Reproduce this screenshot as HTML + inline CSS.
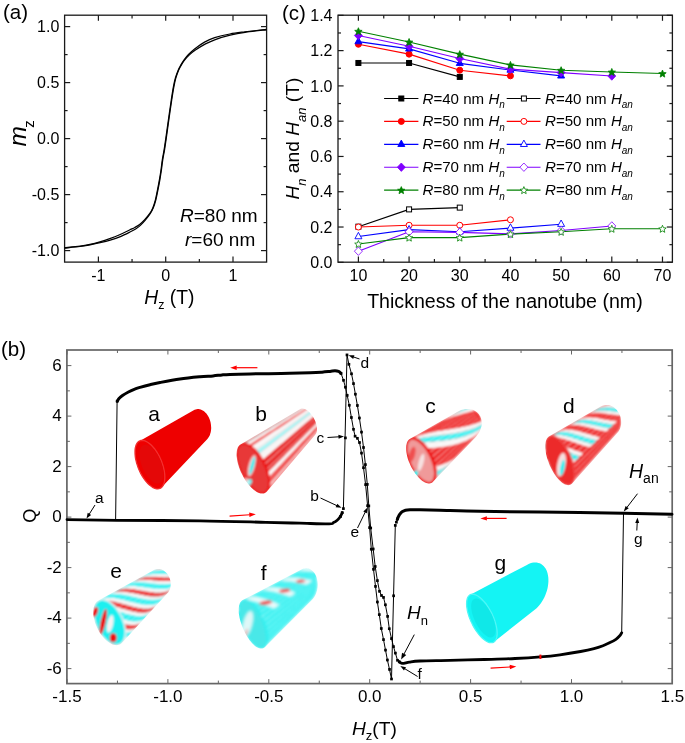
<!DOCTYPE html>
<html><head><meta charset="utf-8"><style>
html,body{margin:0;padding:0;background:#fff;}
svg{display:block;font-family:"Liberation Sans", sans-serif;will-change:transform;}
</style></head><body>
<svg width="685" height="743" viewBox="0 0 685 743">
<rect width="685" height="743" fill="#fff"/>
<rect x="64.6" y="15.2" width="202.00000000000003" height="246.90000000000003" fill="none" stroke="#1a1a1a" stroke-width="1.3"/>
<line x1="98.40" y1="262.10" x2="98.40" y2="256.50" stroke="#1a1a1a" stroke-width="1.2"/>
<line x1="98.40" y1="15.20" x2="98.40" y2="20.80" stroke="#1a1a1a" stroke-width="1.2"/>
<line x1="132.05" y1="262.10" x2="132.05" y2="258.90" stroke="#1a1a1a" stroke-width="1.2"/>
<line x1="132.05" y1="15.20" x2="132.05" y2="18.40" stroke="#1a1a1a" stroke-width="1.2"/>
<line x1="165.70" y1="262.10" x2="165.70" y2="256.50" stroke="#1a1a1a" stroke-width="1.2"/>
<line x1="165.70" y1="15.20" x2="165.70" y2="20.80" stroke="#1a1a1a" stroke-width="1.2"/>
<line x1="199.35" y1="262.10" x2="199.35" y2="258.90" stroke="#1a1a1a" stroke-width="1.2"/>
<line x1="199.35" y1="15.20" x2="199.35" y2="18.40" stroke="#1a1a1a" stroke-width="1.2"/>
<line x1="233.00" y1="262.10" x2="233.00" y2="256.50" stroke="#1a1a1a" stroke-width="1.2"/>
<line x1="233.00" y1="15.20" x2="233.00" y2="20.80" stroke="#1a1a1a" stroke-width="1.2"/>
<line x1="64.60" y1="26.60" x2="70.20" y2="26.60" stroke="#1a1a1a" stroke-width="1.2"/>
<line x1="266.60" y1="26.60" x2="261.00" y2="26.60" stroke="#1a1a1a" stroke-width="1.2"/>
<line x1="64.60" y1="54.60" x2="67.60" y2="54.60" stroke="#1a1a1a" stroke-width="1.2"/>
<line x1="266.60" y1="54.60" x2="263.60" y2="54.60" stroke="#1a1a1a" stroke-width="1.2"/>
<line x1="64.60" y1="82.60" x2="70.20" y2="82.60" stroke="#1a1a1a" stroke-width="1.2"/>
<line x1="266.60" y1="82.60" x2="261.00" y2="82.60" stroke="#1a1a1a" stroke-width="1.2"/>
<line x1="64.60" y1="110.60" x2="67.60" y2="110.60" stroke="#1a1a1a" stroke-width="1.2"/>
<line x1="266.60" y1="110.60" x2="263.60" y2="110.60" stroke="#1a1a1a" stroke-width="1.2"/>
<line x1="64.60" y1="138.60" x2="70.20" y2="138.60" stroke="#1a1a1a" stroke-width="1.2"/>
<line x1="266.60" y1="138.60" x2="261.00" y2="138.60" stroke="#1a1a1a" stroke-width="1.2"/>
<line x1="64.60" y1="166.60" x2="67.60" y2="166.60" stroke="#1a1a1a" stroke-width="1.2"/>
<line x1="266.60" y1="166.60" x2="263.60" y2="166.60" stroke="#1a1a1a" stroke-width="1.2"/>
<line x1="64.60" y1="194.60" x2="70.20" y2="194.60" stroke="#1a1a1a" stroke-width="1.2"/>
<line x1="266.60" y1="194.60" x2="261.00" y2="194.60" stroke="#1a1a1a" stroke-width="1.2"/>
<line x1="64.60" y1="222.60" x2="67.60" y2="222.60" stroke="#1a1a1a" stroke-width="1.2"/>
<line x1="266.60" y1="222.60" x2="263.60" y2="222.60" stroke="#1a1a1a" stroke-width="1.2"/>
<line x1="64.60" y1="250.60" x2="70.20" y2="250.60" stroke="#1a1a1a" stroke-width="1.2"/>
<line x1="266.60" y1="250.60" x2="261.00" y2="250.60" stroke="#1a1a1a" stroke-width="1.2"/>
<text x="59.30" y="32.30" font-size="16" text-anchor="end" fill="#000" >1.0</text>
<text x="59.30" y="88.30" font-size="16" text-anchor="end" fill="#000" >0.5</text>
<text x="59.30" y="144.30" font-size="16" text-anchor="end" fill="#000" >0.0</text>
<text x="59.30" y="200.30" font-size="16" text-anchor="end" fill="#000" >-0.5</text>
<text x="59.30" y="256.30" font-size="16" text-anchor="end" fill="#000" >-1.0</text>
<text x="98.40" y="280.50" font-size="16" text-anchor="middle" fill="#000" >-1</text>
<text x="165.70" y="280.50" font-size="16" text-anchor="middle" fill="#000" >0</text>
<text x="233.00" y="280.50" font-size="16" text-anchor="middle" fill="#000" >1</text>
<path d="M64.58,247.70 C67.15,247.43 75.74,246.66 79.97,246.10 C84.20,245.55 86.64,245.09 89.96,244.38 C93.28,243.68 96.59,242.82 99.89,241.87 C103.19,240.93 106.48,239.87 109.76,238.69 C113.05,237.50 116.31,236.23 119.61,234.78 C122.91,233.33 127.03,231.22 129.56,230.00 C132.09,228.79 133.10,228.42 134.78,227.50 C136.45,226.57 137.95,225.75 139.61,224.44 C141.27,223.13 143.02,221.48 144.72,219.65 C146.42,217.82 148.46,215.43 149.81,213.47 C151.16,211.52 151.88,210.18 152.82,207.92 C153.75,205.67 154.63,202.94 155.41,199.95 C156.19,196.96 156.84,193.29 157.50,189.96 C158.17,186.63 158.82,183.30 159.40,179.97 C159.99,176.63 160.52,173.30 161.00,169.97 C161.49,166.64 161.79,163.30 162.30,159.97 C162.82,156.64 163.52,153.53 164.10,149.97 C164.69,146.40 165.09,143.57 165.80,138.57 C166.52,133.57 167.49,126.41 168.40,119.97 C169.32,113.54 170.47,105.47 171.30,99.97 C172.14,94.47 172.72,90.63 173.40,86.96 C174.09,83.29 174.59,80.78 175.41,77.94 C176.23,75.10 177.40,72.10 178.32,69.92 C179.23,67.75 179.96,66.57 180.92,64.89 C181.88,63.21 182.82,61.57 184.08,59.83 C185.35,58.10 186.75,56.31 188.50,54.50 C190.25,52.68 191.93,51.01 194.59,48.94 C197.26,46.88 201.16,43.98 204.51,42.10 C207.86,40.22 210.46,39.01 214.68,37.66 C218.91,36.31 224.82,34.96 229.87,33.99 C234.91,33.02 238.88,32.61 244.96,31.84 C251.05,31.08 262.81,29.81 266.38,29.40" fill="none" stroke="#000" stroke-width="1.25"/>
<path d="M64.62,248.10 C67.19,247.83 75.79,247.04 80.03,246.50 C84.26,245.95 86.70,245.45 90.04,244.82 C93.39,244.19 96.75,243.51 100.11,242.73 C103.48,241.94 106.86,241.13 110.24,240.11 C113.62,239.10 117.02,238.00 120.39,236.62 C123.76,235.23 127.90,233.08 130.44,231.80 C132.98,230.51 133.96,229.98 135.62,228.90 C137.28,227.83 138.78,226.82 140.39,225.36 C142.00,223.90 143.65,222.09 145.28,220.15 C146.92,218.21 148.87,215.74 150.19,213.73 C151.51,211.72 152.25,210.36 153.18,208.08 C154.12,205.80 155.01,203.06 155.79,200.05 C156.58,197.04 157.23,193.38 157.90,190.04 C158.56,186.70 159.21,183.37 159.80,180.03 C160.38,176.70 160.91,173.36 161.40,170.03 C161.88,166.69 162.18,163.36 162.70,160.03 C163.21,156.70 163.91,153.60 164.50,150.03 C165.08,146.47 165.48,143.63 166.20,138.63 C166.91,133.63 167.88,126.46 168.80,120.03 C169.71,113.60 170.86,105.53 171.70,100.03 C172.53,94.53 173.11,90.70 173.80,87.04 C174.48,83.37 174.98,80.88 175.79,78.06 C176.61,75.23 177.77,72.24 178.68,70.08 C179.60,67.92 180.31,66.76 181.28,65.11 C182.26,63.45 183.22,61.83 184.52,60.17 C185.82,58.50 187.28,56.79 189.10,55.10 C190.91,53.42 192.67,51.93 195.41,50.06 C198.14,48.19 202.17,45.65 205.49,43.90 C208.81,42.15 211.21,40.99 215.32,39.54 C219.42,38.09 225.18,36.41 230.13,35.21 C235.09,34.01 238.99,33.26 245.04,32.36 C251.08,31.45 262.86,30.22 266.42,29.80" fill="none" stroke="#000" stroke-width="1.25"/>
<text x="3.00" y="18.70" font-size="20.5" text-anchor="start" fill="#000" >(a)</text>
<text x="180.00" y="222.00" font-size="19" text-anchor="start" fill="#000" ><tspan font-style="italic">R</tspan>=80 nm</text>
<text x="185.00" y="246.00" font-size="19" text-anchor="start" fill="#000" ><tspan font-style="italic">r</tspan>=60 nm</text>
<text x="144.20" y="303.80" font-size="19.3" text-anchor="start" fill="#000" ><tspan font-style="italic">H</tspan><tspan font-size="12.5" dy="5">z</tspan><tspan dy="-5"> (T)</tspan></text>
<text transform="translate(26.3,146.5) rotate(-90)" font-size="24.5" font-style="italic">m<tspan font-size="15" font-style="normal" dx="-1.6" dy="8">z</tspan></text>
<rect x="338.0" y="15.2" width="334.4" height="247.0" fill="none" stroke="#1a1a1a" stroke-width="1.3"/>
<line x1="358.40" y1="262.20" x2="358.40" y2="256.60" stroke="#1a1a1a" stroke-width="1.2"/>
<line x1="358.40" y1="15.20" x2="358.40" y2="20.80" stroke="#1a1a1a" stroke-width="1.2"/>
<line x1="383.74" y1="262.20" x2="383.74" y2="259.00" stroke="#1a1a1a" stroke-width="1.2"/>
<line x1="383.74" y1="15.20" x2="383.74" y2="18.40" stroke="#1a1a1a" stroke-width="1.2"/>
<line x1="409.08" y1="262.20" x2="409.08" y2="256.60" stroke="#1a1a1a" stroke-width="1.2"/>
<line x1="409.08" y1="15.20" x2="409.08" y2="20.80" stroke="#1a1a1a" stroke-width="1.2"/>
<line x1="434.42" y1="262.20" x2="434.42" y2="259.00" stroke="#1a1a1a" stroke-width="1.2"/>
<line x1="434.42" y1="15.20" x2="434.42" y2="18.40" stroke="#1a1a1a" stroke-width="1.2"/>
<line x1="459.76" y1="262.20" x2="459.76" y2="256.60" stroke="#1a1a1a" stroke-width="1.2"/>
<line x1="459.76" y1="15.20" x2="459.76" y2="20.80" stroke="#1a1a1a" stroke-width="1.2"/>
<line x1="485.10" y1="262.20" x2="485.10" y2="259.00" stroke="#1a1a1a" stroke-width="1.2"/>
<line x1="485.10" y1="15.20" x2="485.10" y2="18.40" stroke="#1a1a1a" stroke-width="1.2"/>
<line x1="510.44" y1="262.20" x2="510.44" y2="256.60" stroke="#1a1a1a" stroke-width="1.2"/>
<line x1="510.44" y1="15.20" x2="510.44" y2="20.80" stroke="#1a1a1a" stroke-width="1.2"/>
<line x1="535.78" y1="262.20" x2="535.78" y2="259.00" stroke="#1a1a1a" stroke-width="1.2"/>
<line x1="535.78" y1="15.20" x2="535.78" y2="18.40" stroke="#1a1a1a" stroke-width="1.2"/>
<line x1="561.12" y1="262.20" x2="561.12" y2="256.60" stroke="#1a1a1a" stroke-width="1.2"/>
<line x1="561.12" y1="15.20" x2="561.12" y2="20.80" stroke="#1a1a1a" stroke-width="1.2"/>
<line x1="586.46" y1="262.20" x2="586.46" y2="259.00" stroke="#1a1a1a" stroke-width="1.2"/>
<line x1="586.46" y1="15.20" x2="586.46" y2="18.40" stroke="#1a1a1a" stroke-width="1.2"/>
<line x1="611.80" y1="262.20" x2="611.80" y2="256.60" stroke="#1a1a1a" stroke-width="1.2"/>
<line x1="611.80" y1="15.20" x2="611.80" y2="20.80" stroke="#1a1a1a" stroke-width="1.2"/>
<line x1="637.14" y1="262.20" x2="637.14" y2="259.00" stroke="#1a1a1a" stroke-width="1.2"/>
<line x1="637.14" y1="15.20" x2="637.14" y2="18.40" stroke="#1a1a1a" stroke-width="1.2"/>
<line x1="662.48" y1="262.20" x2="662.48" y2="256.60" stroke="#1a1a1a" stroke-width="1.2"/>
<line x1="662.48" y1="15.20" x2="662.48" y2="20.80" stroke="#1a1a1a" stroke-width="1.2"/>
<line x1="338.00" y1="262.30" x2="343.60" y2="262.30" stroke="#1a1a1a" stroke-width="1.2"/>
<line x1="672.40" y1="262.30" x2="666.80" y2="262.30" stroke="#1a1a1a" stroke-width="1.2"/>
<line x1="338.00" y1="244.66" x2="341.00" y2="244.66" stroke="#1a1a1a" stroke-width="1.2"/>
<line x1="672.40" y1="244.66" x2="669.40" y2="244.66" stroke="#1a1a1a" stroke-width="1.2"/>
<line x1="338.00" y1="227.02" x2="343.60" y2="227.02" stroke="#1a1a1a" stroke-width="1.2"/>
<line x1="672.40" y1="227.02" x2="666.80" y2="227.02" stroke="#1a1a1a" stroke-width="1.2"/>
<line x1="338.00" y1="209.38" x2="341.00" y2="209.38" stroke="#1a1a1a" stroke-width="1.2"/>
<line x1="672.40" y1="209.38" x2="669.40" y2="209.38" stroke="#1a1a1a" stroke-width="1.2"/>
<line x1="338.00" y1="191.74" x2="343.60" y2="191.74" stroke="#1a1a1a" stroke-width="1.2"/>
<line x1="672.40" y1="191.74" x2="666.80" y2="191.74" stroke="#1a1a1a" stroke-width="1.2"/>
<line x1="338.00" y1="174.10" x2="341.00" y2="174.10" stroke="#1a1a1a" stroke-width="1.2"/>
<line x1="672.40" y1="174.10" x2="669.40" y2="174.10" stroke="#1a1a1a" stroke-width="1.2"/>
<line x1="338.00" y1="156.46" x2="343.60" y2="156.46" stroke="#1a1a1a" stroke-width="1.2"/>
<line x1="672.40" y1="156.46" x2="666.80" y2="156.46" stroke="#1a1a1a" stroke-width="1.2"/>
<line x1="338.00" y1="138.82" x2="341.00" y2="138.82" stroke="#1a1a1a" stroke-width="1.2"/>
<line x1="672.40" y1="138.82" x2="669.40" y2="138.82" stroke="#1a1a1a" stroke-width="1.2"/>
<line x1="338.00" y1="121.18" x2="343.60" y2="121.18" stroke="#1a1a1a" stroke-width="1.2"/>
<line x1="672.40" y1="121.18" x2="666.80" y2="121.18" stroke="#1a1a1a" stroke-width="1.2"/>
<line x1="338.00" y1="103.54" x2="341.00" y2="103.54" stroke="#1a1a1a" stroke-width="1.2"/>
<line x1="672.40" y1="103.54" x2="669.40" y2="103.54" stroke="#1a1a1a" stroke-width="1.2"/>
<line x1="338.00" y1="85.90" x2="343.60" y2="85.90" stroke="#1a1a1a" stroke-width="1.2"/>
<line x1="672.40" y1="85.90" x2="666.80" y2="85.90" stroke="#1a1a1a" stroke-width="1.2"/>
<line x1="338.00" y1="68.26" x2="341.00" y2="68.26" stroke="#1a1a1a" stroke-width="1.2"/>
<line x1="672.40" y1="68.26" x2="669.40" y2="68.26" stroke="#1a1a1a" stroke-width="1.2"/>
<line x1="338.00" y1="50.62" x2="343.60" y2="50.62" stroke="#1a1a1a" stroke-width="1.2"/>
<line x1="672.40" y1="50.62" x2="666.80" y2="50.62" stroke="#1a1a1a" stroke-width="1.2"/>
<line x1="338.00" y1="32.98" x2="341.00" y2="32.98" stroke="#1a1a1a" stroke-width="1.2"/>
<line x1="672.40" y1="32.98" x2="669.40" y2="32.98" stroke="#1a1a1a" stroke-width="1.2"/>
<line x1="338.00" y1="15.34" x2="343.60" y2="15.34" stroke="#1a1a1a" stroke-width="1.2"/>
<line x1="672.40" y1="15.34" x2="666.80" y2="15.34" stroke="#1a1a1a" stroke-width="1.2"/>
<text x="332.50" y="268.00" font-size="16" text-anchor="end" fill="#000" >0.0</text>
<text x="332.50" y="232.72" font-size="16" text-anchor="end" fill="#000" >0.2</text>
<text x="332.50" y="197.44" font-size="16" text-anchor="end" fill="#000" >0.4</text>
<text x="332.50" y="162.16" font-size="16" text-anchor="end" fill="#000" >0.6</text>
<text x="332.50" y="126.88" font-size="16" text-anchor="end" fill="#000" >0.8</text>
<text x="332.50" y="91.60" font-size="16" text-anchor="end" fill="#000" >1.0</text>
<text x="332.50" y="56.32" font-size="16" text-anchor="end" fill="#000" >1.2</text>
<text x="332.50" y="21.04" font-size="16" text-anchor="end" fill="#000" >1.4</text>
<text x="358.40" y="280.50" font-size="16" text-anchor="middle" fill="#000" >10</text>
<text x="409.08" y="280.50" font-size="16" text-anchor="middle" fill="#000" >20</text>
<text x="459.76" y="280.50" font-size="16" text-anchor="middle" fill="#000" >30</text>
<text x="510.44" y="280.50" font-size="16" text-anchor="middle" fill="#000" >40</text>
<text x="561.12" y="280.50" font-size="16" text-anchor="middle" fill="#000" >50</text>
<text x="611.80" y="280.50" font-size="16" text-anchor="middle" fill="#000" >60</text>
<text x="662.48" y="280.50" font-size="16" text-anchor="middle" fill="#000" >70</text>
<text x="282.00" y="19.60" font-size="20.5" text-anchor="start" fill="#000" >(c)</text>
<text x="504.90" y="307.60" font-size="19.6" text-anchor="middle" fill="#000" >Thickness of the nanotube (nm)</text>
<text transform="translate(299.2,138.6) rotate(-90)" font-size="19.2" text-anchor="middle"><tspan font-style="italic">H</tspan><tspan font-size="13" font-style="italic" dy="6.5">n</tspan><tspan dy="-6.5"> and </tspan><tspan font-style="italic">H</tspan><tspan font-size="13" font-style="italic" dy="6.5">an</tspan><tspan dy="-6.5"> (T)</tspan></text>
<polyline points="358.40,62.97 409.08,62.97 459.76,76.90" fill="none" stroke="#000000" stroke-width="1.15" stroke-linejoin="round" stroke-linecap="round" />
<polyline points="358.40,226.67 409.08,209.38 459.76,207.62" fill="none" stroke="#000000" stroke-width="1.15" stroke-linejoin="round" stroke-linecap="round" />
<polyline points="358.40,44.27 409.08,54.15 459.76,70.20 510.44,75.85" fill="none" stroke="#ff0000" stroke-width="1.15" stroke-linejoin="round" stroke-linecap="round" />
<polyline points="358.40,227.02 409.08,225.26 459.76,225.26 510.44,219.79" fill="none" stroke="#ff0000" stroke-width="1.15" stroke-linejoin="round" stroke-linecap="round" />
<polyline points="358.40,41.62 409.08,48.86 459.76,63.32 510.44,70.02 561.12,75.85" fill="none" stroke="#0000ff" stroke-width="1.15" stroke-linejoin="round" stroke-linecap="round" />
<polyline points="358.40,236.55 409.08,229.67 459.76,231.78 510.44,228.08 561.12,224.20" fill="none" stroke="#0000ff" stroke-width="1.15" stroke-linejoin="round" stroke-linecap="round" />
<polyline points="358.40,35.45 409.08,46.21 459.76,58.56 510.44,69.14 561.12,72.67 611.80,76.02" fill="none" stroke="#8000ff" stroke-width="1.15" stroke-linejoin="round" stroke-linecap="round" />
<polyline points="358.40,251.19 409.08,231.78 459.76,232.31 510.44,233.90 561.12,230.55 611.80,225.96" fill="none" stroke="#8000ff" stroke-width="1.15" stroke-linejoin="round" stroke-linecap="round" />
<polyline points="358.40,31.22 409.08,41.98 459.76,54.15 510.44,64.91 561.12,70.20 611.80,71.96 662.48,73.55" fill="none" stroke="#008000" stroke-width="1.15" stroke-linejoin="round" stroke-linecap="round" />
<polyline points="358.40,243.95 409.08,237.60 459.76,237.60 510.44,234.08 561.12,231.78 611.80,228.78 662.48,228.78" fill="none" stroke="#008000" stroke-width="1.15" stroke-linejoin="round" stroke-linecap="round" />
<rect x="355.90" y="60.47" width="5.00" height="5.00" fill="#000000" stroke="#000000" stroke-width="1.0"/>
<rect x="406.58" y="60.47" width="5.00" height="5.00" fill="#000000" stroke="#000000" stroke-width="1.0"/>
<rect x="457.26" y="74.40" width="5.00" height="5.00" fill="#000000" stroke="#000000" stroke-width="1.0"/>
<rect x="355.90" y="224.17" width="5.00" height="5.00" fill="#fff" stroke="#000000" stroke-width="1.0"/>
<rect x="406.58" y="206.88" width="5.00" height="5.00" fill="#fff" stroke="#000000" stroke-width="1.0"/>
<rect x="457.26" y="205.12" width="5.00" height="5.00" fill="#fff" stroke="#000000" stroke-width="1.0"/>
<circle cx="358.40" cy="44.27" r="3.00" fill="#ff0000" stroke="#ff0000" stroke-width="1.0"/>
<circle cx="409.08" cy="54.15" r="3.00" fill="#ff0000" stroke="#ff0000" stroke-width="1.0"/>
<circle cx="459.76" cy="70.20" r="3.00" fill="#ff0000" stroke="#ff0000" stroke-width="1.0"/>
<circle cx="510.44" cy="75.85" r="3.00" fill="#ff0000" stroke="#ff0000" stroke-width="1.0"/>
<circle cx="358.40" cy="227.02" r="3.00" fill="#fff" stroke="#ff0000" stroke-width="1.0"/>
<circle cx="409.08" cy="225.26" r="3.00" fill="#fff" stroke="#ff0000" stroke-width="1.0"/>
<circle cx="459.76" cy="225.26" r="3.00" fill="#fff" stroke="#ff0000" stroke-width="1.0"/>
<circle cx="510.44" cy="219.79" r="3.00" fill="#fff" stroke="#ff0000" stroke-width="1.0"/>
<polygon points="358.40,37.42 361.90,43.82 354.90,43.82" fill="#0000ff" stroke="#0000ff" stroke-width="0.9" stroke-linejoin="miter"/>
<polygon points="409.08,44.66 412.58,51.06 405.58,51.06" fill="#0000ff" stroke="#0000ff" stroke-width="0.9" stroke-linejoin="miter"/>
<polygon points="459.76,59.12 463.26,65.52 456.26,65.52" fill="#0000ff" stroke="#0000ff" stroke-width="0.9" stroke-linejoin="miter"/>
<polygon points="510.44,65.82 513.94,72.22 506.94,72.22" fill="#0000ff" stroke="#0000ff" stroke-width="0.9" stroke-linejoin="miter"/>
<polygon points="561.12,71.65 564.62,78.05 557.62,78.05" fill="#0000ff" stroke="#0000ff" stroke-width="0.9" stroke-linejoin="miter"/>
<polygon points="358.40,232.35 361.90,238.75 354.90,238.75" fill="#fff" stroke="#0000ff" stroke-width="0.9" stroke-linejoin="miter"/>
<polygon points="409.08,225.47 412.58,231.87 405.58,231.87" fill="#fff" stroke="#0000ff" stroke-width="0.9" stroke-linejoin="miter"/>
<polygon points="459.76,227.58 463.26,233.98 456.26,233.98" fill="#fff" stroke="#0000ff" stroke-width="0.9" stroke-linejoin="miter"/>
<polygon points="510.44,223.88 513.94,230.28 506.94,230.28" fill="#fff" stroke="#0000ff" stroke-width="0.9" stroke-linejoin="miter"/>
<polygon points="561.12,220.00 564.62,226.40 557.62,226.40" fill="#fff" stroke="#0000ff" stroke-width="0.9" stroke-linejoin="miter"/>
<polygon points="358.40,31.25 362.40,35.45 358.40,39.65 354.40,35.45" fill="#8000ff" stroke="#8000ff" stroke-width="0.8"/>
<polygon points="409.08,42.01 413.08,46.21 409.08,50.41 405.08,46.21" fill="#8000ff" stroke="#8000ff" stroke-width="0.8"/>
<polygon points="459.76,54.36 463.76,58.56 459.76,62.76 455.76,58.56" fill="#8000ff" stroke="#8000ff" stroke-width="0.8"/>
<polygon points="510.44,64.94 514.44,69.14 510.44,73.34 506.44,69.14" fill="#8000ff" stroke="#8000ff" stroke-width="0.8"/>
<polygon points="561.12,68.47 565.12,72.67 561.12,76.87 557.12,72.67" fill="#8000ff" stroke="#8000ff" stroke-width="0.8"/>
<polygon points="611.80,71.82 615.80,76.02 611.80,80.22 607.80,76.02" fill="#8000ff" stroke="#8000ff" stroke-width="0.8"/>
<polygon points="358.40,246.99 362.40,251.19 358.40,255.39 354.40,251.19" fill="#fff" stroke="#8000ff" stroke-width="0.8"/>
<polygon points="409.08,227.58 413.08,231.78 409.08,235.98 405.08,231.78" fill="#fff" stroke="#8000ff" stroke-width="0.8"/>
<polygon points="459.76,228.11 463.76,232.31 459.76,236.51 455.76,232.31" fill="#fff" stroke="#8000ff" stroke-width="0.8"/>
<polygon points="510.44,229.70 514.44,233.90 510.44,238.10 506.44,233.90" fill="#fff" stroke="#8000ff" stroke-width="0.8"/>
<polygon points="561.12,226.35 565.12,230.55 561.12,234.75 557.12,230.55" fill="#fff" stroke="#8000ff" stroke-width="0.8"/>
<polygon points="611.80,221.76 615.80,225.96 611.80,230.16 607.80,225.96" fill="#fff" stroke="#8000ff" stroke-width="0.8"/>
<polygon points="358.40,27.72 359.43,30.20 362.11,30.41 360.07,32.16 360.69,34.77 358.40,33.37 356.11,34.77 356.73,32.16 354.69,30.41 357.37,30.20" fill="#008000" stroke="#008000" stroke-width="0.8" stroke-linejoin="miter"/>
<polygon points="409.08,38.48 410.11,40.96 412.79,41.17 410.75,42.92 411.37,45.53 409.08,44.13 406.79,45.53 407.41,42.92 405.37,41.17 408.05,40.96" fill="#008000" stroke="#008000" stroke-width="0.8" stroke-linejoin="miter"/>
<polygon points="459.76,50.65 460.79,53.13 463.47,53.34 461.43,55.09 462.05,57.70 459.76,56.30 457.47,57.70 458.09,55.09 456.05,53.34 458.73,53.13" fill="#008000" stroke="#008000" stroke-width="0.8" stroke-linejoin="miter"/>
<polygon points="510.44,61.41 511.47,63.89 514.15,64.10 512.11,65.85 512.73,68.46 510.44,67.06 508.15,68.46 508.77,65.85 506.73,64.10 509.41,63.89" fill="#008000" stroke="#008000" stroke-width="0.8" stroke-linejoin="miter"/>
<polygon points="561.12,66.70 562.15,69.18 564.83,69.40 562.79,71.14 563.41,73.76 561.12,72.36 558.83,73.76 559.45,71.14 557.41,69.40 560.09,69.18" fill="#008000" stroke="#008000" stroke-width="0.8" stroke-linejoin="miter"/>
<polygon points="611.80,68.46 612.83,70.94 615.51,71.16 613.47,72.91 614.09,75.52 611.80,74.12 609.51,75.52 610.13,72.91 608.09,71.16 610.77,70.94" fill="#008000" stroke="#008000" stroke-width="0.8" stroke-linejoin="miter"/>
<polygon points="662.48,70.05 663.51,72.53 666.19,72.75 664.15,74.49 664.77,77.11 662.48,75.71 660.19,77.11 660.81,74.49 658.77,72.75 661.45,72.53" fill="#008000" stroke="#008000" stroke-width="0.8" stroke-linejoin="miter"/>
<polygon points="358.40,240.45 359.43,242.93 362.11,243.15 360.07,244.90 360.69,247.51 358.40,246.11 356.11,247.51 356.73,244.90 354.69,243.15 357.37,242.93" fill="#fff" stroke="#008000" stroke-width="0.8" stroke-linejoin="miter"/>
<polygon points="409.08,234.10 410.11,236.58 412.79,236.80 410.75,238.55 411.37,241.16 409.08,239.76 406.79,241.16 407.41,238.55 405.37,236.80 408.05,236.58" fill="#fff" stroke="#008000" stroke-width="0.8" stroke-linejoin="miter"/>
<polygon points="459.76,234.10 460.79,236.58 463.47,236.80 461.43,238.55 462.05,241.16 459.76,239.76 457.47,241.16 458.09,238.55 456.05,236.80 458.73,236.58" fill="#fff" stroke="#008000" stroke-width="0.8" stroke-linejoin="miter"/>
<polygon points="510.44,230.58 511.47,233.06 514.15,233.27 512.11,235.02 512.73,237.63 510.44,236.23 508.15,237.63 508.77,235.02 506.73,233.27 509.41,233.06" fill="#fff" stroke="#008000" stroke-width="0.8" stroke-linejoin="miter"/>
<polygon points="561.12,228.28 562.15,230.76 564.83,230.98 562.79,232.73 563.41,235.34 561.12,233.94 558.83,235.34 559.45,232.73 557.41,230.98 560.09,230.76" fill="#fff" stroke="#008000" stroke-width="0.8" stroke-linejoin="miter"/>
<polygon points="611.80,225.28 612.83,227.76 615.51,227.98 613.47,229.73 614.09,232.34 611.80,230.94 609.51,232.34 610.13,229.73 608.09,227.98 610.77,227.76" fill="#fff" stroke="#008000" stroke-width="0.8" stroke-linejoin="miter"/>
<polygon points="662.48,225.28 663.51,227.76 666.19,227.98 664.15,229.73 664.77,232.34 662.48,230.94 660.19,232.34 660.81,229.73 658.77,227.98 661.45,227.76" fill="#fff" stroke="#008000" stroke-width="0.8" stroke-linejoin="miter"/>
<line x1="384.10" y1="98.50" x2="418.40" y2="98.50" stroke="#000000" stroke-width="1.15"/>
<rect x="398.80" y="96.00" width="5.00" height="5.00" fill="#000000" stroke="#000000" stroke-width="1.0"/>
<line x1="506.70" y1="98.50" x2="540.50" y2="98.50" stroke="#000000" stroke-width="1.15"/>
<rect x="521.40" y="96.00" width="5.00" height="5.00" fill="#fff" stroke="#000000" stroke-width="1.0"/>
<text x="422.50" y="103.50" font-size="15.1" text-anchor="start" fill="#000" ><tspan font-style="italic">R</tspan>=40 nm <tspan font-style="italic">H</tspan><tspan font-size="10" font-style="italic" dy="4.5">n</tspan></text>
<text x="545.00" y="103.50" font-size="15.1" text-anchor="start" fill="#000" ><tspan font-style="italic">R</tspan>=40 nm <tspan font-style="italic">H</tspan><tspan font-size="10" font-style="italic" dy="4.5">an</tspan></text>
<line x1="384.10" y1="121.40" x2="418.40" y2="121.40" stroke="#ff0000" stroke-width="1.15"/>
<circle cx="401.30" cy="121.40" r="3.00" fill="#ff0000" stroke="#ff0000" stroke-width="1.0"/>
<line x1="506.70" y1="121.40" x2="540.50" y2="121.40" stroke="#ff0000" stroke-width="1.15"/>
<circle cx="523.90" cy="121.40" r="3.00" fill="#fff" stroke="#ff0000" stroke-width="1.0"/>
<text x="422.50" y="126.40" font-size="15.1" text-anchor="start" fill="#000" ><tspan font-style="italic">R</tspan>=50 nm <tspan font-style="italic">H</tspan><tspan font-size="10" font-style="italic" dy="4.5">n</tspan></text>
<text x="545.00" y="126.40" font-size="15.1" text-anchor="start" fill="#000" ><tspan font-style="italic">R</tspan>=50 nm <tspan font-style="italic">H</tspan><tspan font-size="10" font-style="italic" dy="4.5">an</tspan></text>
<line x1="384.10" y1="144.30" x2="418.40" y2="144.30" stroke="#0000ff" stroke-width="1.15"/>
<polygon points="401.30,140.10 404.80,146.50 397.80,146.50" fill="#0000ff" stroke="#0000ff" stroke-width="0.9" stroke-linejoin="miter"/>
<line x1="506.70" y1="144.30" x2="540.50" y2="144.30" stroke="#0000ff" stroke-width="1.15"/>
<polygon points="523.90,140.10 527.40,146.50 520.40,146.50" fill="#fff" stroke="#0000ff" stroke-width="0.9" stroke-linejoin="miter"/>
<text x="422.50" y="149.30" font-size="15.1" text-anchor="start" fill="#000" ><tspan font-style="italic">R</tspan>=60 nm <tspan font-style="italic">H</tspan><tspan font-size="10" font-style="italic" dy="4.5">n</tspan></text>
<text x="545.00" y="149.30" font-size="15.1" text-anchor="start" fill="#000" ><tspan font-style="italic">R</tspan>=60 nm <tspan font-style="italic">H</tspan><tspan font-size="10" font-style="italic" dy="4.5">an</tspan></text>
<line x1="384.10" y1="167.20" x2="418.40" y2="167.20" stroke="#8000ff" stroke-width="1.15"/>
<polygon points="401.30,163.00 405.30,167.20 401.30,171.40 397.30,167.20" fill="#8000ff" stroke="#8000ff" stroke-width="0.8"/>
<line x1="506.70" y1="167.20" x2="540.50" y2="167.20" stroke="#8000ff" stroke-width="1.15"/>
<polygon points="523.90,163.00 527.90,167.20 523.90,171.40 519.90,167.20" fill="#fff" stroke="#8000ff" stroke-width="0.8"/>
<text x="422.50" y="172.20" font-size="15.1" text-anchor="start" fill="#000" ><tspan font-style="italic">R</tspan>=70 nm <tspan font-style="italic">H</tspan><tspan font-size="10" font-style="italic" dy="4.5">n</tspan></text>
<text x="545.00" y="172.20" font-size="15.1" text-anchor="start" fill="#000" ><tspan font-style="italic">R</tspan>=70 nm <tspan font-style="italic">H</tspan><tspan font-size="10" font-style="italic" dy="4.5">an</tspan></text>
<line x1="384.10" y1="190.10" x2="418.40" y2="190.10" stroke="#008000" stroke-width="1.15"/>
<polygon points="401.30,186.60 402.33,189.08 405.01,189.29 402.97,191.04 403.59,193.66 401.30,192.25 399.01,193.66 399.63,191.04 397.59,189.29 400.27,189.08" fill="#008000" stroke="#008000" stroke-width="0.8" stroke-linejoin="miter"/>
<line x1="506.70" y1="190.10" x2="540.50" y2="190.10" stroke="#008000" stroke-width="1.15"/>
<polygon points="523.90,186.60 524.93,189.08 527.61,189.29 525.57,191.04 526.19,193.66 523.90,192.25 521.61,193.66 522.23,191.04 520.19,189.29 522.87,189.08" fill="#fff" stroke="#008000" stroke-width="0.8" stroke-linejoin="miter"/>
<text x="422.50" y="195.10" font-size="15.1" text-anchor="start" fill="#000" ><tspan font-style="italic">R</tspan>=80 nm <tspan font-style="italic">H</tspan><tspan font-size="10" font-style="italic" dy="4.5">n</tspan></text>
<text x="545.00" y="195.10" font-size="15.1" text-anchor="start" fill="#000" ><tspan font-style="italic">R</tspan>=80 nm <tspan font-style="italic">H</tspan><tspan font-size="10" font-style="italic" dy="4.5">an</tspan></text>
<rect x="66.9" y="350.0" width="605.3000000000001" height="333.6" fill="none" stroke="#666" stroke-width="1.7"/>
<line x1="67.00" y1="683.60" x2="67.00" y2="679.10" stroke="#666" stroke-width="1.0"/>
<line x1="67.00" y1="350.00" x2="67.00" y2="354.50" stroke="#666" stroke-width="1.0"/>
<line x1="117.45" y1="683.60" x2="117.45" y2="680.60" stroke="#666" stroke-width="1.0"/>
<line x1="117.45" y1="350.00" x2="117.45" y2="353.00" stroke="#666" stroke-width="1.0"/>
<line x1="167.90" y1="683.60" x2="167.90" y2="679.10" stroke="#666" stroke-width="1.0"/>
<line x1="167.90" y1="350.00" x2="167.90" y2="354.50" stroke="#666" stroke-width="1.0"/>
<line x1="218.35" y1="683.60" x2="218.35" y2="680.60" stroke="#666" stroke-width="1.0"/>
<line x1="218.35" y1="350.00" x2="218.35" y2="353.00" stroke="#666" stroke-width="1.0"/>
<line x1="268.80" y1="683.60" x2="268.80" y2="679.10" stroke="#666" stroke-width="1.0"/>
<line x1="268.80" y1="350.00" x2="268.80" y2="354.50" stroke="#666" stroke-width="1.0"/>
<line x1="319.25" y1="683.60" x2="319.25" y2="680.60" stroke="#666" stroke-width="1.0"/>
<line x1="319.25" y1="350.00" x2="319.25" y2="353.00" stroke="#666" stroke-width="1.0"/>
<line x1="369.70" y1="683.60" x2="369.70" y2="679.10" stroke="#666" stroke-width="1.0"/>
<line x1="369.70" y1="350.00" x2="369.70" y2="354.50" stroke="#666" stroke-width="1.0"/>
<line x1="420.15" y1="683.60" x2="420.15" y2="680.60" stroke="#666" stroke-width="1.0"/>
<line x1="420.15" y1="350.00" x2="420.15" y2="353.00" stroke="#666" stroke-width="1.0"/>
<line x1="470.60" y1="683.60" x2="470.60" y2="679.10" stroke="#666" stroke-width="1.0"/>
<line x1="470.60" y1="350.00" x2="470.60" y2="354.50" stroke="#666" stroke-width="1.0"/>
<line x1="521.05" y1="683.60" x2="521.05" y2="680.60" stroke="#666" stroke-width="1.0"/>
<line x1="521.05" y1="350.00" x2="521.05" y2="353.00" stroke="#666" stroke-width="1.0"/>
<line x1="571.50" y1="683.60" x2="571.50" y2="679.10" stroke="#666" stroke-width="1.0"/>
<line x1="571.50" y1="350.00" x2="571.50" y2="354.50" stroke="#666" stroke-width="1.0"/>
<line x1="621.95" y1="683.60" x2="621.95" y2="680.60" stroke="#666" stroke-width="1.0"/>
<line x1="621.95" y1="350.00" x2="621.95" y2="353.00" stroke="#666" stroke-width="1.0"/>
<line x1="672.40" y1="683.60" x2="672.40" y2="679.10" stroke="#666" stroke-width="1.0"/>
<line x1="672.40" y1="350.00" x2="672.40" y2="354.50" stroke="#666" stroke-width="1.0"/>
<line x1="66.90" y1="668.60" x2="71.40" y2="668.60" stroke="#666" stroke-width="1.0"/>
<line x1="672.20" y1="668.60" x2="667.70" y2="668.60" stroke="#666" stroke-width="1.0"/>
<line x1="66.90" y1="643.35" x2="69.90" y2="643.35" stroke="#666" stroke-width="1.0"/>
<line x1="672.20" y1="643.35" x2="669.20" y2="643.35" stroke="#666" stroke-width="1.0"/>
<line x1="66.90" y1="618.10" x2="71.40" y2="618.10" stroke="#666" stroke-width="1.0"/>
<line x1="672.20" y1="618.10" x2="667.70" y2="618.10" stroke="#666" stroke-width="1.0"/>
<line x1="66.90" y1="592.85" x2="69.90" y2="592.85" stroke="#666" stroke-width="1.0"/>
<line x1="672.20" y1="592.85" x2="669.20" y2="592.85" stroke="#666" stroke-width="1.0"/>
<line x1="66.90" y1="567.60" x2="71.40" y2="567.60" stroke="#666" stroke-width="1.0"/>
<line x1="672.20" y1="567.60" x2="667.70" y2="567.60" stroke="#666" stroke-width="1.0"/>
<line x1="66.90" y1="542.35" x2="69.90" y2="542.35" stroke="#666" stroke-width="1.0"/>
<line x1="672.20" y1="542.35" x2="669.20" y2="542.35" stroke="#666" stroke-width="1.0"/>
<line x1="66.90" y1="517.10" x2="71.40" y2="517.10" stroke="#666" stroke-width="1.0"/>
<line x1="672.20" y1="517.10" x2="667.70" y2="517.10" stroke="#666" stroke-width="1.0"/>
<line x1="66.90" y1="491.85" x2="69.90" y2="491.85" stroke="#666" stroke-width="1.0"/>
<line x1="672.20" y1="491.85" x2="669.20" y2="491.85" stroke="#666" stroke-width="1.0"/>
<line x1="66.90" y1="466.60" x2="71.40" y2="466.60" stroke="#666" stroke-width="1.0"/>
<line x1="672.20" y1="466.60" x2="667.70" y2="466.60" stroke="#666" stroke-width="1.0"/>
<line x1="66.90" y1="441.35" x2="69.90" y2="441.35" stroke="#666" stroke-width="1.0"/>
<line x1="672.20" y1="441.35" x2="669.20" y2="441.35" stroke="#666" stroke-width="1.0"/>
<line x1="66.90" y1="416.10" x2="71.40" y2="416.10" stroke="#666" stroke-width="1.0"/>
<line x1="672.20" y1="416.10" x2="667.70" y2="416.10" stroke="#666" stroke-width="1.0"/>
<line x1="66.90" y1="390.85" x2="69.90" y2="390.85" stroke="#666" stroke-width="1.0"/>
<line x1="672.20" y1="390.85" x2="669.20" y2="390.85" stroke="#666" stroke-width="1.0"/>
<line x1="66.90" y1="365.60" x2="71.40" y2="365.60" stroke="#666" stroke-width="1.0"/>
<line x1="672.20" y1="365.60" x2="667.70" y2="365.60" stroke="#666" stroke-width="1.0"/>
<text x="61.80" y="370.80" font-size="17" text-anchor="end" fill="#000" >6</text>
<text x="61.80" y="421.30" font-size="17" text-anchor="end" fill="#000" >4</text>
<text x="61.80" y="471.80" font-size="17" text-anchor="end" fill="#000" >2</text>
<text x="61.80" y="522.30" font-size="17" text-anchor="end" fill="#000" >0</text>
<text x="61.80" y="572.80" font-size="17" text-anchor="end" fill="#000" >-2</text>
<text x="61.80" y="623.30" font-size="17" text-anchor="end" fill="#000" >-4</text>
<text x="61.80" y="673.80" font-size="17" text-anchor="end" fill="#000" >-6</text>
<text x="67.00" y="702.00" font-size="17" text-anchor="middle" fill="#000" >-1.5</text>
<text x="167.90" y="702.00" font-size="17" text-anchor="middle" fill="#000" >-1.0</text>
<text x="268.80" y="702.00" font-size="17" text-anchor="middle" fill="#000" >-0.5</text>
<text x="369.70" y="702.00" font-size="17" text-anchor="middle" fill="#000" >0.0</text>
<text x="470.60" y="702.00" font-size="17" text-anchor="middle" fill="#000" >0.5</text>
<text x="571.50" y="702.00" font-size="17" text-anchor="middle" fill="#000" >1.0</text>
<text x="672.40" y="702.00" font-size="17" text-anchor="middle" fill="#000" >1.5</text>
<text x="1.00" y="355.70" font-size="20.5" text-anchor="start" fill="#000" >(b)</text>
<text transform="translate(36.3,515.8) rotate(-90)" font-size="18" text-anchor="middle">Q</text>
<text x="352.00" y="735.20" font-size="19.2" text-anchor="start" fill="#000" ><tspan font-style="italic">H</tspan><tspan font-size="13" dy="4.8">z</tspan><tspan dy="-4.8">(T)</tspan></text>
<polygon points="135.0,452.9 135.0,451.1 135.1,449.4 135.3,447.8 135.7,446.4 136.1,445.1 136.7,443.9 137.3,442.9 138.1,442.0 138.9,441.4 193.7,410.2 194.6,409.7 195.6,409.4 196.6,409.2 197.6,409.1 198.6,409.1 199.6,409.2 200.7,409.5 201.7,409.9 202.7,410.4 203.7,411.1 204.6,411.8 205.5,412.7 206.4,413.6 207.2,414.7 207.9,415.8 208.6,417.0 209.2,418.3 209.7,419.6 210.2,420.9 210.6,422.4 210.8,423.8 211.0,425.2 211.1,426.7 211.2,428.1 211.1,429.6 210.9,430.9 210.7,432.3 210.3,433.6 209.9,434.9 209.4,436.0 208.8,437.1 208.1,438.1 207.4,439.0 161.7,487.2 160.9,487.9 159.9,488.4 158.9,488.7 157.9,488.9 156.7,488.8 155.6,488.6 154.3,488.2 153.1,487.6 151.8,486.8 150.5,485.8 149.2,484.7 147.9,483.5 146.6,482.1 145.3,480.6 144.1,478.9 142.9,477.2 141.8,475.3 140.7,473.4 139.8,471.4 138.8,469.3 138.0,467.2 137.3,465.1 136.6,463.0 136.1,460.9 135.6,458.8 135.3,456.8 135.1,454.8" fill="#ee0000"/>
<polygon points="159.9,488.4 158.9,488.7 157.9,488.9 156.7,488.8 155.6,488.6 154.3,488.2 153.1,487.6 151.8,486.8 150.5,485.8 149.2,484.7 147.9,483.5 146.6,482.1 145.3,480.6 144.1,478.9 142.9,477.2 141.8,475.3 140.7,473.4 139.8,471.4 138.8,469.3 138.0,467.2 137.3,465.1 136.6,463.0 136.1,460.9 135.6,458.8 135.3,456.8 135.1,454.8 135.0,452.9 135.0,451.1 135.1,449.4 135.3,447.8 135.7,446.4 136.1,445.1 136.7,443.9 137.3,442.9 138.1,442.0 138.9,441.4 139.9,440.9 140.9,440.5 141.9,440.4 143.1,440.5 144.3,440.7 145.5,441.1 146.7,441.7 148.0,442.5 149.3,443.4 150.6,444.5 151.9,445.8 153.2,447.2 154.5,448.7 155.7,450.3 156.9,452.1 158.0,454.0 159.1,455.9 160.1,457.9 161.0,460.0 161.8,462.0 162.5,464.2 163.2,466.3 163.7,468.4 164.2,470.4 164.5,472.5 164.7,474.4 164.8,476.3 164.8,478.1 164.7,479.8 164.5,481.4 164.1,482.9 163.7,484.2 163.1,485.4 162.5,486.4 161.7,487.2 160.9,487.9" fill="#ee0000" stroke="#f23030" stroke-width="1.3"/>
<polygon points="159.4,483.1 158.6,483.4 157.8,483.5 156.9,483.5 155.9,483.3 154.9,482.9 153.9,482.5 152.9,481.9 151.9,481.1 150.8,480.2 149.8,479.2 148.8,478.1 147.8,476.9 146.8,475.6 145.8,474.1 144.9,472.7 144.1,471.1 143.3,469.5 142.5,467.9 141.9,466.2 141.3,464.5 140.8,462.8 140.3,461.1 140.0,459.5 139.7,457.9 139.5,456.3 139.5,454.8 139.5,453.3 139.6,452.0 139.7,450.7 140.0,449.5 140.4,448.5 140.8,447.5 141.4,446.7 142.0,446.1 142.6,445.5 143.4,445.1 144.2,444.9 145.0,444.8 145.9,444.8 146.9,445.0 147.9,445.3 148.9,445.8 149.9,446.4 150.9,447.2 152.0,448.0 153.0,449.0 154.0,450.2 155.1,451.4 156.0,452.7 157.0,454.1 157.9,455.6 158.7,457.1 159.5,458.7 160.3,460.4 160.9,462.1 161.5,463.8 162.0,465.4 162.5,467.1 162.8,468.8 163.1,470.4 163.3,472.0 163.4,473.5 163.3,474.9 163.2,476.3 163.1,477.6 162.8,478.7 162.4,479.8 162.0,480.7 161.5,481.5 160.9,482.2 160.2,482.8" fill="#e40808"/>
<polygon points="466.6,603.4 466.7,601.8 466.9,600.3 467.2,599.0 467.6,597.8 468.1,596.8 468.8,595.9 469.5,595.2 470.3,594.7 526.9,564.9 528.6,564.0 530.3,563.3 532.0,562.8 533.6,562.6 535.2,562.5 536.8,562.6 538.3,562.9 539.7,563.3 541.1,564.0 542.4,564.9 543.6,566.0 544.6,567.2 545.6,568.6 546.4,570.1 547.1,571.8 547.6,573.6 548.0,575.5 548.3,577.5 548.4,579.6 548.4,581.8 548.2,584.0 547.9,586.2 547.5,588.5 546.9,590.8 546.1,593.0 545.3,595.3 544.3,597.4 543.2,599.5 542.0,601.5 540.7,603.4 539.3,605.2 537.8,606.9 536.3,608.4 534.7,609.8 494.2,641.7 493.4,642.3 492.5,642.6 491.5,642.7 490.4,642.7 489.3,642.5 488.1,642.1 486.9,641.5 485.6,640.7 484.3,639.8 483.0,638.7 481.6,637.5 480.3,636.1 479.0,634.6 477.7,632.9 476.4,631.2 475.2,629.3 474.0,627.4 472.9,625.4 471.9,623.3 470.9,621.3 470.0,619.1 469.2,617.0 468.5,614.9 467.9,612.8 467.4,610.8 467.1,608.8 466.8,606.9 466.6,605.1" fill="#14f4f4"/>
<polygon points="493.4,642.3 492.5,642.6 491.5,642.7 490.4,642.7 489.3,642.5 488.1,642.1 486.9,641.5 485.6,640.7 484.3,639.8 483.0,638.7 481.6,637.5 480.3,636.1 479.0,634.6 477.7,632.9 476.4,631.2 475.2,629.3 474.0,627.4 472.9,625.4 471.9,623.3 470.9,621.3 470.0,619.1 469.2,617.0 468.5,614.9 467.9,612.8 467.4,610.8 467.1,608.8 466.8,606.9 466.6,605.1 466.6,603.4 466.7,601.8 466.9,600.3 467.2,599.0 467.6,597.8 468.1,596.8 468.8,595.9 469.5,595.2 470.3,594.7 471.2,594.4 472.2,594.2 473.3,594.3 474.4,594.5 475.6,594.9 476.9,595.5 478.2,596.2 479.5,597.2 480.8,598.2 482.1,599.5 483.4,600.9 484.8,602.4 486.1,604.0 487.3,605.8 488.5,607.6 489.7,609.6 490.8,611.6 491.9,613.6 492.8,615.7 493.7,617.8 494.5,619.9 495.2,622.0 495.8,624.1 496.3,626.2 496.7,628.1 497.0,630.0 497.1,631.9 497.2,633.6 497.1,635.2 496.9,636.6 496.6,638.0 496.1,639.2 495.6,640.2 495.0,641.1 494.2,641.7" fill="#14f4f4" stroke="#50f6f6" stroke-width="1.3"/>
<polygon points="492.6,637.0 491.9,637.3 491.1,637.4 490.2,637.4 489.3,637.2 488.4,636.9 487.4,636.4 486.3,635.8 485.3,635.1 484.2,634.2 483.2,633.2 482.1,632.1 481.1,630.9 480.0,629.5 479.0,628.1 478.0,626.7 477.1,625.1 476.2,623.5 475.4,621.9 474.6,620.2 473.9,618.5 473.2,616.8 472.7,615.1 472.2,613.5 471.8,611.8 471.5,610.3 471.3,608.7 471.2,607.3 471.1,605.9 471.2,604.6 471.4,603.5 471.6,602.4 472.0,601.4 472.4,600.6 472.9,599.9 473.5,599.4 474.1,599.0 474.9,598.7 475.7,598.6 476.5,598.6 477.4,598.8 478.4,599.1 479.4,599.6 480.4,600.2 481.4,600.9 482.5,601.8 483.6,602.8 484.6,603.9 485.7,605.1 486.7,606.4 487.7,607.8 488.7,609.3 489.7,610.9 490.5,612.5 491.4,614.1 492.2,615.8 492.9,617.5 493.5,619.2 494.1,620.8 494.5,622.5 494.9,624.1 495.2,625.7 495.4,627.2 495.6,628.7 495.6,630.1 495.5,631.3 495.4,632.5 495.1,633.6 494.8,634.5 494.4,635.3 493.9,636.0 493.3,636.6" fill="#10e8e8"/>
<clipPath id="clip_b"><polygon points="236.6,455.2 236.6,453.4 236.7,451.7 237.0,450.1 237.4,448.7 237.8,447.5 238.4,446.4 239.2,445.5 240.0,444.7 240.9,444.2 300.3,409.0 300.9,408.7 301.6,408.5 302.3,408.5 303.0,408.5 303.8,408.7 304.6,408.9 305.5,409.3 306.3,409.8 307.2,410.3 308.0,411.0 308.9,411.7 309.7,412.5 310.5,413.4 311.3,414.4 312.1,415.4 312.8,416.4 313.5,417.6 314.1,418.7 314.7,419.9 315.2,421.1 315.7,422.3 316.1,423.5 316.4,424.7 316.6,425.9 316.8,427.0 317.0,428.1 317.0,429.2 317.0,430.2 316.9,431.2 316.7,432.0 316.4,432.9 316.1,433.6 315.7,434.2 315.3,434.8 266.7,491.7 265.8,492.5 264.9,493.0 263.9,493.4 262.8,493.6 261.6,493.6 260.4,493.4 259.1,493.0 257.8,492.5 256.4,491.7 255.0,490.8 253.6,489.7 252.2,488.5 250.7,487.1 249.3,485.5 248.0,483.8 246.6,482.1 245.3,480.2 244.1,478.2 242.9,476.1 241.9,474.0 240.8,471.9 239.9,469.7 239.1,467.5 238.4,465.3 237.8,463.2 237.3,461.1 237.0,459.0 236.7,457.0"/></clipPath>
<filter id="blurb" x="-20%" y="-20%" width="140%" height="140%"><feGaussianBlur stdDeviation="1.0"/></filter>
<g clip-path="url(#clip_b)"><g filter="url(#blurb)">
<polygon points="236.6,455.2 236.6,453.4 236.7,451.7 237.0,450.1 237.4,448.7 237.8,447.5 238.4,446.4 239.2,445.5 240.0,444.7 240.9,444.2 300.3,409.0 300.9,408.7 301.6,408.5 302.3,408.5 303.0,408.5 303.8,408.7 304.6,408.9 305.5,409.3 306.3,409.8 307.2,410.3 308.0,411.0 308.9,411.7 309.7,412.5 310.5,413.4 311.3,414.4 312.1,415.4 312.8,416.4 313.5,417.6 314.1,418.7 314.7,419.9 315.2,421.1 315.7,422.3 316.1,423.5 316.4,424.7 316.6,425.9 316.8,427.0 317.0,428.1 317.0,429.2 317.0,430.2 316.9,431.2 316.7,432.0 316.4,432.9 316.1,433.6 315.7,434.2 315.3,434.8 266.7,491.7 265.8,492.5 264.9,493.0 263.9,493.4 262.8,493.6 261.6,493.6 260.4,493.4 259.1,493.0 257.8,492.5 256.4,491.7 255.0,490.8 253.6,489.7 252.2,488.5 250.7,487.1 249.3,485.5 248.0,483.8 246.6,482.1 245.3,480.2 244.1,478.2 242.9,476.1 241.9,474.0 240.8,471.9 239.9,469.7 239.1,467.5 238.4,465.3 237.8,463.2 237.3,461.1 237.0,459.0 236.7,457.0" fill="#fff"/>
<polygon points="236.6,455.2 236.6,453.4 236.7,451.7 237.0,450.1 237.4,448.7 237.8,447.5 238.4,446.4 239.2,445.5 240.0,444.7 240.9,444.2 300.3,409.0 300.9,408.7 301.6,408.5 302.3,408.5 303.0,408.5 303.8,408.7 304.6,408.9 305.5,409.3 306.3,409.8 307.2,410.3 308.0,411.0 308.9,411.7 309.7,412.5 310.5,413.4 311.3,414.4 312.1,415.4 312.8,416.4 313.5,417.6 314.1,418.7 314.7,419.9 315.2,421.1 315.7,422.3 316.1,423.5 316.4,424.7 316.6,425.9 316.8,427.0 317.0,428.1 317.0,429.2 317.0,430.2 316.9,431.2 316.7,432.0 316.4,432.9 316.1,433.6 315.7,434.2 315.3,434.8 266.7,491.7 265.8,492.5 264.9,493.0 263.9,493.4 262.8,493.6 261.6,493.6 260.4,493.4 259.1,493.0 257.8,492.5 256.4,491.7 255.0,490.8 253.6,489.7 252.2,488.5 250.7,487.1 249.3,485.5 248.0,483.8 246.6,482.1 245.3,480.2 244.1,478.2 242.9,476.1 241.9,474.0 240.8,471.9 239.9,469.7 239.1,467.5 238.4,465.3 237.8,463.2 237.3,461.1 237.0,459.0 236.7,457.0" fill="#ee1111"/>
<polygon points="223.3,455.8 225.6,454.4 227.9,453.0 230.2,451.6 232.6,450.2 234.9,448.8 234.9,448.8 232.6,450.2 230.2,451.6 227.9,453.0 225.6,454.4 223.3,455.8" fill="#ee1111"/>
<polygon points="223.3,455.8 225.6,454.4 227.9,453.0 230.2,451.6 232.6,450.2 234.9,448.8 237.2,447.4 239.5,446.0 241.9,444.6 244.2,443.2 246.5,441.8 248.8,440.4 251.2,439.0 253.5,437.6 255.8,436.2 258.1,434.8 260.5,433.4 262.8,432.0 265.1,430.6 267.4,429.2 269.8,427.8 272.1,426.4 274.4,425.0 276.7,423.6 279.1,422.3 281.4,420.9 283.7,419.5 286.0,418.1 288.3,416.7 290.7,415.3 293.0,413.9 295.3,412.5 297.6,411.1 300.0,409.7 302.3,408.3 304.6,406.9 306.9,405.5 309.3,404.1 311.6,402.7 313.9,401.3 316.2,399.9 316.3,400.0 314.0,401.4 311.7,402.8 309.4,404.2 307.0,405.6 304.7,407.0 302.4,408.4 300.1,409.8 297.8,411.2 295.4,412.6 293.1,414.0 290.8,415.4 288.5,416.8 286.2,418.2 283.8,419.6 281.5,421.0 279.2,422.4 276.9,423.8 274.6,425.2 272.2,426.6 269.9,428.0 267.6,429.4 265.3,430.8 263.0,432.2 260.6,433.7 258.3,435.1 256.0,436.5 253.7,437.9 251.4,439.3 249.0,440.7 246.7,442.1 244.4,443.5 242.1,444.9 239.8,446.3 237.4,447.7 235.1,449.1 232.8,450.5 230.5,451.9 228.1,453.3 225.8,454.7 223.5,456.1" fill="#ee1111"/>
<polygon points="223.5,456.1 225.8,454.7 228.1,453.3 230.5,451.9 232.8,450.5 235.1,449.1 237.4,447.7 239.8,446.3 242.1,444.9 244.4,443.5 246.7,442.1 249.0,440.7 251.4,439.3 253.7,437.9 256.0,436.5 258.3,435.1 260.6,433.7 263.0,432.2 265.3,430.8 267.6,429.4 269.9,428.0 272.2,426.6 274.6,425.2 276.9,423.8 279.2,422.4 281.5,421.0 283.8,419.6 286.2,418.2 288.5,416.8 290.8,415.4 293.1,414.0 295.4,412.6 297.8,411.2 300.1,409.8 302.4,408.4 304.7,407.0 307.0,405.6 309.4,404.2 311.7,402.8 314.0,401.4 316.3,400.0 316.5,400.2 314.2,401.6 311.9,403.0 309.6,404.4 307.2,405.8 304.9,407.2 302.6,408.6 300.3,410.0 298.0,411.5 295.7,412.9 293.4,414.3 291.0,415.7 288.7,417.1 286.4,418.5 284.1,419.9 281.8,421.3 279.5,422.7 277.2,424.2 274.8,425.6 272.5,427.0 270.2,428.4 267.9,429.8 265.6,431.2 263.3,432.6 261.0,434.0 258.6,435.4 256.3,436.9 254.0,438.3 251.7,439.7 249.4,441.1 247.1,442.5 244.8,443.9 242.5,445.3 240.1,446.7 237.8,448.2 235.5,449.6 233.2,451.0 230.9,452.4 228.6,453.8 226.3,455.2 223.9,456.6" fill="#1ef0f0"/>
<polygon points="223.9,456.6 226.3,455.2 228.6,453.8 230.9,452.4 233.2,451.0 235.5,449.6 237.8,448.2 240.1,446.7 242.5,445.3 244.8,443.9 247.1,442.5 249.4,441.1 251.7,439.7 254.0,438.3 256.3,436.9 258.6,435.4 261.0,434.0 263.3,432.6 265.6,431.2 267.9,429.8 270.2,428.4 272.5,427.0 274.8,425.6 277.2,424.2 279.5,422.7 281.8,421.3 284.1,419.9 286.4,418.5 288.7,417.1 291.0,415.7 293.4,414.3 295.7,412.9 298.0,411.5 300.3,410.0 302.6,408.6 304.9,407.2 307.2,405.8 309.6,404.4 311.9,403.0 314.2,401.6 316.5,400.2 317.4,401.3 315.2,402.7 312.9,404.2 310.6,405.6 308.3,407.1 306.0,408.5 303.8,410.0 301.5,411.4 299.2,412.9 296.9,414.4 294.7,415.8 292.4,417.3 290.1,418.7 287.8,420.2 285.6,421.6 283.3,423.1 281.0,424.5 278.7,426.0 276.4,427.4 274.2,428.9 271.9,430.4 269.6,431.8 267.3,433.3 265.1,434.7 262.8,436.2 260.5,437.6 258.2,439.1 256.0,440.5 253.7,442.0 251.4,443.5 249.1,444.9 246.8,446.4 244.6,447.8 242.3,449.3 240.0,450.7 237.7,452.2 235.5,453.6 233.2,455.1 230.9,456.5 228.6,458.0 226.4,459.5" fill="#f8f4f4"/>
<polygon points="226.4,459.5 228.6,458.0 230.9,456.5 233.2,455.1 235.5,453.6 237.7,452.2 240.0,450.7 242.3,449.3 244.6,447.8 246.8,446.4 249.1,444.9 251.4,443.5 253.7,442.0 256.0,440.5 258.2,439.1 260.5,437.6 262.8,436.2 265.1,434.7 267.3,433.3 269.6,431.8 271.9,430.4 274.2,428.9 276.4,427.4 278.7,426.0 281.0,424.5 283.3,423.1 285.6,421.6 287.8,420.2 290.1,418.7 292.4,417.3 294.7,415.8 296.9,414.4 299.2,412.9 301.5,411.4 303.8,410.0 306.0,408.5 308.3,407.1 310.6,405.6 312.9,404.2 315.2,402.7 317.4,401.3 318.1,402.1 315.9,403.6 313.6,405.1 311.4,406.5 309.1,408.0 306.9,409.5 304.6,411.0 302.4,412.5 300.1,414.0 297.9,415.5 295.6,417.0 293.4,418.4 291.1,419.9 288.9,421.4 286.6,422.9 284.4,424.4 282.1,425.9 279.9,427.4 277.6,428.9 275.4,430.3 273.1,431.8 270.9,433.3 268.6,434.8 266.4,436.3 264.2,437.8 261.9,439.3 259.7,440.8 257.4,442.2 255.2,443.7 252.9,445.2 250.7,446.7 248.4,448.2 246.2,449.7 243.9,451.2 241.7,452.6 239.4,454.1 237.2,455.6 234.9,457.1 232.7,458.6 230.4,460.1 228.2,461.6" fill="#ee1111"/>
<polygon points="228.2,461.6 230.4,460.1 232.7,458.6 234.9,457.1 237.2,455.6 239.4,454.1 241.7,452.6 243.9,451.2 246.2,449.7 248.4,448.2 250.7,446.7 252.9,445.2 255.2,443.7 257.4,442.2 259.7,440.8 261.9,439.3 264.2,437.8 266.4,436.3 268.6,434.8 270.9,433.3 273.1,431.8 275.4,430.3 277.6,428.9 279.9,427.4 282.1,425.9 284.4,424.4 286.6,422.9 288.9,421.4 291.1,419.9 293.4,418.4 295.6,417.0 297.9,415.5 300.1,414.0 302.4,412.5 304.6,411.0 306.9,409.5 309.1,408.0 311.4,406.5 313.6,405.1 315.9,403.6 318.1,402.1 319.9,404.2 317.7,405.7 315.6,407.3 313.4,408.9 311.2,410.4 309.0,412.0 306.8,413.6 304.7,415.2 302.5,416.7 300.3,418.3 298.1,419.9 295.9,421.4 293.8,423.0 291.6,424.6 289.4,426.1 287.2,427.7 285.0,429.3 282.9,430.8 280.7,432.4 278.5,434.0 276.3,435.6 274.1,437.1 272.0,438.7 269.8,440.3 267.6,441.8 265.4,443.4 263.3,445.0 261.1,446.5 258.9,448.1 256.7,449.7 254.5,451.3 252.4,452.8 250.2,454.4 248.0,456.0 245.8,457.5 243.6,459.1 241.5,460.7 239.3,462.2 237.1,463.8 234.9,465.4 232.7,466.9" fill="#f8f4f4"/>
<polygon points="232.7,466.9 234.9,465.4 237.1,463.8 239.3,462.2 241.5,460.7 243.6,459.1 245.8,457.5 248.0,456.0 250.2,454.4 252.4,452.8 254.5,451.3 256.7,449.7 258.9,448.1 261.1,446.5 263.3,445.0 265.4,443.4 267.6,441.8 269.8,440.3 272.0,438.7 274.1,437.1 276.3,435.6 278.5,434.0 280.7,432.4 282.9,430.8 285.0,429.3 287.2,427.7 289.4,426.1 291.6,424.6 293.8,423.0 295.9,421.4 298.1,419.9 300.3,418.3 302.5,416.7 304.7,415.2 306.8,413.6 309.0,412.0 311.2,410.4 313.4,408.9 315.6,407.3 317.7,405.7 319.9,404.2 321.4,405.9 319.3,407.5 317.1,409.2 315.0,410.8 312.9,412.4 310.8,414.1 308.6,415.7 306.5,417.3 304.4,419.0 302.3,420.6 300.2,422.3 298.0,423.9 295.9,425.5 293.8,427.2 291.7,428.8 289.6,430.4 287.4,432.1 285.3,433.7 283.2,435.4 281.1,437.0 279.0,438.6 276.8,440.3 274.7,441.9 272.6,443.5 270.5,445.2 268.3,446.8 266.2,448.5 264.1,450.1 262.0,451.7 259.9,453.4 257.7,455.0 255.6,456.6 253.5,458.3 251.4,459.9 249.3,461.6 247.1,463.2 245.0,464.8 242.9,466.5 240.8,468.1 238.6,469.7 236.5,471.4" fill="#a0f4f4"/>
<polygon points="236.5,471.4 238.6,469.7 240.8,468.1 242.9,466.5 245.0,464.8 247.1,463.2 249.3,461.6 251.4,459.9 253.5,458.3 255.6,456.6 257.7,455.0 259.9,453.4 262.0,451.7 264.1,450.1 266.2,448.5 268.3,446.8 270.5,445.2 272.6,443.5 274.7,441.9 276.8,440.3 279.0,438.6 281.1,437.0 283.2,435.4 285.3,433.7 287.4,432.1 289.6,430.4 291.7,428.8 293.8,427.2 295.9,425.5 298.0,423.9 300.2,422.3 302.3,420.6 304.4,419.0 306.5,417.3 308.6,415.7 310.8,414.1 312.9,412.4 315.0,410.8 317.1,409.2 319.3,407.5 321.4,405.9 323.4,408.3 321.4,410.0 319.3,411.7 317.3,413.5 315.2,415.2 313.2,416.9 311.2,418.6 309.1,420.4 307.1,422.1 305.0,423.8 303.0,425.6 300.9,427.3 298.9,429.0 296.9,430.8 294.8,432.5 292.8,434.2 290.7,436.0 288.7,437.7 286.7,439.4 284.6,441.2 282.6,442.9 280.5,444.6 278.5,446.3 276.5,448.1 274.4,449.8 272.4,451.5 270.3,453.3 268.3,455.0 266.2,456.7 264.2,458.5 262.2,460.2 260.1,461.9 258.1,463.7 256.0,465.4 254.0,467.1 252.0,468.9 249.9,470.6 247.9,472.3 245.8,474.0 243.8,475.8 241.8,477.5" fill="#f8f4f4"/>
<polygon points="241.8,477.5 243.8,475.8 245.8,474.0 247.9,472.3 249.9,470.6 252.0,468.9 254.0,467.1 256.0,465.4 258.1,463.7 260.1,461.9 262.2,460.2 264.2,458.5 266.2,456.7 268.3,455.0 270.3,453.3 272.4,451.5 274.4,449.8 276.5,448.1 278.5,446.3 280.5,444.6 282.6,442.9 284.6,441.2 286.7,439.4 288.7,437.7 290.7,436.0 292.8,434.2 294.8,432.5 296.9,430.8 298.9,429.0 300.9,427.3 303.0,425.6 305.0,423.8 307.1,422.1 309.1,420.4 311.2,418.6 313.2,416.9 315.2,415.2 317.3,413.5 319.3,411.7 321.4,410.0 323.4,408.3 327.1,412.6 325.2,414.5 323.3,416.4 321.4,418.3 319.5,420.2 317.7,422.1 315.8,424.0 313.9,425.9 312.0,427.9 310.1,429.8 308.2,431.7 306.3,433.6 304.4,435.5 302.5,437.4 300.6,439.3 298.7,441.2 296.8,443.1 294.9,445.0 293.0,446.9 291.1,448.8 289.2,450.7 287.3,452.6 285.4,454.5 283.6,456.4 281.7,458.3 279.8,460.2 277.9,462.1 276.0,464.0 274.1,465.9 272.2,467.8 270.3,469.7 268.4,471.6 266.5,473.5 264.6,475.4 262.7,477.3 260.8,479.2 258.9,481.1 257.0,483.1 255.1,485.0 253.2,486.9 251.3,488.8" fill="#e60808"/>
<polygon points="251.3,488.8 253.2,486.9 255.1,485.0 257.0,483.1 258.9,481.1 260.8,479.2 262.7,477.3 264.6,475.4 266.5,473.5 268.4,471.6 270.3,469.7 272.2,467.8 274.1,465.9 276.0,464.0 277.9,462.1 279.8,460.2 281.7,458.3 283.6,456.4 285.4,454.5 287.3,452.6 289.2,450.7 291.1,448.8 293.0,446.9 294.9,445.0 296.8,443.1 298.7,441.2 300.6,439.3 302.5,437.4 304.4,435.5 306.3,433.6 308.2,431.7 310.1,429.8 312.0,427.9 313.9,425.9 315.8,424.0 317.7,422.1 319.5,420.2 321.4,418.3 323.3,416.4 325.2,414.5 327.1,412.6 328.4,414.1 326.6,416.1 324.7,418.1 322.9,420.0 321.0,422.0 319.2,424.0 317.4,425.9 315.5,427.9 313.7,429.8 311.8,431.8 310.0,433.8 308.1,435.7 306.3,437.7 304.5,439.7 302.6,441.6 300.8,443.6 298.9,445.6 297.1,447.5 295.2,449.5 293.4,451.4 291.5,453.4 289.7,455.4 287.9,457.3 286.0,459.3 284.2,461.3 282.3,463.2 280.5,465.2 278.6,467.1 276.8,469.1 275.0,471.1 273.1,473.0 271.3,475.0 269.4,477.0 267.6,478.9 265.7,480.9 263.9,482.9 262.1,484.8 260.2,486.8 258.4,488.7 256.5,490.7 254.7,492.7" fill="#f8f4f4"/>
<polygon points="254.7,492.7 256.5,490.7 258.4,488.7 260.2,486.8 262.1,484.8 263.9,482.9 265.7,480.9 267.6,478.9 269.4,477.0 271.3,475.0 273.1,473.0 275.0,471.1 276.8,469.1 278.6,467.1 280.5,465.2 282.3,463.2 284.2,461.3 286.0,459.3 287.9,457.3 289.7,455.4 291.5,453.4 293.4,451.4 295.2,449.5 297.1,447.5 298.9,445.6 300.8,443.6 302.6,441.6 304.5,439.7 306.3,437.7 308.1,435.7 310.0,433.8 311.8,431.8 313.7,429.8 315.5,427.9 317.4,425.9 319.2,424.0 321.0,422.0 322.9,420.0 324.7,418.1 326.6,416.1 328.4,414.1 329.6,415.5 327.8,417.5 326.0,419.6 324.2,421.6 322.4,423.6 320.6,425.6 318.8,427.6 317.0,429.7 315.2,431.7 313.4,433.7 311.6,435.7 309.8,437.7 308.0,439.7 306.2,441.8 304.4,443.8 302.7,445.8 300.9,447.8 299.1,449.8 297.3,451.9 295.5,453.9 293.7,455.9 291.9,457.9 290.1,459.9 288.3,461.9 286.5,464.0 284.7,466.0 282.9,468.0 281.1,470.0 279.3,472.0 277.5,474.1 275.7,476.1 273.9,478.1 272.1,480.1 270.3,482.1 268.5,484.1 266.7,486.2 264.9,488.2 263.1,490.2 261.3,492.2 259.5,494.2 257.7,496.3" fill="#ee1111"/>
<polygon points="257.7,496.3 259.5,494.2 261.3,492.2 263.1,490.2 264.9,488.2 266.7,486.2 268.5,484.1 270.3,482.1 272.1,480.1 273.9,478.1 275.7,476.1 277.5,474.1 279.3,472.0 281.1,470.0 282.9,468.0 284.7,466.0 286.5,464.0 288.3,461.9 290.1,459.9 291.9,457.9 293.7,455.9 295.5,453.9 297.3,451.9 299.1,449.8 300.9,447.8 302.7,445.8 304.4,443.8 306.2,441.8 308.0,439.7 309.8,437.7 311.6,435.7 313.4,433.7 315.2,431.7 317.0,429.7 318.8,427.6 320.6,425.6 322.4,423.6 324.2,421.6 326.0,419.6 327.8,417.5 329.6,415.5 330.5,416.6 328.7,418.6 327.0,420.7 325.2,422.7 323.4,424.8 321.7,426.8 319.9,428.9 318.1,431.0 316.4,433.0 314.6,435.1 312.9,437.1 311.1,439.2 309.3,441.3 307.6,443.3 305.8,445.4 304.0,447.4 302.3,449.5 300.5,451.6 298.8,453.6 297.0,455.7 295.2,457.7 293.5,459.8 291.7,461.8 289.9,463.9 288.2,466.0 286.4,468.0 284.7,470.1 282.9,472.1 281.1,474.2 279.4,476.3 277.6,478.3 275.8,480.4 274.1,482.4 272.3,484.5 270.6,486.5 268.8,488.6 267.0,490.7 265.3,492.7 263.5,494.8 261.7,496.8 260.0,498.9" fill="#f5b0b0"/>
<polygon points="260.0,498.9 261.7,496.8 263.5,494.8 265.3,492.7 267.0,490.7 268.8,488.6 270.6,486.5 272.3,484.5 274.1,482.4 275.8,480.4 277.6,478.3 279.4,476.3 281.1,474.2 282.9,472.1 284.7,470.1 286.4,468.0 288.2,466.0 289.9,463.9 291.7,461.8 293.5,459.8 295.2,457.7 297.0,455.7 298.8,453.6 300.5,451.6 302.3,449.5 304.0,447.4 305.8,445.4 307.6,443.3 309.3,441.3 311.1,439.2 312.9,437.1 314.6,435.1 316.4,433.0 318.1,431.0 319.9,428.9 321.7,426.8 323.4,424.8 325.2,422.7 327.0,420.7 328.7,418.6 330.5,416.6 330.8,416.9 329.0,419.0 327.3,421.1 325.5,423.2 323.8,425.2 322.0,427.3 320.3,429.4 318.5,431.4 316.8,433.5 315.1,435.6 313.3,437.7 311.6,439.7 309.8,441.8 308.1,443.9 306.3,446.0 304.6,448.0 302.8,450.1 301.1,452.2 299.3,454.3 297.6,456.3 295.8,458.4 294.1,460.5 292.3,462.5 290.6,464.6 288.8,466.7 287.1,468.8 285.3,470.8 283.6,472.9 281.8,475.0 280.1,477.1 278.3,479.1 276.6,481.2 274.8,483.3 273.1,485.4 271.3,487.4 269.6,489.5 267.8,491.6 266.1,493.7 264.3,495.7 262.6,497.8 260.8,499.9" fill="#ee1111"/>
<polygon points="271.3,487.4 273.1,485.4 274.8,483.3 276.6,481.2 278.3,479.1 280.1,477.1 281.8,475.0 283.6,472.9 285.3,470.8 287.1,468.8 288.8,466.7 290.6,464.6 292.3,462.5 294.1,460.5 295.8,458.4 297.6,456.3 299.3,454.3 301.1,452.2 302.8,450.1 304.6,448.0 306.3,446.0 308.1,443.9 309.8,441.8 311.6,439.7 313.3,437.7 315.1,435.6 316.8,433.5 318.5,431.4 320.3,429.4 322.0,427.3 323.8,425.2 325.5,423.2 327.3,421.1 329.0,419.0 330.8,416.9 330.8,416.9 329.0,419.0 327.3,421.1 325.5,423.2 323.8,425.2 322.0,427.3 320.3,429.4 318.5,431.4 316.8,433.5 315.1,435.6 313.3,437.7 311.6,439.7 309.8,441.8 308.1,443.9 306.3,446.0 304.6,448.0 302.8,450.1 301.1,452.2 299.3,454.3 297.6,456.3 295.8,458.4 294.1,460.5 292.3,462.5 290.6,464.6 288.8,466.7 287.1,468.8 285.3,470.8 283.6,472.9 281.8,475.0 280.1,477.1 278.3,479.1 276.6,481.2 274.8,483.3 273.1,485.4 271.3,487.4" fill="#ee1111"/>
<polygon points="223.3,455.8 225.6,454.4 227.9,453.0 230.2,451.6 232.6,450.2 234.9,448.8 234.9,448.8 232.6,450.2 230.2,451.6 227.9,453.0 225.6,454.4 223.3,455.8" fill="#ffffff" fill-opacity="0.42"/>
<polygon points="223.4,456.0 225.7,454.6 228.1,453.2 230.4,451.8 232.7,450.4 235.0,449.0 237.4,447.6 239.7,446.2 242.0,444.8 244.3,443.4 246.6,442.0 249.0,440.6 251.3,439.2 253.6,437.8 255.9,436.4 258.2,435.0 260.6,433.6 262.9,432.2 265.2,430.8 267.5,429.4 269.9,428.0 272.2,426.6 274.5,425.2 276.8,423.8 279.1,422.4 281.5,421.0 283.8,419.6 286.1,418.1 288.4,416.7 290.8,415.3 293.1,413.9 295.4,412.5 297.7,411.1 300.0,409.7 302.4,408.3 304.7,406.9 307.0,405.5 309.3,404.1 311.6,402.7 314.0,401.3 316.3,399.9 316.4,400.1 314.1,401.5 311.8,402.9 309.5,404.3 307.2,405.7 304.8,407.1 302.5,408.5 300.2,409.9 297.9,411.3 295.6,412.7 293.3,414.2 290.9,415.6 288.6,417.0 286.3,418.4 284.0,419.8 281.7,421.2 279.3,422.6 277.0,424.0 274.7,425.4 272.4,426.8 270.1,428.2 267.8,429.6 265.4,431.0 263.1,432.5 260.8,433.9 258.5,435.3 256.2,436.7 253.9,438.1 251.5,439.5 249.2,440.9 246.9,442.3 244.6,443.7 242.3,445.1 240.0,446.5 237.6,447.9 235.3,449.4 233.0,450.8 230.7,452.2 228.4,453.6 226.1,455.0 223.7,456.4" fill="#ffffff" fill-opacity="0.42"/>
<polygon points="224.4,457.2 226.7,455.7 229.0,454.3 231.3,452.9 233.6,451.5 235.9,450.1 238.2,448.6 240.5,447.2 242.9,445.8 245.2,444.4 247.5,443.0 249.8,441.5 252.1,440.1 254.4,438.7 256.7,437.3 259.0,435.9 261.3,434.4 263.6,433.0 265.9,431.6 268.2,430.2 270.5,428.8 272.8,427.3 275.1,425.9 277.5,424.5 279.8,423.1 282.1,421.7 284.4,420.2 286.7,418.8 289.0,417.4 291.3,416.0 293.6,414.6 295.9,413.1 298.2,411.7 300.5,410.3 302.8,408.9 305.1,407.5 307.4,406.0 309.8,404.6 312.1,403.2 314.4,401.8 316.7,400.4 317.0,400.7 314.7,402.1 312.4,403.6 310.1,405.0 307.8,406.4 305.5,407.9 303.2,409.3 300.9,410.7 298.6,412.2 296.3,413.6 294.0,415.0 291.7,416.5 289.4,417.9 287.1,419.3 284.8,420.8 282.5,422.2 280.2,423.6 277.9,425.1 275.6,426.5 273.3,427.9 271.0,429.4 268.8,430.8 266.5,432.2 264.2,433.7 261.9,435.1 259.6,436.5 257.3,438.0 255.0,439.4 252.7,440.8 250.4,442.3 248.1,443.7 245.8,445.1 243.5,446.6 241.2,448.0 238.9,449.4 236.6,450.9 234.3,452.3 232.0,453.7 229.7,455.2 227.4,456.6 225.1,458.0" fill="#ffffff" fill-opacity="0.42"/>
<polygon points="226.3,459.3 228.5,457.9 230.8,456.4 233.1,455.0 235.4,453.5 237.7,452.1 239.9,450.6 242.2,449.2 244.5,447.7 246.8,446.3 249.0,444.8 251.3,443.4 253.6,441.9 255.9,440.5 258.2,439.0 260.4,437.5 262.7,436.1 265.0,434.6 267.3,433.2 269.6,431.7 271.8,430.3 274.1,428.8 276.4,427.4 278.7,425.9 280.9,424.5 283.2,423.0 285.5,421.6 287.8,420.1 290.1,418.7 292.3,417.2 294.6,415.7 296.9,414.3 299.2,412.8 301.4,411.4 303.7,409.9 306.0,408.5 308.3,407.0 310.6,405.6 312.8,404.1 315.1,402.7 317.4,401.2 317.8,401.7 315.6,403.2 313.3,404.7 311.0,406.1 308.8,407.6 306.5,409.1 304.3,410.6 302.0,412.0 299.7,413.5 297.5,415.0 295.2,416.4 292.9,417.9 290.7,419.4 288.4,420.9 286.2,422.3 283.9,423.8 281.6,425.3 279.4,426.8 277.1,428.2 274.9,429.7 272.6,431.2 270.3,432.7 268.1,434.1 265.8,435.6 263.6,437.1 261.3,438.5 259.0,440.0 256.8,441.5 254.5,443.0 252.2,444.4 250.0,445.9 247.7,447.4 245.5,448.9 243.2,450.3 240.9,451.8 238.7,453.3 236.4,454.8 234.2,456.2 231.9,457.7 229.6,459.2 227.4,460.6" fill="#ffffff" fill-opacity="0.42"/>
<polygon points="228.9,462.5 231.2,461.0 233.4,459.5 235.6,458.0 237.9,456.5 240.1,455.0 242.3,453.5 244.6,452.0 246.8,450.5 249.1,449.0 251.3,447.5 253.5,446.0 255.8,444.5 258.0,443.0 260.2,441.5 262.5,440.0 264.7,438.4 267.0,436.9 269.2,435.4 271.4,433.9 273.7,432.4 275.9,430.9 278.2,429.4 280.4,427.9 282.6,426.4 284.9,424.9 287.1,423.4 289.3,421.9 291.6,420.4 293.8,418.9 296.1,417.4 298.3,415.9 300.5,414.4 302.8,412.9 305.0,411.4 307.2,409.9 309.5,408.4 311.7,406.9 314.0,405.4 316.2,403.9 318.4,402.4 319.0,403.1 316.8,404.6 314.5,406.1 312.3,407.6 310.1,409.2 307.9,410.7 305.7,412.2 303.5,413.8 301.3,415.3 299.0,416.8 296.8,418.3 294.6,419.9 292.4,421.4 290.2,422.9 288.0,424.4 285.7,426.0 283.5,427.5 281.3,429.0 279.1,430.5 276.9,432.1 274.7,433.6 272.4,435.1 270.2,436.7 268.0,438.2 265.8,439.7 263.6,441.2 261.4,442.8 259.1,444.3 256.9,445.8 254.7,447.3 252.5,448.9 250.3,450.4 248.1,451.9 245.9,453.4 243.6,455.0 241.4,456.5 239.2,458.0 237.0,459.6 234.8,461.1 232.6,462.6 230.3,464.1" fill="#ffffff" fill-opacity="0.42"/>
<polygon points="232.2,466.4 234.4,464.8 236.6,463.2 238.8,461.7 241.0,460.1 243.2,458.6 245.4,457.0 247.5,455.4 249.7,453.9 251.9,452.3 254.1,450.7 256.3,449.2 258.5,447.6 260.7,446.1 262.9,444.5 265.0,442.9 267.2,441.4 269.4,439.8 271.6,438.3 273.8,436.7 276.0,435.1 278.2,433.6 280.3,432.0 282.5,430.5 284.7,428.9 286.9,427.3 289.1,425.8 291.3,424.2 293.5,422.7 295.7,421.1 297.8,419.5 300.0,418.0 302.2,416.4 304.4,414.9 306.6,413.3 308.8,411.7 311.0,410.2 313.2,408.6 315.3,407.1 317.5,405.5 319.7,403.9 320.4,404.7 318.2,406.3 316.0,407.9 313.9,409.5 311.7,411.1 309.6,412.6 307.4,414.2 305.2,415.8 303.1,417.4 300.9,419.0 298.7,420.6 296.6,422.2 294.4,423.8 292.3,425.4 290.1,427.0 287.9,428.5 285.8,430.1 283.6,431.7 281.5,433.3 279.3,434.9 277.1,436.5 275.0,438.1 272.8,439.7 270.6,441.3 268.5,442.9 266.3,444.4 264.2,446.0 262.0,447.6 259.8,449.2 257.7,450.8 255.5,452.4 253.4,454.0 251.2,455.6 249.0,457.2 246.9,458.8 244.7,460.4 242.5,461.9 240.4,463.5 238.2,465.1 236.1,466.7 233.9,468.3" fill="#ffffff" fill-opacity="0.42"/>
<polygon points="236.0,470.8 238.2,469.2 240.3,467.6 242.4,465.9 244.6,464.3 246.7,462.7 248.8,461.0 250.9,459.4 253.1,457.8 255.2,456.2 257.3,454.5 259.5,452.9 261.6,451.3 263.7,449.6 265.8,448.0 268.0,446.4 270.1,444.8 272.2,443.1 274.4,441.5 276.5,439.9 278.6,438.2 280.7,436.6 282.9,435.0 285.0,433.4 287.1,431.7 289.3,430.1 291.4,428.5 293.5,426.8 295.6,425.2 297.8,423.6 299.9,422.0 302.0,420.3 304.2,418.7 306.3,417.1 308.4,415.4 310.5,413.8 312.7,412.2 314.8,410.6 316.9,408.9 319.1,407.3 321.2,405.7 321.9,406.5 319.8,408.2 317.7,409.8 315.6,411.5 313.5,413.1 311.4,414.8 309.3,416.5 307.2,418.1 305.1,419.8 303.0,421.4 300.9,423.1 298.8,424.8 296.7,426.4 294.6,428.1 292.5,429.8 290.4,431.4 288.3,433.1 286.2,434.7 284.1,436.4 282.0,438.1 279.9,439.7 277.8,441.4 275.7,443.0 273.6,444.7 271.5,446.4 269.4,448.0 267.3,449.7 265.2,451.4 263.1,453.0 261.0,454.7 258.9,456.3 256.8,458.0 254.7,459.7 252.6,461.3 250.5,463.0 248.4,464.6 246.3,466.3 244.2,468.0 242.1,469.6 240.0,471.3 237.9,473.0" fill="#ffffff" fill-opacity="0.42"/>
<polygon points="240.2,475.6 242.2,473.9 244.3,472.2 246.4,470.5 248.4,468.8 250.5,467.1 252.5,465.4 254.6,463.7 256.7,462.0 258.7,460.3 260.8,458.6 262.9,456.9 264.9,455.2 267.0,453.5 269.1,451.8 271.1,450.1 273.2,448.4 275.3,446.7 277.3,445.0 279.4,443.3 281.5,441.6 283.5,439.9 285.6,438.2 287.7,436.5 289.7,434.8 291.8,433.1 293.9,431.4 295.9,429.7 298.0,428.0 300.1,426.3 302.1,424.6 304.2,422.9 306.3,421.2 308.3,419.5 310.4,417.7 312.5,416.0 314.5,414.3 316.6,412.6 318.7,410.9 320.7,409.2 322.8,407.5 323.5,408.4 321.5,410.1 319.4,411.9 317.4,413.6 315.4,415.3 313.3,417.1 311.3,418.8 309.3,420.5 307.2,422.3 305.2,424.0 303.1,425.8 301.1,427.5 299.1,429.2 297.0,431.0 295.0,432.7 293.0,434.4 290.9,436.2 288.9,437.9 286.9,439.7 284.8,441.4 282.8,443.1 280.7,444.9 278.7,446.6 276.7,448.3 274.6,450.1 272.6,451.8 270.6,453.5 268.5,455.3 266.5,457.0 264.5,458.8 262.4,460.5 260.4,462.2 258.3,464.0 256.3,465.7 254.3,467.4 252.2,469.2 250.2,470.9 248.2,472.6 246.1,474.4 244.1,476.1 242.0,477.9" fill="#ffffff" fill-opacity="0.42"/>
<polygon points="244.4,480.6 246.4,478.8 248.4,477.0 250.4,475.2 252.4,473.5 254.4,471.7 256.4,469.9 258.4,468.1 260.4,466.3 262.4,464.6 264.4,462.8 266.4,461.0 268.4,459.2 270.4,457.5 272.4,455.7 274.4,453.9 276.4,452.1 278.4,450.3 280.4,448.6 282.4,446.8 284.4,445.0 286.4,443.2 288.4,441.4 290.4,439.7 292.4,437.9 294.4,436.1 296.4,434.3 298.4,432.6 300.4,430.8 302.4,429.0 304.4,427.2 306.4,425.4 308.4,423.7 310.4,421.9 312.4,420.1 314.4,418.3 316.4,416.6 318.4,414.8 320.4,413.0 322.4,411.2 324.4,409.4 325.1,410.3 323.2,412.1 321.2,413.9 319.2,415.7 317.2,417.5 315.3,419.4 313.3,421.2 311.3,423.0 309.4,424.8 307.4,426.6 305.4,428.4 303.4,430.2 301.5,432.0 299.5,433.8 297.5,435.7 295.5,437.5 293.6,439.3 291.6,441.1 289.6,442.9 287.7,444.7 285.7,446.5 283.7,448.3 281.7,450.1 279.8,452.0 277.8,453.8 275.8,455.6 273.8,457.4 271.9,459.2 269.9,461.0 267.9,462.8 266.0,464.6 264.0,466.5 262.0,468.3 260.0,470.1 258.1,471.9 256.1,473.7 254.1,475.5 252.1,477.3 250.2,479.1 248.2,480.9 246.2,482.8" fill="#ffffff" fill-opacity="0.42"/>
<polygon points="248.4,485.4 250.4,483.5 252.3,481.7 254.3,479.8 256.2,478.0 258.1,476.1 260.1,474.3 262.0,472.4 264.0,470.5 265.9,468.7 267.8,466.8 269.8,465.0 271.7,463.1 273.6,461.3 275.6,459.4 277.5,457.6 279.5,455.7 281.4,453.9 283.3,452.0 285.3,450.2 287.2,448.3 289.2,446.5 291.1,444.6 293.0,442.8 295.0,440.9 296.9,439.1 298.9,437.2 300.8,435.4 302.7,433.5 304.7,431.7 306.6,429.8 308.5,428.0 310.5,426.1 312.4,424.3 314.4,422.4 316.3,420.6 318.2,418.7 320.2,416.9 322.1,415.0 324.1,413.2 326.0,411.3 326.7,412.1 324.8,414.0 322.9,415.9 320.9,417.7 319.0,419.6 317.1,421.5 315.2,423.4 313.3,425.3 311.4,427.2 309.5,429.0 307.6,430.9 305.6,432.8 303.7,434.7 301.8,436.6 299.9,438.5 298.0,440.3 296.1,442.2 294.2,444.1 292.3,446.0 290.3,447.9 288.4,449.8 286.5,451.6 284.6,453.5 282.7,455.4 280.8,457.3 278.9,459.2 277.0,461.0 275.0,462.9 273.1,464.8 271.2,466.7 269.3,468.6 267.4,470.5 265.5,472.3 263.6,474.2 261.7,476.1 259.8,478.0 257.8,479.9 255.9,481.8 254.0,483.6 252.1,485.5 250.2,487.4" fill="#ffffff" fill-opacity="0.42"/>
<polygon points="252.2,489.8 254.1,487.9 256.0,485.9 257.9,484.0 259.7,482.1 261.6,480.2 263.5,478.3 265.4,476.3 267.3,474.4 269.1,472.5 271.0,470.6 272.9,468.7 274.8,466.7 276.7,464.8 278.5,462.9 280.4,461.0 282.3,459.1 284.2,457.2 286.1,455.2 288.0,453.3 289.8,451.4 291.7,449.5 293.6,447.6 295.5,445.6 297.4,443.7 299.2,441.8 301.1,439.9 303.0,438.0 304.9,436.0 306.8,434.1 308.6,432.2 310.5,430.3 312.4,428.4 314.3,426.5 316.2,424.5 318.1,422.6 319.9,420.7 321.8,418.8 323.7,416.9 325.6,414.9 327.5,413.0 328.1,413.7 326.2,415.7 324.3,417.6 322.5,419.6 320.6,421.5 318.8,423.5 316.9,425.4 315.1,427.3 313.2,429.3 311.3,431.2 309.5,433.2 307.6,435.1 305.8,437.1 303.9,439.0 302.0,441.0 300.2,442.9 298.3,444.9 296.5,446.8 294.6,448.8 292.8,450.7 290.9,452.6 289.0,454.6 287.2,456.5 285.3,458.5 283.5,460.4 281.6,462.4 279.8,464.3 277.9,466.3 276.0,468.2 274.2,470.2 272.3,472.1 270.5,474.1 268.6,476.0 266.8,478.0 264.9,479.9 263.0,481.8 261.2,483.8 259.3,485.7 257.5,487.7 255.6,489.6 253.7,491.6" fill="#ffffff" fill-opacity="0.42"/>
<polygon points="255.5,493.6 257.3,491.6 259.1,489.6 261.0,487.7 262.8,485.7 264.6,483.7 266.5,481.7 268.3,479.8 270.1,477.8 271.9,475.8 273.8,473.8 275.6,471.8 277.4,469.9 279.3,467.9 281.1,465.9 282.9,463.9 284.8,462.0 286.6,460.0 288.4,458.0 290.3,456.0 292.1,454.0 293.9,452.1 295.8,450.1 297.6,448.1 299.4,446.1 301.3,444.2 303.1,442.2 304.9,440.2 306.7,438.2 308.6,436.3 310.4,434.3 312.2,432.3 314.1,430.3 315.9,428.3 317.7,426.4 319.6,424.4 321.4,422.4 323.2,420.4 325.1,418.5 326.9,416.5 328.7,414.5 329.2,415.1 327.4,417.1 325.6,419.1 323.8,421.1 322.0,423.1 320.1,425.1 318.3,427.1 316.5,429.1 314.7,431.1 312.9,433.1 311.1,435.1 309.3,437.1 307.5,439.1 305.6,441.1 303.8,443.1 302.0,445.1 300.2,447.1 298.4,449.1 296.6,451.1 294.8,453.1 293.0,455.1 291.2,457.1 289.3,459.1 287.5,461.1 285.7,463.1 283.9,465.1 282.1,467.1 280.3,469.1 278.5,471.1 276.7,473.1 274.8,475.1 273.0,477.1 271.2,479.1 269.4,481.1 267.6,483.1 265.8,485.1 264.0,487.1 262.2,489.1 260.3,491.1 258.5,493.1 256.7,495.1" fill="#ffffff" fill-opacity="0.42"/>
<polygon points="258.0,496.6 259.8,494.6 261.6,492.6 263.4,490.6 265.2,488.5 267.0,486.5 268.8,484.5 270.6,482.5 272.4,480.4 274.2,478.4 276.0,476.4 277.8,474.4 279.6,472.3 281.3,470.3 283.1,468.3 284.9,466.3 286.7,464.2 288.5,462.2 290.3,460.2 292.1,458.2 293.9,456.2 295.7,454.1 297.5,452.1 299.3,450.1 301.1,448.1 302.8,446.0 304.6,444.0 306.4,442.0 308.2,440.0 310.0,437.9 311.8,435.9 313.6,433.9 315.4,431.9 317.2,429.8 319.0,427.8 320.8,425.8 322.6,423.8 324.3,421.7 326.1,419.7 327.9,417.7 329.7,415.7 330.1,416.1 328.3,418.1 326.5,420.2 324.7,422.2 323.0,424.2 321.2,426.3 319.4,428.3 317.6,430.4 315.9,432.4 314.1,434.4 312.3,436.5 310.5,438.5 308.7,440.6 307.0,442.6 305.2,444.6 303.4,446.7 301.6,448.7 299.8,450.8 298.1,452.8 296.3,454.8 294.5,456.9 292.7,458.9 291.0,461.0 289.2,463.0 287.4,465.0 285.6,467.1 283.8,469.1 282.1,471.2 280.3,473.2 278.5,475.2 276.7,477.3 275.0,479.3 273.2,481.4 271.4,483.4 269.6,485.4 267.8,487.5 266.1,489.5 264.3,491.6 262.5,493.6 260.7,495.7 259.0,497.7" fill="#ffffff" fill-opacity="0.42"/>
<polygon points="259.8,498.7 261.6,496.7 263.4,494.6 265.1,492.5 266.9,490.5 268.7,488.4 270.4,486.4 272.2,484.3 273.9,482.3 275.7,480.2 277.5,478.2 279.2,476.1 281.0,474.0 282.8,472.0 284.5,469.9 286.3,467.9 288.1,465.8 289.8,463.8 291.6,461.7 293.4,459.7 295.1,457.6 296.9,455.5 298.7,453.5 300.4,451.4 302.2,449.4 303.9,447.3 305.7,445.3 307.5,443.2 309.2,441.2 311.0,439.1 312.8,437.0 314.5,435.0 316.3,432.9 318.1,430.9 319.8,428.8 321.6,426.8 323.4,424.7 325.1,422.7 326.9,420.6 328.6,418.5 330.4,416.5 330.6,416.7 328.9,418.8 327.1,420.8 325.3,422.9 323.6,425.0 321.8,427.0 320.1,429.1 318.3,431.2 316.6,433.2 314.8,435.3 313.0,437.4 311.3,439.4 309.5,441.5 307.8,443.6 306.0,445.6 304.3,447.7 302.5,449.8 300.7,451.8 299.0,453.9 297.2,456.0 295.5,458.0 293.7,460.1 292.0,462.1 290.2,464.2 288.5,466.3 286.7,468.3 284.9,470.4 283.2,472.5 281.4,474.5 279.7,476.6 277.9,478.7 276.2,480.7 274.4,482.8 272.6,484.9 270.9,486.9 269.1,489.0 267.4,491.1 265.6,493.1 263.9,495.2 262.1,497.3 260.3,499.3" fill="#ffffff" fill-opacity="0.42"/>
<polygon points="260.7,499.8 262.5,497.7 264.2,495.6 266.0,493.5 267.7,491.5 269.5,489.4 271.2,487.3 273.0,485.3 274.7,483.2 276.5,481.1 278.2,479.0 280.0,477.0 281.7,474.9 283.5,472.8 285.2,470.8 287.0,468.7 288.7,466.6 290.5,464.5 292.2,462.5 294.0,460.4 295.7,458.3 297.5,456.3 299.2,454.2 301.0,452.1 302.7,450.0 304.5,448.0 306.2,445.9 308.0,443.8 309.7,441.7 311.5,439.7 313.2,437.6 315.0,435.5 316.8,433.5 318.5,431.4 320.3,429.3 322.0,427.2 323.8,425.2 325.5,423.1 327.3,421.0 329.0,419.0 330.8,416.9 330.8,416.9 329.0,419.0 327.3,421.1 325.5,423.2 323.8,425.2 322.0,427.3 320.3,429.4 318.5,431.4 316.8,433.5 315.1,435.6 313.3,437.7 311.6,439.7 309.8,441.8 308.1,443.9 306.3,446.0 304.6,448.0 302.8,450.1 301.1,452.2 299.3,454.3 297.6,456.3 295.8,458.4 294.1,460.5 292.3,462.5 290.6,464.6 288.8,466.7 287.1,468.8 285.3,470.8 283.6,472.9 281.8,475.0 280.1,477.1 278.3,479.1 276.6,481.2 274.8,483.3 273.1,485.4 271.3,487.4 269.6,489.5 267.8,491.6 266.1,493.7 264.3,495.7 262.6,497.8 260.8,499.9" fill="#ffffff" fill-opacity="0.42"/>
<polygon points="264.9,493.0 263.9,493.4 262.8,493.6 261.6,493.6 260.4,493.4 259.1,493.0 257.8,492.5 256.4,491.7 255.0,490.8 253.6,489.7 252.2,488.5 250.7,487.1 249.3,485.5 248.0,483.8 246.6,482.1 245.3,480.2 244.1,478.2 242.9,476.1 241.9,474.0 240.8,471.9 239.9,469.7 239.1,467.5 238.4,465.3 237.8,463.2 237.3,461.1 237.0,459.0 236.7,457.0 236.6,455.2 236.6,453.4 236.7,451.7 237.0,450.1 237.4,448.7 237.8,447.5 238.4,446.4 239.2,445.5 240.0,444.7 240.9,444.2 241.9,443.8 243.0,443.6 244.2,443.6 245.4,443.8 246.7,444.1 248.0,444.7 249.4,445.5 250.8,446.4 252.2,447.5 253.7,448.7 255.1,450.1 256.5,451.7 257.9,453.3 259.2,455.1 260.5,457.0 261.7,459.0 262.9,461.1 264.0,463.2 265.0,465.3 265.9,467.5 266.7,469.7 267.4,471.9 268.0,474.0 268.5,476.1 268.9,478.2 269.1,480.1 269.2,482.0 269.2,483.8 269.1,485.5 268.8,487.0 268.5,488.5 268.0,489.7 267.4,490.8 266.7,491.7 265.8,492.5" fill="#e83838" stroke="#ee1111" stroke-width="2.2"/>
<ellipse cx="251.8" cy="465.6" rx="3.2" ry="11" fill="#f8f4f4" fill-opacity="0.8" transform="rotate(15 251.8 465.6)"/>
<ellipse cx="252.3" cy="465.6" rx="1.6" ry="9" fill="#1ef0f0" fill-opacity="1.0" transform="rotate(15 252.3 465.6)"/>
<ellipse cx="248.8" cy="482.6" rx="2.5" ry="4" fill="#1ef0f0" fill-opacity="1.0" transform="rotate(35 248.8 482.6)"/>
<ellipse cx="246.8" cy="481.6" rx="4" ry="3" fill="#f8f4f4" fill-opacity="0.7" transform="rotate(35 246.8 481.6)"/>
</g></g>
<clipPath id="clip_c"><polygon points="406.1,448.7 406.1,447.1 406.2,445.6 406.5,444.2 406.8,442.9 407.3,441.8 407.9,440.8 408.5,440.0 409.3,439.3 410.1,438.8 457.5,411.8 459.0,411.0 460.4,410.3 461.9,409.8 463.4,409.4 465.0,409.1 466.5,408.9 468.0,408.9 469.4,409.0 470.9,409.2 472.3,409.6 473.6,410.1 474.8,410.7 476.0,411.4 477.1,412.3 478.1,413.2 479.0,414.2 479.7,415.4 480.4,416.6 480.9,417.9 481.3,419.2 481.6,420.6 481.8,422.1 481.8,423.6 481.7,425.1 481.4,426.6 481.0,428.1 480.5,429.5 479.9,431.0 479.2,432.4 478.3,433.8 477.3,435.1 476.3,436.4 433.0,481.7 432.3,482.4 431.4,482.9 430.5,483.3 429.5,483.4 428.4,483.4 427.3,483.3 426.2,482.9 424.9,482.4 423.7,481.7 422.4,480.9 421.1,479.9 419.9,478.8 418.6,477.5 417.3,476.1 416.1,474.6 414.9,473.0 413.7,471.3 412.7,469.5 411.6,467.7 410.6,465.8 409.8,463.8 409.0,461.9 408.2,459.9 407.6,457.9 407.1,456.0 406.7,454.1 406.4,452.2 406.2,450.4"/></clipPath>
<filter id="blurc" x="-20%" y="-20%" width="140%" height="140%"><feGaussianBlur stdDeviation="1.0"/></filter>
<g clip-path="url(#clip_c)"><g filter="url(#blurc)">
<polygon points="406.1,448.7 406.1,447.1 406.2,445.6 406.5,444.2 406.8,442.9 407.3,441.8 407.9,440.8 408.5,440.0 409.3,439.3 410.1,438.8 457.5,411.8 459.0,411.0 460.4,410.3 461.9,409.8 463.4,409.4 465.0,409.1 466.5,408.9 468.0,408.9 469.4,409.0 470.9,409.2 472.3,409.6 473.6,410.1 474.8,410.7 476.0,411.4 477.1,412.3 478.1,413.2 479.0,414.2 479.7,415.4 480.4,416.6 480.9,417.9 481.3,419.2 481.6,420.6 481.8,422.1 481.8,423.6 481.7,425.1 481.4,426.6 481.0,428.1 480.5,429.5 479.9,431.0 479.2,432.4 478.3,433.8 477.3,435.1 476.3,436.4 433.0,481.7 432.3,482.4 431.4,482.9 430.5,483.3 429.5,483.4 428.4,483.4 427.3,483.3 426.2,482.9 424.9,482.4 423.7,481.7 422.4,480.9 421.1,479.9 419.9,478.8 418.6,477.5 417.3,476.1 416.1,474.6 414.9,473.0 413.7,471.3 412.7,469.5 411.6,467.7 410.6,465.8 409.8,463.8 409.0,461.9 408.2,459.9 407.6,457.9 407.1,456.0 406.7,454.1 406.4,452.2 406.2,450.4" fill="#fff"/>
<polygon points="406.1,448.7 406.1,447.1 406.2,445.6 406.5,444.2 406.8,442.9 407.3,441.8 407.9,440.8 408.5,440.0 409.3,439.3 410.1,438.8 457.5,411.8 459.0,411.0 460.4,410.3 461.9,409.8 463.4,409.4 465.0,409.1 466.5,408.9 468.0,408.9 469.4,409.0 470.9,409.2 472.3,409.6 473.6,410.1 474.8,410.7 476.0,411.4 477.1,412.3 478.1,413.2 479.0,414.2 479.7,415.4 480.4,416.6 480.9,417.9 481.3,419.2 481.6,420.6 481.8,422.1 481.8,423.6 481.7,425.1 481.4,426.6 481.0,428.1 480.5,429.5 479.9,431.0 479.2,432.4 478.3,433.8 477.3,435.1 476.3,436.4 433.0,481.7 432.3,482.4 431.4,482.9 430.5,483.3 429.5,483.4 428.4,483.4 427.3,483.3 426.2,482.9 424.9,482.4 423.7,481.7 422.4,480.9 421.1,479.9 419.9,478.8 418.6,477.5 417.3,476.1 416.1,474.6 414.9,473.0 413.7,471.3 412.7,469.5 411.6,467.7 410.6,465.8 409.8,463.8 409.0,461.9 408.2,459.9 407.6,457.9 407.1,456.0 406.7,454.1 406.4,452.2 406.2,450.4" fill="#ee1111"/>
<polygon points="428.1,487.9 429.0,486.9 430.0,485.8 430.9,484.8 431.9,483.8 432.9,482.7 433.8,481.7 434.8,480.7 435.7,479.6 436.7,478.6 437.7,477.6 438.6,476.6 438.6,476.6 437.6,477.6 436.6,478.5 435.6,479.4 434.5,480.3 433.4,481.2 432.3,482.0 431.1,482.8 429.9,483.5 428.7,484.2 427.4,484.9 426.1,485.5" fill="#ee1111"/>
<polygon points="426.1,485.5 427.4,484.9 428.7,484.2 429.9,483.5 431.1,482.8 432.3,482.0 433.4,481.2 434.5,480.3 435.6,479.4 436.6,478.5 437.6,477.6 438.6,476.6 439.6,475.5 440.5,474.5 441.5,473.5 442.5,472.4 443.4,471.4 444.4,470.4 445.3,469.3 446.3,468.3 447.3,467.3 447.3,467.3 446.3,468.3 445.3,469.3 444.3,470.2 443.2,471.1 442.1,472.0 441.0,472.9 439.9,473.7 438.7,474.4 437.5,475.2 436.3,475.9 435.0,476.5 433.7,477.1 432.4,477.7 431.1,478.3 429.7,478.8 428.3,479.2 426.8,479.7 425.4,480.0 423.9,480.4 422.4,480.7" fill="#f8f4f4"/>
<polygon points="422.4,480.7 423.9,480.4 425.4,480.0 426.8,479.7 428.3,479.2 429.7,478.8 431.1,478.3 432.4,477.7 433.7,477.1 435.0,476.5 436.3,475.9 437.5,475.2 438.7,474.4 439.9,473.7 441.0,472.9 442.1,472.0 443.2,471.1 444.3,470.2 445.3,469.3 446.3,468.3 447.3,467.3 448.2,466.2 449.2,465.2 450.1,464.2 451.1,463.1 452.1,462.1 453.0,461.1 454.0,460.1 454.9,459.0 454.9,459.0 454.0,460.0 453.0,461.0 451.9,462.0 450.9,462.9 449.8,463.8 448.7,464.6 447.6,465.4 446.4,466.2 445.2,467.0 444.0,467.7 442.8,468.4 441.5,469.0 440.2,469.6 438.9,470.2 437.5,470.7 436.1,471.2 434.7,471.7 433.3,472.1 431.8,472.5 430.3,472.8 428.8,473.2 427.2,473.5 425.7,473.7 424.1,473.9 422.4,474.1 420.8,474.3 419.1,474.4 417.4,474.6" fill="#1ef0f0"/>
<polygon points="417.4,474.6 419.1,474.4 420.8,474.3 422.4,474.1 424.1,473.9 425.7,473.7 427.2,473.5 428.8,473.2 430.3,472.8 431.8,472.5 433.3,472.1 434.7,471.7 436.1,471.2 437.5,470.7 438.9,470.2 440.2,469.6 441.5,469.0 442.8,468.4 444.0,467.7 445.2,467.0 446.4,466.2 447.6,465.4 448.7,464.6 449.8,463.8 450.9,462.9 451.9,462.0 453.0,461.0 454.0,460.0 454.9,459.0 455.9,458.0 456.9,457.0 457.8,455.9 458.8,454.9 459.7,453.9 460.7,452.8 461.7,451.8 461.7,451.8 460.7,452.8 459.7,453.8 458.7,454.7 457.6,455.7 456.5,456.5 455.4,457.4 454.3,458.2 453.2,459.0 452.0,459.8 450.8,460.5 449.6,461.2 448.3,461.9 447.0,462.5 445.7,463.1 444.4,463.6 443.0,464.2 441.6,464.6 440.2,465.1 438.7,465.5 437.3,465.9 435.8,466.3 434.3,466.6 432.7,466.9 431.1,467.2 429.5,467.4 427.9,467.6 426.3,467.8 424.6,467.9 422.9,468.1 421.3,468.2 419.5,468.3 417.8,468.3 416.0,468.4 414.3,468.4 412.5,468.4" fill="#f8f4f4"/>
<polygon points="412.5,468.4 414.3,468.4 416.0,468.4 417.8,468.3 419.5,468.3 421.3,468.2 422.9,468.1 424.6,467.9 426.3,467.8 427.9,467.6 429.5,467.4 431.1,467.2 432.7,466.9 434.3,466.6 435.8,466.3 437.3,465.9 438.7,465.5 440.2,465.1 441.6,464.6 443.0,464.2 444.4,463.6 445.7,463.1 447.0,462.5 448.3,461.9 449.6,461.2 450.8,460.5 452.0,459.8 453.2,459.0 454.3,458.2 455.4,457.4 456.5,456.5 457.6,455.7 458.7,454.7 459.7,453.8 460.7,452.8 461.7,451.8 462.6,450.8 463.6,449.7 464.5,448.7 465.5,447.7 466.5,446.6 467.4,445.6 468.4,444.6 469.3,443.6 470.3,442.5 470.3,442.5 469.3,443.5 468.3,444.5 467.3,445.4 466.2,446.3 465.1,447.2 464.0,448.1 462.9,448.9 461.8,449.7 460.6,450.5 459.4,451.2 458.2,451.9 456.9,452.6 455.7,453.2 454.4,453.8 453.1,454.4 451.7,455.0 450.3,455.5 448.9,456.0 447.5,456.4 446.1,456.8 444.6,457.2 443.1,457.6 441.6,457.9 440.1,458.2 438.5,458.5 436.9,458.8 435.3,459.0 433.7,459.2 432.1,459.4 430.4,459.5 428.7,459.7 427.0,459.8 425.3,459.9 423.6,460.0 421.9,460.0 420.2,460.1 418.4,460.1 416.6,460.1 414.9,460.2 413.1,460.2 411.3,460.2 409.5,460.2 407.7,460.2 406.0,460.2" fill="#ee1111"/>
<polygon points="406.0,460.2 407.7,460.2 409.5,460.2 411.3,460.2 413.1,460.2 414.9,460.2 416.6,460.1 418.4,460.1 420.2,460.1 421.9,460.0 423.6,460.0 425.3,459.9 427.0,459.8 428.7,459.7 430.4,459.5 432.1,459.4 433.7,459.2 435.3,459.0 436.9,458.8 438.5,458.5 440.1,458.2 441.6,457.9 443.1,457.6 444.6,457.2 446.1,456.8 447.5,456.4 448.9,456.0 450.3,455.5 451.7,455.0 453.1,454.4 454.4,453.8 455.7,453.2 456.9,452.6 458.2,451.9 459.4,451.2 460.6,450.5 461.8,449.7 462.9,448.9 464.0,448.1 465.1,447.2 466.2,446.3 467.3,445.4 468.3,444.5 469.3,443.5 470.3,442.5 471.3,441.5 472.2,440.5 473.2,439.4 474.1,438.4 475.1,437.4 476.1,436.3 477.0,435.3 478.0,434.3 478.9,433.2 479.9,432.2 480.9,431.2 481.8,430.1 482.8,429.1 483.7,428.1 484.7,427.1 484.7,427.1 483.7,428.1 482.7,429.1 481.7,430.0 480.7,431.0 479.7,431.9 478.6,432.8 477.5,433.7 476.4,434.5 475.3,435.4 474.1,436.2 473.0,436.9 471.8,437.7 470.6,438.4 469.3,439.1 468.1,439.7 466.8,440.4 465.5,441.0 464.2,441.5 462.8,442.1 461.5,442.6 460.1,443.1 458.7,443.6 457.2,444.0 455.8,444.4 454.3,444.8 452.8,445.2 451.3,445.5 449.8,445.8 448.2,446.1 446.6,446.4 445.1,446.6 443.5,446.8 441.8,447.1 440.2,447.2 438.6,447.4 436.9,447.6 435.3,447.7 433.6,447.9 431.9,448.0 430.2,448.1 428.5,448.2 426.8,448.3 425.1,448.4 423.4,448.5 421.7,448.6 420.0,448.7 418.3,448.8 416.6,448.9 414.9,449.0 413.2,449.1 411.5,449.2 409.8,449.3 408.1,449.5 406.5,449.6 404.8,449.8 403.2,450.0 401.6,450.2 400.0,450.5 398.4,450.7" fill="#ee1111"/>
<polygon points="398.4,450.7 400.0,450.5 401.6,450.2 403.2,450.0 404.8,449.8 406.5,449.6 408.1,449.5 409.8,449.3 411.5,449.2 413.2,449.1 414.9,449.0 416.6,448.9 418.3,448.8 420.0,448.7 421.7,448.6 423.4,448.5 425.1,448.4 426.8,448.3 428.5,448.2 430.2,448.1 431.9,448.0 433.6,447.9 435.3,447.7 436.9,447.6 438.6,447.4 440.2,447.2 441.8,447.1 443.5,446.8 445.1,446.6 446.6,446.4 448.2,446.1 449.8,445.8 451.3,445.5 452.8,445.2 454.3,444.8 455.8,444.4 457.2,444.0 458.7,443.6 460.1,443.1 461.5,442.6 462.8,442.1 464.2,441.5 465.5,441.0 466.8,440.4 468.1,439.7 469.3,439.1 470.6,438.4 471.8,437.7 473.0,436.9 474.1,436.2 475.3,435.4 476.4,434.5 477.5,433.7 478.6,432.8 479.7,431.9 480.7,431.0 481.7,430.0 482.7,429.1 483.7,428.1 484.7,427.1 485.7,426.0 485.2,425.4 484.1,426.3 482.9,427.1 481.8,427.9 480.7,428.7 479.5,429.4 478.3,430.2 477.1,430.9 475.8,431.6 474.6,432.2 473.3,432.8 472.0,433.4 470.7,434.0 469.3,434.6 467.9,435.1 466.6,435.6 465.2,436.1 463.7,436.5 462.3,436.9 460.8,437.3 459.3,437.7 457.8,438.1 456.3,438.4 454.8,438.7 453.3,439.0 451.7,439.3 450.1,439.6 448.5,439.8 446.9,440.0 445.3,440.2 443.7,440.4 442.1,440.6 440.4,440.8 438.8,441.0 437.1,441.1 435.5,441.3 433.8,441.4 432.1,441.6 430.5,441.7 428.8,441.9 427.1,442.0 425.5,442.2 423.8,442.3 422.2,442.5 420.5,442.7 418.9,442.9 417.3,443.1 415.7,443.3 414.1,443.5 412.5,443.8 410.9,444.0 409.3,444.3 407.8,444.6 406.3,444.9 404.8,445.3 403.3,445.7 401.9,446.1 400.4,446.5 399.0,447.0 397.6,447.5 396.3,448.0" fill="#f8f4f4"/>
<polygon points="396.3,448.0 397.6,447.5 399.0,447.0 400.4,446.5 401.9,446.1 403.3,445.7 404.8,445.3 406.3,444.9 407.8,444.6 409.3,444.3 410.9,444.0 412.5,443.8 414.1,443.5 415.7,443.3 417.3,443.1 418.9,442.9 420.5,442.7 422.2,442.5 423.8,442.3 425.5,442.2 427.1,442.0 428.8,441.9 430.5,441.7 432.1,441.6 433.8,441.4 435.5,441.3 437.1,441.1 438.8,441.0 440.4,440.8 442.1,440.6 443.7,440.4 445.3,440.2 446.9,440.0 448.5,439.8 450.1,439.6 451.7,439.3 453.3,439.0 454.8,438.7 456.3,438.4 457.8,438.1 459.3,437.7 460.8,437.3 462.3,436.9 463.7,436.5 465.2,436.1 466.6,435.6 467.9,435.1 469.3,434.6 470.7,434.0 472.0,433.4 473.3,432.8 474.6,432.2 475.8,431.6 477.1,430.9 478.3,430.2 479.5,429.4 480.7,428.7 481.8,427.9 482.9,427.1 484.1,426.3 485.2,425.4 483.7,423.6 482.5,424.3 481.2,424.9 479.9,425.6 478.7,426.2 477.3,426.8 476.0,427.3 474.7,427.9 473.3,428.4 471.9,428.9 470.5,429.4 469.1,429.8 467.6,430.2 466.2,430.6 464.7,431.0 463.2,431.4 461.7,431.8 460.2,432.1 458.7,432.4 457.1,432.7 455.6,433.0 454.0,433.2 452.4,433.5 450.8,433.7 449.2,434.0 447.6,434.2 446.0,434.4 444.4,434.6 442.8,434.8 441.2,435.0 439.5,435.2 437.9,435.4 436.3,435.6 434.7,435.8 433.1,436.1 431.5,436.3 429.9,436.5 428.3,436.7 426.7,437.0 425.1,437.2 423.5,437.5 422.0,437.8 420.4,438.1 418.9,438.4 417.4,438.7 415.9,439.1 414.4,439.5 413.0,439.9 411.5,440.3 410.1,440.8 408.7,441.3 407.4,441.8 406.0,442.4 404.7,442.9 403.4,443.6 402.2,444.2 400.9,444.9 399.7,445.6 398.5,446.3 397.3,447.0 396.1,447.7" fill="#1ef0f0"/>
<polygon points="402.2,444.2 403.4,443.6 404.7,442.9 406.0,442.4 407.4,441.8 408.7,441.3 410.1,440.8 411.5,440.3 413.0,439.9 414.4,439.5 415.9,439.1 417.4,438.7 418.9,438.4 420.4,438.1 422.0,437.8 423.5,437.5 425.1,437.2 426.7,437.0 428.3,436.7 429.9,436.5 431.5,436.3 433.1,436.1 434.7,435.8 436.3,435.6 437.9,435.4 439.5,435.2 441.2,435.0 442.8,434.8 444.4,434.6 446.0,434.4 447.6,434.2 449.2,434.0 450.8,433.7 452.4,433.5 454.0,433.2 455.6,433.0 457.1,432.7 458.7,432.4 460.2,432.1 461.7,431.8 463.2,431.4 464.7,431.0 466.2,430.6 467.6,430.2 469.1,429.8 470.5,429.4 471.9,428.9 473.3,428.4 474.7,427.9 476.0,427.3 477.3,426.8 478.7,426.2 479.9,425.6 481.2,424.9 482.5,424.3 483.7,423.6 481.7,421.1 480.4,421.7 479.1,422.2 477.7,422.7 476.3,423.2 474.9,423.7 473.5,424.1 472.0,424.6 470.6,425.0 469.1,425.4 467.6,425.8 466.1,426.1 464.6,426.5 463.1,426.8 461.6,427.1 460.0,427.4 458.5,427.7 456.9,428.0 455.4,428.3 453.8,428.5 452.2,428.8 450.6,429.0 449.1,429.3 447.5,429.5 445.9,429.8 444.3,430.0 442.7,430.3 441.1,430.5 439.6,430.8 438.0,431.0 436.4,431.3 434.9,431.6 433.3,431.9 431.8,432.2 430.2,432.5 428.7,432.8 427.2,433.2 425.7,433.6 424.3,434.0 422.8,434.4 421.4,434.8 420.0,435.3 418.6,435.7 417.2,436.3 415.8,436.8 414.5,437.4 413.2,438.0 411.9,438.6 410.7,439.3 409.5,440.0 408.2,440.7 407.0,441.4 405.8,442.1 404.6,442.8 403.4,443.5 402.1,444.2" fill="#f8f4f4"/>
<polygon points="410.7,439.3 411.9,438.6 413.2,438.0 414.5,437.4 415.8,436.8 417.2,436.3 418.6,435.7 420.0,435.3 421.4,434.8 422.8,434.4 424.3,434.0 425.7,433.6 427.2,433.2 428.7,432.8 430.2,432.5 431.8,432.2 433.3,431.9 434.9,431.6 436.4,431.3 438.0,431.0 439.6,430.8 441.1,430.5 442.7,430.3 444.3,430.0 445.9,429.8 447.5,429.5 449.1,429.3 450.6,429.0 452.2,428.8 453.8,428.5 455.4,428.3 456.9,428.0 458.5,427.7 460.0,427.4 461.6,427.1 463.1,426.8 464.6,426.5 466.1,426.1 467.6,425.8 469.1,425.4 470.6,425.0 472.0,424.6 473.5,424.1 474.9,423.7 476.3,423.2 477.7,422.7 479.1,422.2 480.4,421.7 481.7,421.1 478.5,417.1 477.1,417.5 475.6,417.9 474.2,418.3 472.7,418.7 471.2,419.1 469.7,419.5 468.2,419.8 466.7,420.2 465.2,420.5 463.7,420.8 462.2,421.1 460.6,421.4 459.1,421.8 457.6,422.1 456.0,422.4 454.5,422.7 452.9,423.0 451.4,423.3 449.9,423.6 448.3,423.9 446.8,424.2 445.3,424.6 443.8,424.9 442.3,425.3 440.8,425.6 439.3,426.0 437.9,426.4 436.4,426.8 435.0,427.3 433.6,427.7 432.2,428.2 430.8,428.7 429.4,429.2 428.1,429.8 426.7,430.3 425.4,430.9 424.1,431.6 422.9,432.2 421.7,432.9 420.4,433.6 419.2,434.3 418.0,435.0 416.8,435.7 415.6,436.4 414.3,437.1 413.1,437.9 411.9,438.6 410.7,439.3" fill="#ee1111"/>
<polygon points="421.7,432.9 422.9,432.2 424.1,431.6 425.4,430.9 426.7,430.3 428.1,429.8 429.4,429.2 430.8,428.7 432.2,428.2 433.6,427.7 435.0,427.3 436.4,426.8 437.9,426.4 439.3,426.0 440.8,425.6 442.3,425.3 443.8,424.9 445.3,424.6 446.8,424.2 448.3,423.9 449.9,423.6 451.4,423.3 452.9,423.0 454.5,422.7 456.0,422.4 457.6,422.1 459.1,421.8 460.6,421.4 462.2,421.1 463.7,420.8 465.2,420.5 466.7,420.2 468.2,419.8 469.7,419.5 471.2,419.1 472.7,418.7 474.2,418.3 475.6,417.9 477.1,417.5 478.5,417.1 473.5,410.8 472.1,411.2 470.6,411.6 469.1,412.0 467.6,412.4 466.2,412.8 464.7,413.1 463.2,413.5 461.8,414.0 460.3,414.4 458.9,414.8 457.5,415.2 456.0,415.7 454.6,416.1 453.2,416.6 451.8,417.1 450.4,417.6 449.1,418.1 447.7,418.6 446.4,419.2 445.0,419.8 443.7,420.4 442.5,421.0 441.2,421.7 439.9,422.3 438.7,423.0 437.5,423.7 436.3,424.4 435.1,425.1 433.8,425.9 432.6,426.6 431.4,427.3 430.2,428.0 429.0,428.7 427.8,429.4 426.5,430.1 425.3,430.8 424.1,431.5 422.9,432.2 421.7,432.9" fill="#ee1111"/>
<polygon points="439.9,422.3 441.2,421.7 442.5,421.0 443.7,420.4 445.0,419.8 446.4,419.2 447.7,418.6 449.1,418.1 450.4,417.6 451.8,417.1 453.2,416.6 454.6,416.1 456.0,415.7 457.5,415.2 458.9,414.8 460.3,414.4 461.8,414.0 463.2,413.5 464.7,413.1 466.2,412.8 467.6,412.4 469.1,412.0 470.6,411.6 472.1,411.2 473.5,410.8 471.1,407.8 469.7,408.3 468.3,408.7 466.9,409.2 465.5,409.7 464.1,410.2 462.7,410.7 461.4,411.2 460.0,411.7 458.7,412.3 457.3,412.8 456.0,413.4 454.7,414.0 453.4,414.7 452.2,415.3 450.9,416.0 449.7,416.7 448.5,417.4 447.3,418.1 446.0,418.8 444.8,419.5 443.6,420.2 442.4,420.9 441.2,421.6 439.9,422.3" fill="#f8f4f4"/>
<polygon points="449.7,416.7 450.9,416.0 452.2,415.3 453.4,414.7 454.7,414.0 456.0,413.4 457.3,412.8 458.7,412.3 460.0,411.7 461.4,411.2 462.7,410.7 464.1,410.2 465.5,409.7 466.9,409.2 468.3,408.7 469.7,408.3 471.1,407.8 469.7,406.0 468.4,406.5 467.0,407.1 465.7,407.7 464.5,408.4 463.2,409.0 461.9,409.6 460.7,410.3 459.5,411.0 458.2,411.7 457.0,412.4 455.8,413.1 454.6,413.8 453.4,414.6 452.1,415.3 450.9,416.0 449.7,416.7" fill="#1ef0f0"/>
<polygon points="460.7,410.3 461.9,409.6 463.2,409.0 464.5,408.4 465.7,407.7 467.0,407.1 468.4,406.5 469.7,406.0 469.2,405.4 468.0,406.1 466.8,406.8 465.5,407.5 464.3,408.2 463.1,408.9 461.9,409.6 460.7,410.3" fill="#f8f4f4"/>
<polygon points="396.1,447.7 397.9,446.7 399.7,445.6 401.5,444.6 403.4,443.5 405.2,442.4 405.2,442.4 403.4,443.5 401.5,444.6 399.7,445.6 397.9,446.7 396.1,447.7" fill="#f5b0b0" fill-opacity="0.8"/>
<polygon points="427.3,486.9 428.7,485.4 430.2,483.8 431.6,482.3 433.1,480.8 434.5,479.2 436.0,477.7 437.4,476.2 438.9,474.6 440.3,473.1 441.8,471.6 443.2,470.0 444.7,468.5 446.1,467.0 447.6,465.4 449.0,463.9 450.5,462.4 451.9,460.8 453.4,459.3 454.8,457.8 456.3,456.2 457.7,454.7 459.2,453.1 460.6,451.6 462.1,450.1 463.5,448.5 465.0,447.0 466.4,445.5 467.9,443.9 469.3,442.4 470.8,440.9 472.2,439.3 473.7,437.8 475.1,436.3 476.6,434.7 478.0,433.2 479.5,431.7 480.9,430.1 482.4,428.6 483.8,427.1 485.3,425.5 485.7,426.0 484.2,427.6 482.8,429.1 481.3,430.7 479.9,432.2 478.5,433.8 477.0,435.3 475.6,436.9 474.1,438.4 472.7,439.9 471.3,441.5 469.8,443.0 468.4,444.6 466.9,446.1 465.5,447.7 464.1,449.2 462.6,450.8 461.2,452.3 459.7,453.9 458.3,455.4 456.9,457.0 455.4,458.5 454.0,460.1 452.5,461.6 451.1,463.1 449.7,464.7 448.2,466.2 446.8,467.8 445.3,469.3 443.9,470.9 442.5,472.4 441.0,474.0 439.6,475.5 438.1,477.1 436.7,478.6 435.3,480.2 433.8,481.7 432.4,483.3 430.9,484.8 429.5,486.4 428.1,487.9" fill="#f5b0b0" fill-opacity="0.8"/>
<polygon points="396.1,447.7 397.9,446.7 399.7,445.6 401.5,444.6 403.4,443.5 405.2,442.4 405.2,442.4 403.4,443.5 401.5,444.6 399.7,445.6 397.9,446.7 396.1,447.7" fill="#ffffff" fill-opacity="0.42"/>
<polygon points="396.2,447.9 398.0,446.8 399.8,445.8 401.7,444.7 403.5,443.6 405.3,442.6 407.1,441.5 409.0,440.5 410.8,439.4 412.6,438.3 414.4,437.3 416.3,436.2 418.1,435.2 419.9,434.1 421.8,433.0 423.6,432.0 425.4,430.9 427.2,429.9 429.1,428.8 430.9,427.7 432.7,426.7 434.5,425.6 436.4,424.6 438.2,423.5 440.0,422.4 441.9,421.4 443.7,420.3 445.5,419.2 447.3,418.2 449.2,417.1 451.0,416.1 452.8,415.0 454.6,413.9 456.5,412.9 458.3,411.8 460.1,410.8 462.0,409.7 463.8,408.6 465.6,407.6 467.4,406.5 469.3,405.5 469.4,405.6 467.6,406.7 465.8,407.8 463.9,408.8 462.1,409.9 460.3,411.0 458.5,412.0 456.6,413.1 454.8,414.2 453.0,415.2 451.2,416.3 449.3,417.4 447.5,418.4 445.7,419.5 443.9,420.5 442.1,421.6 440.2,422.7 438.4,423.7 436.6,424.8 434.8,425.9 432.9,426.9 431.1,428.0 429.3,429.1 427.5,430.1 425.6,431.2 423.8,432.3 422.0,433.3 420.2,434.4 418.3,435.5 416.5,436.5 414.7,437.6 412.9,438.7 411.0,439.7 409.2,440.8 407.4,441.8 405.6,442.9 403.7,444.0 401.9,445.0 400.1,446.1 398.3,447.2 396.5,448.2" fill="#ffffff" fill-opacity="0.42"/>
<polygon points="397.0,448.9 398.8,447.9 400.6,446.8 402.5,445.7 404.3,444.6 406.1,443.6 407.9,442.5 409.7,441.4 411.5,440.3 413.4,439.3 415.2,438.2 417.0,437.1 418.8,436.1 420.6,435.0 422.5,433.9 424.3,432.8 426.1,431.8 427.9,430.7 429.7,429.6 431.5,428.5 433.4,427.5 435.2,426.4 437.0,425.3 438.8,424.2 440.6,423.2 442.4,422.1 444.3,421.0 446.1,420.0 447.9,418.9 449.7,417.8 451.5,416.7 453.3,415.7 455.2,414.6 457.0,413.5 458.8,412.4 460.6,411.4 462.4,410.3 464.2,409.2 466.1,408.1 467.9,407.1 469.7,406.0 470.0,406.4 468.2,407.5 466.4,408.6 464.6,409.6 462.8,410.7 461.0,411.8 459.2,412.9 457.4,414.0 455.5,415.1 453.7,416.1 451.9,417.2 450.1,418.3 448.3,419.4 446.5,420.5 444.7,421.6 442.9,422.6 441.1,423.7 439.3,424.8 437.4,425.9 435.6,427.0 433.8,428.1 432.0,429.1 430.2,430.2 428.4,431.3 426.6,432.4 424.8,433.5 423.0,434.6 421.2,435.6 419.4,436.7 417.5,437.8 415.7,438.9 413.9,440.0 412.1,441.1 410.3,442.1 408.5,443.2 406.7,444.3 404.9,445.4 403.1,446.5 401.3,447.6 399.4,448.6 397.6,449.7" fill="#ffffff" fill-opacity="0.42"/>
<polygon points="398.6,450.9 400.4,449.8 402.2,448.7 404.0,447.6 405.8,446.5 407.6,445.4 409.4,444.3 411.2,443.2 413.0,442.2 414.8,441.1 416.6,440.0 418.4,438.9 420.2,437.8 422.0,436.7 423.8,435.6 425.6,434.5 427.4,433.4 429.2,432.3 431.0,431.2 432.8,430.1 434.6,429.0 436.4,427.9 438.2,426.8 440.0,425.7 441.8,424.6 443.5,423.5 445.3,422.4 447.1,421.3 448.9,420.2 450.7,419.1 452.5,418.0 454.3,416.9 456.1,415.8 457.9,414.7 459.7,413.6 461.5,412.5 463.3,411.4 465.1,410.3 466.9,409.2 468.7,408.1 470.5,407.0 471.0,407.6 469.2,408.7 467.4,409.9 465.6,411.0 463.9,412.1 462.1,413.2 460.3,414.3 458.5,415.4 456.7,416.5 454.9,417.6 453.1,418.8 451.4,419.9 449.6,421.0 447.8,422.1 446.0,423.2 444.2,424.3 442.4,425.4 440.6,426.5 438.8,427.6 437.1,428.8 435.3,429.9 433.5,431.0 431.7,432.1 429.9,433.2 428.1,434.3 426.3,435.4 424.6,436.5 422.8,437.7 421.0,438.8 419.2,439.9 417.4,441.0 415.6,442.1 413.8,443.2 412.0,444.3 410.3,445.4 408.5,446.6 406.7,447.7 404.9,448.8 403.1,449.9 401.3,451.0 399.5,452.1" fill="#ffffff" fill-opacity="0.42"/>
<polygon points="400.9,453.8 402.6,452.6 404.4,451.5 406.2,450.4 407.9,449.2 409.7,448.1 411.5,447.0 413.3,445.9 415.0,444.7 416.8,443.6 418.6,442.5 420.3,441.3 422.1,440.2 423.9,439.1 425.7,437.9 427.4,436.8 429.2,435.7 431.0,434.5 432.7,433.4 434.5,432.3 436.3,431.1 438.0,430.0 439.8,428.9 441.6,427.7 443.4,426.6 445.1,425.5 446.9,424.3 448.7,423.2 450.4,422.1 452.2,420.9 454.0,419.8 455.7,418.7 457.5,417.5 459.3,416.4 461.1,415.3 462.8,414.1 464.6,413.0 466.4,411.9 468.1,410.7 469.9,409.6 471.7,408.5 472.3,409.3 470.5,410.4 468.8,411.6 467.0,412.7 465.3,413.9 463.5,415.0 461.8,416.2 460.0,417.3 458.3,418.5 456.5,419.6 454.7,420.8 453.0,421.9 451.2,423.1 449.5,424.2 447.7,425.4 446.0,426.5 444.2,427.7 442.5,428.8 440.7,430.0 438.9,431.1 437.2,432.3 435.4,433.4 433.7,434.6 431.9,435.7 430.2,436.9 428.4,438.0 426.7,439.2 424.9,440.3 423.1,441.5 421.4,442.6 419.6,443.8 417.9,444.9 416.1,446.1 414.4,447.2 412.6,448.4 410.9,449.5 409.1,450.7 407.3,451.8 405.6,453.0 403.8,454.1 402.1,455.3" fill="#ffffff" fill-opacity="0.42"/>
<polygon points="403.7,457.3 405.4,456.1 407.2,455.0 408.9,453.8 410.6,452.6 412.4,451.4 414.1,450.3 415.8,449.1 417.6,447.9 419.3,446.7 421.1,445.6 422.8,444.4 424.5,443.2 426.3,442.0 428.0,440.9 429.7,439.7 431.5,438.5 433.2,437.3 434.9,436.2 436.7,435.0 438.4,433.8 440.2,432.6 441.9,431.5 443.6,430.3 445.4,429.1 447.1,427.9 448.8,426.8 450.6,425.6 452.3,424.4 454.0,423.2 455.8,422.1 457.5,420.9 459.2,419.7 461.0,418.5 462.7,417.4 464.5,416.2 466.2,415.0 467.9,413.8 469.7,412.7 471.4,411.5 473.1,410.3 473.9,411.2 472.1,412.4 470.4,413.6 468.7,414.8 467.0,416.0 465.3,417.2 463.6,418.4 461.8,419.6 460.1,420.8 458.4,422.0 456.7,423.2 455.0,424.4 453.2,425.6 451.5,426.8 449.8,428.0 448.1,429.2 446.4,430.4 444.6,431.6 442.9,432.8 441.2,434.0 439.5,435.2 437.8,436.4 436.1,437.6 434.3,438.8 432.6,440.0 430.9,441.1 429.2,442.3 427.5,443.5 425.7,444.7 424.0,445.9 422.3,447.1 420.6,448.3 418.9,449.5 417.1,450.7 415.4,451.9 413.7,453.1 412.0,454.3 410.3,455.5 408.6,456.7 406.8,457.9 405.1,459.1" fill="#ffffff" fill-opacity="0.42"/>
<polygon points="406.9,461.4 408.6,460.2 410.3,458.9 412.0,457.7 413.7,456.5 415.4,455.3 417.1,454.0 418.8,452.8 420.5,451.6 422.2,450.4 423.9,449.1 425.6,447.9 427.3,446.7 429.0,445.5 430.7,444.2 432.4,443.0 434.1,441.8 435.8,440.6 437.5,439.3 439.2,438.1 440.9,436.9 442.6,435.7 444.3,434.4 446.0,433.2 447.7,432.0 449.4,430.8 451.1,429.5 452.7,428.3 454.4,427.1 456.1,425.9 457.8,424.6 459.5,423.4 461.2,422.2 462.9,421.0 464.6,419.7 466.3,418.5 468.0,417.3 469.7,416.1 471.4,414.9 473.1,413.6 474.8,412.4 475.6,413.4 473.9,414.7 472.2,415.9 470.6,417.1 468.9,418.4 467.2,419.6 465.5,420.9 463.9,422.1 462.2,423.4 460.5,424.6 458.8,425.9 457.1,427.1 455.5,428.4 453.8,429.6 452.1,430.9 450.4,432.1 448.8,433.4 447.1,434.6 445.4,435.9 443.7,437.1 442.1,438.4 440.4,439.6 438.7,440.9 437.0,442.1 435.3,443.4 433.7,444.6 432.0,445.9 430.3,447.1 428.6,448.4 427.0,449.6 425.3,450.9 423.6,452.1 421.9,453.4 420.2,454.6 418.6,455.9 416.9,457.1 415.2,458.4 413.5,459.6 411.9,460.9 410.2,462.1 408.5,463.3" fill="#ffffff" fill-opacity="0.42"/>
<polygon points="410.4,465.8 412.1,464.5 413.8,463.2 415.4,462.0 417.1,460.7 418.7,459.4 420.4,458.1 422.0,456.8 423.7,455.6 425.3,454.3 427.0,453.0 428.6,451.7 430.3,450.5 431.9,449.2 433.6,447.9 435.3,446.6 436.9,445.3 438.6,444.1 440.2,442.8 441.9,441.5 443.5,440.2 445.2,438.9 446.8,437.7 448.5,436.4 450.1,435.1 451.8,433.8 453.4,432.6 455.1,431.3 456.8,430.0 458.4,428.7 460.1,427.4 461.7,426.2 463.4,424.9 465.0,423.6 466.7,422.3 468.3,421.1 470.0,419.8 471.6,418.5 473.3,417.2 475.0,415.9 476.6,414.7 477.4,415.7 475.8,417.0 474.2,418.3 472.5,419.6 470.9,420.9 469.3,422.2 467.6,423.5 466.0,424.8 464.4,426.1 462.7,427.4 461.1,428.7 459.5,430.0 457.8,431.3 456.2,432.6 454.6,433.9 452.9,435.2 451.3,436.5 449.7,437.9 448.0,439.2 446.4,440.5 444.7,441.8 443.1,443.1 441.5,444.4 439.8,445.7 438.2,447.0 436.6,448.3 434.9,449.6 433.3,450.9 431.7,452.2 430.0,453.5 428.4,454.8 426.8,456.1 425.1,457.4 423.5,458.7 421.9,460.0 420.2,461.3 418.6,462.6 417.0,463.9 415.3,465.2 413.7,466.5 412.1,467.8" fill="#ffffff" fill-opacity="0.42"/>
<polygon points="414.0,470.3 415.6,469.0 417.3,467.6 418.9,466.3 420.5,465.0 422.1,463.6 423.7,462.3 425.3,461.0 426.9,459.6 428.5,458.3 430.1,457.0 431.7,455.6 433.4,454.3 435.0,453.0 436.6,451.6 438.2,450.3 439.8,449.0 441.4,447.6 443.0,446.3 444.6,445.0 446.2,443.6 447.9,442.3 449.5,441.0 451.1,439.6 452.7,438.3 454.3,437.0 455.9,435.6 457.5,434.3 459.1,433.0 460.7,431.6 462.3,430.3 464.0,429.0 465.6,427.6 467.2,426.3 468.8,425.0 470.4,423.6 472.0,422.3 473.6,421.0 475.2,419.6 476.8,418.3 478.4,417.0 479.3,418.0 477.7,419.4 476.1,420.7 474.5,422.1 472.9,423.4 471.3,424.8 469.7,426.1 468.1,427.5 466.5,428.9 464.9,430.2 463.4,431.6 461.8,432.9 460.2,434.3 458.6,435.6 457.0,437.0 455.4,438.4 453.8,439.7 452.2,441.1 450.6,442.4 449.0,443.8 447.4,445.1 445.9,446.5 444.3,447.9 442.7,449.2 441.1,450.6 439.5,451.9 437.9,453.3 436.3,454.6 434.7,456.0 433.1,457.4 431.5,458.7 429.9,460.1 428.4,461.4 426.8,462.8 425.2,464.1 423.6,465.5 422.0,466.9 420.4,468.2 418.8,469.6 417.2,470.9 415.6,472.3" fill="#ffffff" fill-opacity="0.42"/>
<polygon points="417.5,474.7 419.1,473.3 420.7,471.9 422.2,470.5 423.8,469.1 425.4,467.7 426.9,466.3 428.5,465.0 430.1,463.6 431.6,462.2 433.2,460.8 434.8,459.4 436.3,458.0 437.9,456.6 439.5,455.3 441.0,453.9 442.6,452.5 444.2,451.1 445.7,449.7 447.3,448.3 448.9,446.9 450.4,445.6 452.0,444.2 453.6,442.8 455.2,441.4 456.7,440.0 458.3,438.6 459.9,437.2 461.4,435.9 463.0,434.5 464.6,433.1 466.1,431.7 467.7,430.3 469.3,428.9 470.8,427.5 472.4,426.1 474.0,424.8 475.5,423.4 477.1,422.0 478.7,420.6 480.2,419.2 481.0,420.2 479.5,421.6 477.9,423.0 476.4,424.4 474.8,425.8 473.3,427.2 471.7,428.6 470.2,430.0 468.6,431.4 467.1,432.9 465.5,434.3 464.0,435.7 462.4,437.1 460.9,438.5 459.3,439.9 457.8,441.3 456.2,442.7 454.7,444.1 453.1,445.5 451.6,446.9 450.0,448.4 448.5,449.8 446.9,451.2 445.4,452.6 443.8,454.0 442.3,455.4 440.7,456.8 439.2,458.2 437.6,459.6 436.1,461.0 434.5,462.4 433.0,463.9 431.4,465.3 429.9,466.7 428.3,468.1 426.8,469.5 425.2,470.9 423.7,472.3 422.1,473.7 420.6,475.1 419.0,476.5" fill="#ffffff" fill-opacity="0.42"/>
<polygon points="420.7,478.7 422.3,477.3 423.8,475.8 425.3,474.4 426.8,473.0 428.4,471.5 429.9,470.1 431.4,468.6 433.0,467.2 434.5,465.8 436.0,464.3 437.5,462.9 439.1,461.5 440.6,460.0 442.1,458.6 443.7,457.2 445.2,455.7 446.7,454.3 448.3,452.9 449.8,451.4 451.3,450.0 452.8,448.6 454.4,447.1 455.9,445.7 457.4,444.3 459.0,442.8 460.5,441.4 462.0,439.9 463.5,438.5 465.1,437.1 466.6,435.6 468.1,434.2 469.7,432.8 471.2,431.3 472.7,429.9 474.2,428.5 475.8,427.0 477.3,425.6 478.8,424.2 480.4,422.7 481.9,421.3 482.6,422.1 481.1,423.6 479.5,425.0 478.0,426.5 476.5,428.0 475.0,429.4 473.5,430.9 472.0,432.3 470.5,433.8 468.9,435.2 467.4,436.7 465.9,438.1 464.4,439.6 462.9,441.1 461.4,442.5 459.9,444.0 458.4,445.4 456.8,446.9 455.3,448.3 453.8,449.8 452.3,451.2 450.8,452.7 449.3,454.1 447.8,455.6 446.3,457.1 444.7,458.5 443.2,460.0 441.7,461.4 440.2,462.9 438.7,464.3 437.2,465.8 435.7,467.2 434.1,468.7 432.6,470.2 431.1,471.6 429.6,473.1 428.1,474.5 426.6,476.0 425.1,477.4 423.6,478.9 422.0,480.3" fill="#ffffff" fill-opacity="0.42"/>
<polygon points="423.5,482.2 425.0,480.7 426.5,479.2 428.0,477.7 429.5,476.3 431.0,474.8 432.5,473.3 434.0,471.8 435.5,470.4 437.0,468.9 438.5,467.4 440.0,465.9 441.5,464.4 442.9,463.0 444.4,461.5 445.9,460.0 447.4,458.5 448.9,457.1 450.4,455.6 451.9,454.1 453.4,452.6 454.9,451.2 456.4,449.7 457.9,448.2 459.4,446.7 460.9,445.2 462.4,443.8 463.9,442.3 465.4,440.8 466.9,439.3 468.4,437.9 469.9,436.4 471.4,434.9 472.9,433.4 474.3,431.9 475.8,430.5 477.3,429.0 478.8,427.5 480.3,426.0 481.8,424.6 483.3,423.1 483.9,423.8 482.4,425.3 480.9,426.8 479.4,428.3 477.9,429.7 476.5,431.2 475.0,432.7 473.5,434.2 472.0,435.7 470.5,437.2 469.0,438.7 467.6,440.2 466.1,441.7 464.6,443.2 463.1,444.7 461.6,446.2 460.2,447.7 458.7,449.2 457.2,450.7 455.7,452.2 454.2,453.6 452.7,455.1 451.3,456.6 449.8,458.1 448.3,459.6 446.8,461.1 445.3,462.6 443.8,464.1 442.4,465.6 440.9,467.1 439.4,468.6 437.9,470.1 436.4,471.6 435.0,473.1 433.5,474.6 432.0,476.0 430.5,477.5 429.0,479.0 427.5,480.5 426.1,482.0 424.6,483.5" fill="#ffffff" fill-opacity="0.42"/>
<polygon points="425.7,484.9 427.2,483.4 428.6,481.9 430.1,480.4 431.6,478.9 433.1,477.4 434.5,475.9 436.0,474.4 437.5,472.9 438.9,471.3 440.4,469.8 441.9,468.3 443.3,466.8 444.8,465.3 446.3,463.8 447.7,462.3 449.2,460.8 450.7,459.3 452.1,457.7 453.6,456.2 455.1,454.7 456.5,453.2 458.0,451.7 459.5,450.2 461.0,448.7 462.4,447.2 463.9,445.7 465.4,444.1 466.8,442.6 468.3,441.1 469.8,439.6 471.2,438.1 472.7,436.6 474.2,435.1 475.6,433.6 477.1,432.1 478.6,430.5 480.0,429.0 481.5,427.5 483.0,426.0 484.5,424.5 484.8,425.0 483.4,426.5 481.9,428.0 480.5,429.6 479.0,431.1 477.6,432.6 476.1,434.1 474.6,435.7 473.2,437.2 471.7,438.7 470.3,440.2 468.8,441.8 467.3,443.3 465.9,444.8 464.4,446.3 463.0,447.8 461.5,449.4 460.0,450.9 458.6,452.4 457.1,453.9 455.7,455.5 454.2,457.0 452.7,458.5 451.3,460.0 449.8,461.5 448.4,463.1 446.9,464.6 445.5,466.1 444.0,467.6 442.5,469.2 441.1,470.7 439.6,472.2 438.2,473.7 436.7,475.3 435.2,476.8 433.8,478.3 432.3,479.8 430.9,481.3 429.4,482.9 427.9,484.4 426.5,485.9" fill="#ffffff" fill-opacity="0.42"/>
<polygon points="427.2,486.8 428.7,485.3 430.1,483.8 431.6,482.2 433.0,480.7 434.5,479.2 435.9,477.6 437.4,476.1 438.8,474.6 440.3,473.0 441.7,471.5 443.2,470.0 444.6,468.4 446.1,466.9 447.5,465.4 449.0,463.8 450.4,462.3 451.9,460.8 453.3,459.2 454.8,457.7 456.2,456.2 457.7,454.6 459.1,453.1 460.6,451.6 462.0,450.0 463.5,448.5 464.9,447.0 466.4,445.4 467.8,443.9 469.3,442.4 470.7,440.8 472.2,439.3 473.6,437.8 475.1,436.2 476.5,434.7 478.0,433.2 479.4,431.6 480.9,430.1 482.3,428.5 483.8,427.0 485.2,425.5 485.5,425.8 484.0,427.3 482.6,428.8 481.1,430.4 479.7,431.9 478.2,433.5 476.8,435.0 475.3,436.5 473.9,438.1 472.5,439.6 471.0,441.2 469.6,442.7 468.1,444.3 466.7,445.8 465.2,447.3 463.8,448.9 462.3,450.4 460.9,452.0 459.5,453.5 458.0,455.0 456.6,456.6 455.1,458.1 453.7,459.7 452.2,461.2 450.8,462.7 449.3,464.3 447.9,465.8 446.5,467.4 445.0,468.9 443.6,470.4 442.1,472.0 440.7,473.5 439.2,475.1 437.8,476.6 436.3,478.2 434.9,479.7 433.4,481.2 432.0,482.8 430.6,484.3 429.1,485.9 427.7,487.4" fill="#ffffff" fill-opacity="0.42"/>
<polygon points="428.0,487.8 429.4,486.3 430.9,484.7 432.3,483.2 433.8,481.6 435.2,480.1 436.6,478.5 438.1,477.0 439.5,475.4 441.0,473.9 442.4,472.3 443.8,470.8 445.3,469.2 446.7,467.7 448.2,466.2 449.6,464.6 451.0,463.1 452.5,461.5 453.9,460.0 455.4,458.4 456.8,456.9 458.2,455.3 459.7,453.8 461.1,452.2 462.6,450.7 464.0,449.2 465.5,447.6 466.9,446.1 468.3,444.5 469.8,443.0 471.2,441.4 472.7,439.9 474.1,438.3 475.5,436.8 477.0,435.2 478.4,433.7 479.9,432.2 481.3,430.6 482.7,429.1 484.2,427.5 485.6,426.0 485.7,426.0 484.2,427.6 482.8,429.1 481.3,430.7 479.9,432.2 478.5,433.8 477.0,435.3 475.6,436.9 474.1,438.4 472.7,439.9 471.3,441.5 469.8,443.0 468.4,444.6 466.9,446.1 465.5,447.7 464.1,449.2 462.6,450.8 461.2,452.3 459.7,453.9 458.3,455.4 456.9,457.0 455.4,458.5 454.0,460.1 452.5,461.6 451.1,463.1 449.7,464.7 448.2,466.2 446.8,467.8 445.3,469.3 443.9,470.9 442.5,472.4 441.0,474.0 439.6,475.5 438.1,477.1 436.7,478.6 435.3,480.2 433.8,481.7 432.4,483.3 430.9,484.8 429.5,486.4 428.1,487.9" fill="#ffffff" fill-opacity="0.42"/>
<polygon points="431.4,482.9 430.5,483.3 429.5,483.4 428.4,483.4 427.3,483.3 426.2,482.9 424.9,482.4 423.7,481.7 422.4,480.9 421.1,479.9 419.9,478.8 418.6,477.5 417.3,476.1 416.1,474.6 414.9,473.0 413.7,471.3 412.7,469.5 411.6,467.7 410.6,465.8 409.8,463.8 409.0,461.9 408.2,459.9 407.6,457.9 407.1,456.0 406.7,454.1 406.4,452.2 406.2,450.4 406.1,448.7 406.1,447.1 406.2,445.6 406.5,444.2 406.8,442.9 407.3,441.8 407.9,440.8 408.5,440.0 409.3,439.3 410.1,438.8 411.0,438.5 412.0,438.3 413.1,438.3 414.2,438.5 415.4,438.8 416.6,439.3 417.9,440.0 419.1,440.8 420.4,441.8 421.7,442.9 423.0,444.2 424.2,445.6 425.5,447.1 426.7,448.7 427.8,450.4 428.9,452.2 429.9,454.1 430.9,456.0 431.8,457.9 432.6,459.9 433.3,461.9 433.9,463.8 434.5,465.8 434.9,467.7 435.2,469.5 435.4,471.3 435.5,473.0 435.5,474.6 435.3,476.1 435.1,477.5 434.7,478.8 434.3,479.9 433.7,480.9 433.0,481.7 432.3,482.4" fill="#f09a9a" stroke="#ee1111" stroke-width="3.0"/>
<ellipse cx="412.1" cy="454.4" rx="3" ry="8" fill="#f05050" fill-opacity="1.0" transform="rotate(15 412.1 454.4)"/>
<ellipse cx="421.1" cy="462.4" rx="2.5" ry="9" fill="#f8f4f4" fill-opacity="0.8" transform="rotate(15 421.1 462.4)"/>
<ellipse cx="415.1" cy="474.4" rx="2.5" ry="4" fill="#1ef0f0" fill-opacity="1.0" transform="rotate(30 415.1 474.4)"/>
</g></g>
<clipPath id="clip_d"><polygon points="545.3,446.4 545.3,444.7 545.5,443.1 545.8,441.6 546.2,440.3 546.7,439.1 547.3,438.1 548.0,437.3 548.8,436.6 600.7,406.5 601.8,406.0 602.8,405.5 604.0,405.2 605.1,405.0 606.3,404.9 607.4,404.9 608.6,405.0 609.8,405.3 610.9,405.7 612.0,406.2 613.1,406.8 614.2,407.5 615.2,408.4 616.1,409.3 617.0,410.3 617.8,411.4 618.6,412.5 619.2,413.7 619.8,415.0 620.3,416.3 620.7,417.7 620.9,419.1 621.1,420.5 621.2,421.9 621.2,423.2 621.1,424.6 620.8,425.9 620.5,427.2 620.1,428.5 619.6,429.7 619.0,430.8 618.3,431.9 617.5,432.8 571.9,483.7 571.1,484.3 570.3,484.8 569.3,485.1 568.3,485.2 567.2,485.1 566.1,484.8 564.9,484.4 563.7,483.8 562.4,482.9 561.2,482.0 559.9,480.8 558.6,479.5 557.3,478.0 556.1,476.5 554.9,474.8 553.7,472.9 552.6,471.0 551.5,469.0 550.5,467.0 549.5,464.9 548.7,462.8 547.9,460.6 547.2,458.4 546.6,456.3 546.1,454.2 545.8,452.1 545.5,450.1 545.3,448.2"/></clipPath>
<filter id="blurd" x="-20%" y="-20%" width="140%" height="140%"><feGaussianBlur stdDeviation="1.0"/></filter>
<g clip-path="url(#clip_d)"><g filter="url(#blurd)">
<polygon points="545.3,446.4 545.3,444.7 545.5,443.1 545.8,441.6 546.2,440.3 546.7,439.1 547.3,438.1 548.0,437.3 548.8,436.6 600.7,406.5 601.8,406.0 602.8,405.5 604.0,405.2 605.1,405.0 606.3,404.9 607.4,404.9 608.6,405.0 609.8,405.3 610.9,405.7 612.0,406.2 613.1,406.8 614.2,407.5 615.2,408.4 616.1,409.3 617.0,410.3 617.8,411.4 618.6,412.5 619.2,413.7 619.8,415.0 620.3,416.3 620.7,417.7 620.9,419.1 621.1,420.5 621.2,421.9 621.2,423.2 621.1,424.6 620.8,425.9 620.5,427.2 620.1,428.5 619.6,429.7 619.0,430.8 618.3,431.9 617.5,432.8 571.9,483.7 571.1,484.3 570.3,484.8 569.3,485.1 568.3,485.2 567.2,485.1 566.1,484.8 564.9,484.4 563.7,483.8 562.4,482.9 561.2,482.0 559.9,480.8 558.6,479.5 557.3,478.0 556.1,476.5 554.9,474.8 553.7,472.9 552.6,471.0 551.5,469.0 550.5,467.0 549.5,464.9 548.7,462.8 547.9,460.6 547.2,458.4 546.6,456.3 546.1,454.2 545.8,452.1 545.5,450.1 545.3,448.2" fill="#fff"/>
<polygon points="545.3,446.4 545.3,444.7 545.5,443.1 545.8,441.6 546.2,440.3 546.7,439.1 547.3,438.1 548.0,437.3 548.8,436.6 600.7,406.5 601.8,406.0 602.8,405.5 604.0,405.2 605.1,405.0 606.3,404.9 607.4,404.9 608.6,405.0 609.8,405.3 610.9,405.7 612.0,406.2 613.1,406.8 614.2,407.5 615.2,408.4 616.1,409.3 617.0,410.3 617.8,411.4 618.6,412.5 619.2,413.7 619.8,415.0 620.3,416.3 620.7,417.7 620.9,419.1 621.1,420.5 621.2,421.9 621.2,423.2 621.1,424.6 620.8,425.9 620.5,427.2 620.1,428.5 619.6,429.7 619.0,430.8 618.3,431.9 617.5,432.8 571.9,483.7 571.1,484.3 570.3,484.8 569.3,485.1 568.3,485.2 567.2,485.1 566.1,484.8 564.9,484.4 563.7,483.8 562.4,482.9 561.2,482.0 559.9,480.8 558.6,479.5 557.3,478.0 556.1,476.5 554.9,474.8 553.7,472.9 552.6,471.0 551.5,469.0 550.5,467.0 549.5,464.9 548.7,462.8 547.9,460.6 547.2,458.4 546.6,456.3 546.1,454.2 545.8,452.1 545.5,450.1 545.3,448.2" fill="#ee1111"/>
<polygon points="558.0,477.6 559.1,476.5 558.3,475.5 555.2,474.2" fill="#f8f4f4"/>
<polygon points="555.2,474.2 558.3,475.5 560.3,475.5 561.4,474.4 562.5,473.3 563.7,472.2 563.4,471.9 560.4,470.7 557.3,469.4 554.1,468.0 550.9,466.6 547.6,465.1" fill="#1ef0f0"/>
<polygon points="547.6,465.1 550.9,466.6 554.1,468.0 557.3,469.4 560.4,470.7 563.4,471.9 564.8,471.2 565.9,470.1 567.0,469.0 566.8,468.8 563.9,467.7 560.9,466.4 557.7,465.1 554.6,463.7 551.4,462.3 548.2,460.8 545.0,459.4 541.9,458.1" fill="#f8f4f4"/>
<polygon points="541.9,458.1 545.0,459.4 548.2,460.8 551.4,462.3 554.6,463.7 557.7,465.1 560.9,466.4 563.9,467.7 566.8,468.8 568.2,467.9 569.3,466.9 570.4,465.8 571.5,464.7 572.7,463.6 571.9,462.8 569.1,461.7 566.1,460.6 563.0,459.3 559.9,458.0 556.8,456.7 553.7,455.4 550.7,454.1 547.7,452.9 544.7,451.9 541.9,450.9 539.3,450.1 536.8,449.6 534.5,449.2" fill="#ee1111"/>
<polygon points="534.5,449.2 536.8,449.6 539.3,450.1 541.9,450.9 544.7,451.9 547.7,452.9 550.7,454.1 553.7,455.4 556.8,456.7 559.9,458.0 563.0,459.3 566.1,460.6 569.1,461.7 571.9,462.8 573.8,462.6 574.9,461.5 576.0,460.4 575.6,459.9 572.8,459.0 569.9,457.9 566.9,456.7 563.9,455.5 560.9,454.3 557.8,453.0 554.8,451.8 551.8,450.6 548.9,449.6 546.1,448.7 543.5,447.9 541.0,447.3 538.6,446.9 536.5,446.8 534.6,446.9 532.9,447.3" fill="#f8f4f4"/>
<polygon points="532.9,447.3 534.6,446.9 536.5,446.8 538.6,446.9 541.0,447.3 543.5,447.9 546.1,448.7 548.9,449.6 551.8,450.6 554.8,451.8 557.8,453.0 560.9,454.3 563.9,455.5 566.9,456.7 569.9,457.9 572.8,459.0 575.6,459.9 577.2,459.4 578.3,458.3 579.4,457.2 577.9,455.4 575.1,454.4 572.2,453.4 569.3,452.2 566.3,451.1 563.3,449.9 560.3,448.7 557.4,447.6 554.5,446.6 551.8,445.7 549.1,445.0 546.6,444.4 544.3,444.0 542.1,443.8 540.1,443.9 538.4,444.2 536.9,444.8 535.5,445.6 534.2,446.4 532.8,447.2" fill="#1ef0f0"/>
<polygon points="536.9,444.8 538.4,444.2 540.1,443.9 542.1,443.8 544.3,444.0 546.6,444.4 549.1,445.0 551.8,445.7 554.5,446.6 557.4,447.6 560.3,448.7 563.3,449.9 566.3,451.1 569.3,452.2 572.2,453.4 575.1,454.4 577.9,455.4 580.6,456.1 581.7,455.1 582.8,454.0 581.4,452.3 578.6,451.4 575.8,450.4 572.9,449.4 570.0,448.3 567.1,447.2 564.1,446.1 561.3,445.0 558.4,444.1 555.7,443.2 553.1,442.5 550.6,441.9 548.3,441.6 546.2,441.4 544.2,441.5 542.5,441.8 541.0,442.4 539.6,443.2 538.2,444.0 536.9,444.8" fill="#f8f4f4"/>
<polygon points="541.0,442.4 542.5,441.8 544.2,441.5 546.2,441.4 548.3,441.6 550.6,441.9 553.1,442.5 555.7,443.2 558.4,444.1 561.3,445.0 564.1,446.1 567.1,447.2 570.0,448.3 572.9,449.4 575.8,450.4 578.6,451.4 581.4,452.3 583.9,452.9 585.1,451.8 586.2,450.8 587.3,449.7 588.4,448.6 589.6,447.5 589.2,447.1 586.6,446.4 583.9,445.6 581.2,444.7 578.4,443.8 575.5,442.8 572.7,441.8 569.9,440.8 567.1,439.9 564.4,439.1 561.8,438.4 559.3,437.8 556.9,437.4 554.7,437.1 552.7,437.1 550.8,437.3 549.2,437.7 547.7,438.4 546.4,439.2 545.0,440.0 543.7,440.8 542.3,441.6 540.9,442.4" fill="#ee1111"/>
<polygon points="549.2,437.7 550.8,437.3 552.7,437.1 554.7,437.1 556.9,437.4 559.3,437.8 561.8,438.4 564.4,439.1 567.1,439.9 569.9,440.8 572.7,441.8 575.5,442.8 578.4,443.8 581.2,444.7 583.9,445.6 586.6,446.4 589.2,447.1 590.7,446.5 591.8,445.4 592.9,444.3 592.9,444.2 590.3,443.6 587.7,442.9 585.0,442.1 582.3,441.2 579.5,440.3 576.7,439.3 573.9,438.4 571.2,437.6 568.5,436.8 565.9,436.1 563.4,435.5 561.1,435.1 558.9,434.8 556.8,434.8 554.9,435.0 553.3,435.4 551.8,436.0 550.4,436.8 549.1,437.6" fill="#f8f4f4"/>
<polygon points="551.8,436.0 553.3,435.4 554.9,435.0 556.8,434.8 558.9,434.8 561.1,435.1 563.4,435.5 565.9,436.1 568.5,436.8 571.2,437.6 573.9,438.4 576.7,439.3 579.5,440.3 582.3,441.2 585.0,442.1 587.7,442.9 590.3,443.6 592.9,444.2 594.1,443.2 595.2,442.2 596.3,441.1 595.3,439.9 592.8,439.3 590.2,438.6 587.5,437.8 584.8,437.0 582.1,436.1 579.4,435.3 576.7,434.5 574.1,433.7 571.5,433.0 569.0,432.5 566.7,432.1 564.4,431.8 562.4,431.8 560.5,431.9 558.7,432.3 557.2,432.8 555.8,433.6 554.5,434.4 553.1,435.2 551.8,436.0" fill="#1ef0f0"/>
<polygon points="557.2,432.8 558.7,432.3 560.5,431.9 562.4,431.8 564.4,431.8 566.7,432.1 569.0,432.5 571.5,433.0 574.1,433.7 576.7,434.5 579.4,435.3 582.1,436.1 584.8,437.0 587.5,437.8 590.2,438.6 592.8,439.3 595.3,439.9 597.4,440.0 598.6,438.9 599.7,437.9 598.8,436.8 596.3,436.2 593.8,435.6 591.2,434.9 588.5,434.1 585.9,433.3 583.2,432.6 580.6,431.8 578.0,431.1 575.4,430.5 573.0,430.0 570.7,429.6 568.5,429.4 566.4,429.3 564.5,429.5 562.8,429.9 561.3,430.4 559.9,431.2 558.5,432.0 557.2,432.8" fill="#f8f4f4"/>
<polygon points="561.3,430.4 562.8,429.9 564.5,429.5 566.4,429.3 568.5,429.4 570.7,429.6 573.0,430.0 575.4,430.5 578.0,431.1 580.6,431.8 583.2,432.6 585.9,433.3 588.5,434.1 591.2,434.9 593.8,435.6 596.3,436.2 598.8,436.8 600.8,436.8 602.0,435.7 603.1,434.6 604.2,433.6 605.3,432.5 606.5,431.4 606.4,431.4 604.1,431.0 601.7,430.5 599.2,430.0 596.7,429.4 594.1,428.7 591.6,428.1 589.0,427.4 586.5,426.8 584.0,426.2 581.6,425.7 579.2,425.3 577.0,425.1 574.9,425.0 572.9,425.0 571.1,425.3 569.5,425.8 568.0,426.4 566.7,427.2 565.3,428.0 564.0,428.8 562.6,429.6 561.3,430.4" fill="#ee1111"/>
<polygon points="568.0,426.4 569.5,425.8 571.1,425.3 572.9,425.0 574.9,425.0 577.0,425.1 579.2,425.3 581.6,425.7 584.0,426.2 586.5,426.8 589.0,427.4 591.6,428.1 594.1,428.7 596.7,429.4 599.2,430.0 601.7,430.5 604.1,431.0 606.4,431.4 607.6,430.4 608.7,429.3 607.7,428.1 605.4,427.7 603.0,427.3 600.5,426.7 598.0,426.1 595.5,425.5 593.0,424.9 590.5,424.4 588.1,423.8 585.7,423.4 583.3,423.0 581.1,422.8 579.0,422.7 577.1,422.7 575.2,423.0 573.6,423.4 572.1,424.0 570.7,424.8 569.4,425.6 568.0,426.4" fill="#f8f4f4"/>
<polygon points="572.1,424.0 573.6,423.4 575.2,423.0 577.1,422.7 579.0,422.7 581.1,422.8 583.3,423.0 585.7,423.4 588.1,423.8 590.5,424.4 593.0,424.9 595.5,425.5 598.0,426.1 600.5,426.7 603.0,427.3 605.4,427.7 607.7,428.1 609.8,428.2 611.0,427.1 612.1,426.1 613.2,425.0 612.6,424.3 610.4,424.0 608.1,423.6 605.7,423.2 603.3,422.7 600.8,422.2 598.4,421.7 595.9,421.2 593.5,420.7 591.2,420.3 588.9,419.9 586.7,419.7 584.6,419.6 582.6,419.7 580.8,419.9 579.1,420.3 577.5,420.9 576.1,421.6 574.8,422.4 573.4,423.2 572.1,424.0" fill="#1ef0f0"/>
<polygon points="577.5,420.9 579.1,420.3 580.8,419.9 582.6,419.7 584.6,419.6 586.7,419.7 588.9,419.9 591.2,420.3 593.5,420.7 595.9,421.2 598.4,421.7 600.8,422.2 603.3,422.7 605.7,423.2 608.1,423.6 610.4,424.0 612.6,424.3 614.3,423.9 615.5,422.8 616.6,421.8 616.1,421.1 613.9,420.9 611.6,420.6 609.3,420.3 606.9,419.8 604.5,419.4 602.1,418.9 599.8,418.5 597.4,418.1 595.1,417.7 592.8,417.4 590.7,417.2 588.6,417.2 586.6,417.2 584.8,417.5 583.1,417.9 581.6,418.5 580.2,419.2 578.8,420.0 577.5,420.8" fill="#f8f4f4"/>
<polygon points="581.6,418.5 583.1,417.9 584.8,417.5 586.6,417.2 588.6,417.2 590.7,417.2 592.8,417.4 595.1,417.7 597.4,418.1 599.8,418.5 602.1,418.9 604.5,419.4 606.9,419.8 609.3,420.3 611.6,420.6 613.9,420.9 616.1,421.1 617.7,420.7 618.8,419.6 620.0,418.5 621.1,417.5 622.2,416.4 621.4,415.4 619.3,415.3 617.1,415.1 614.9,414.8 612.6,414.5 610.3,414.2 608.0,413.9 605.7,413.5 603.5,413.2 601.3,413.0 599.1,412.8 597.0,412.8 595.0,412.8 593.2,413.0 591.4,413.3 589.8,413.8 588.3,414.4 587.0,415.2 585.6,416.0 584.3,416.8 582.9,417.6 581.6,418.4" fill="#ee1111"/>
<polygon points="588.3,414.4 589.8,413.8 591.4,413.3 593.2,413.0 595.0,412.8 597.0,412.8 599.1,412.8 601.3,413.0 603.5,413.2 605.7,413.5 608.0,413.9 610.3,414.2 612.6,414.5 614.9,414.8 617.1,415.1 619.3,415.3 621.4,415.4 623.4,415.3 624.5,414.2 625.6,413.2 625.0,412.5 623.0,412.4 620.9,412.3 618.7,412.1 616.5,411.9 614.2,411.6 612.0,411.3 609.7,411.0 607.5,410.8 605.3,410.6 603.2,410.5 601.1,410.4 599.2,410.5 597.3,410.6 595.5,410.9 593.9,411.4 592.4,412.0 591.0,412.8 589.7,413.6 588.3,414.4" fill="#f8f4f4"/>
<polygon points="592.4,412.0 593.9,411.4 595.5,410.9 597.3,410.6 599.2,410.5 601.1,410.4 603.2,410.5 605.3,410.6 607.5,410.8 609.7,411.0 612.0,411.3 614.2,411.6 616.5,411.9 618.7,412.1 620.9,412.3 623.0,412.4 625.0,412.5 621.6,408.3 619.4,408.1 617.2,407.9 615.1,407.7 612.9,407.6 610.7,407.4 608.6,407.3 606.6,407.3 604.7,407.4 602.8,407.5 601.0,407.8 599.4,408.3 597.8,408.9 596.4,409.6 595.1,410.4 593.7,411.2 592.4,412.0" fill="#1ef0f0"/>
<polygon points="597.8,408.9 599.4,408.3 601.0,407.8 602.8,407.5 604.7,407.4 606.6,407.3 608.6,407.3 610.7,407.4 612.9,407.6 615.1,407.7 617.2,407.9 619.4,408.1 621.6,408.3 618.9,405.0 616.7,404.9 614.6,404.8 612.6,404.8 610.6,404.8 608.7,404.9 606.8,405.1 605.1,405.4 603.4,405.9 601.9,406.5 600.5,407.2 599.1,408.0 597.8,408.8" fill="#f8f4f4"/>
<polygon points="601.9,406.5 603.4,405.9 605.1,405.4 606.8,405.1 608.7,404.9 610.6,404.8 612.6,404.8 614.6,404.8 616.7,404.9 618.9,405.0 615.1,400.5 613.4,400.8 611.7,401.2 610.1,401.8 608.6,402.4 607.3,403.2 605.9,404.0 604.6,404.8 603.2,405.6 601.9,406.4" fill="#ee1111"/>
<polygon points="608.6,402.4 610.1,401.8 611.7,401.2 613.4,400.8 615.1,400.5 614.2,399.4 612.7,400.0 611.3,400.8 610.0,401.6 608.6,402.4" fill="#f8f4f4"/>
<polygon points="612.7,400.0 614.2,399.4 614.0,399.2 612.7,400.0" fill="#1ef0f0"/>
<polygon points="532.8,447.2 534.9,446.0 536.9,444.8 538.9,443.6 540.9,442.4 543.0,441.2 543.0,441.2 540.9,442.4 538.9,443.6 536.9,444.8 534.9,446.0 532.8,447.2" fill="#f5b0b0" fill-opacity="0.8"/>
<polygon points="566.7,488.1 568.3,486.3 569.9,484.6 571.4,482.8 573.0,481.1 574.6,479.3 576.1,477.6 577.7,475.8 579.3,474.1 580.9,472.3 582.4,470.6 584.0,468.8 585.6,467.1 587.1,465.3 588.7,463.5 590.3,461.8 591.9,460.0 593.4,458.3 595.0,456.5 596.6,454.8 598.2,453.0 599.7,451.3 601.3,449.5 602.9,447.8 604.4,446.0 606.0,444.3 607.6,442.5 609.2,440.8 610.7,439.0 612.3,437.3 613.9,435.5 615.4,433.8 617.0,432.0 618.6,430.2 620.2,428.5 621.7,426.7 623.3,425.0 624.9,423.2 626.5,421.5 628.0,419.7 629.6,418.0 630.2,418.7 628.6,420.4 627.1,422.2 625.5,424.0 623.9,425.8 622.4,427.5 620.8,429.3 619.3,431.1 617.7,432.8 616.2,434.6 614.6,436.4 613.1,438.2 611.5,439.9 609.9,441.7 608.4,443.5 606.8,445.3 605.3,447.0 603.7,448.8 602.2,450.6 600.6,452.3 599.1,454.1 597.5,455.9 595.9,457.7 594.4,459.4 592.8,461.2 591.3,463.0 589.7,464.8 588.2,466.5 586.6,468.3 585.1,470.1 583.5,471.8 581.9,473.6 580.4,475.4 578.8,477.2 577.3,478.9 575.7,480.7 574.2,482.5 572.6,484.3 571.1,486.0 569.5,487.8 567.9,489.6" fill="#f5b0b0" fill-opacity="0.8"/>
<polygon points="532.8,447.2 534.9,446.0 536.9,444.8 538.9,443.6 540.9,442.4 543.0,441.2 543.0,441.2 540.9,442.4 538.9,443.6 536.9,444.8 534.9,446.0 532.8,447.2" fill="#ffffff" fill-opacity="0.42"/>
<polygon points="533.0,447.4 535.0,446.2 537.0,445.0 539.0,443.8 541.1,442.6 543.1,441.4 545.1,440.2 547.2,439.0 549.2,437.8 551.2,436.6 553.2,435.4 555.3,434.2 557.3,433.0 559.3,431.8 561.4,430.5 563.4,429.3 565.4,428.1 567.4,426.9 569.5,425.7 571.5,424.5 573.5,423.3 575.6,422.1 577.6,420.9 579.6,419.7 581.6,418.5 583.7,417.3 585.7,416.1 587.7,414.9 589.8,413.7 591.8,412.5 593.8,411.3 595.8,410.1 597.9,408.9 599.9,407.7 601.9,406.5 604.0,405.3 606.0,404.1 608.0,402.9 610.0,401.7 612.1,400.5 614.1,399.3 614.2,399.5 612.2,400.7 610.2,401.9 608.2,403.1 606.1,404.3 604.1,405.5 602.1,406.7 600.1,407.9 598.0,409.1 596.0,410.3 594.0,411.5 592.0,412.7 589.9,413.9 587.9,415.2 585.9,416.4 583.9,417.6 581.9,418.8 579.8,420.0 577.8,421.2 575.8,422.4 573.8,423.6 571.7,424.8 569.7,426.0 567.7,427.2 565.7,428.4 563.6,429.6 561.6,430.8 559.6,432.1 557.6,433.3 555.5,434.5 553.5,435.7 551.5,436.9 549.5,438.1 547.4,439.3 545.4,440.5 543.4,441.7 541.4,442.9 539.3,444.1 537.3,445.3 535.3,446.5 533.3,447.8" fill="#ffffff" fill-opacity="0.42"/>
<polygon points="533.9,448.5 535.9,447.3 537.9,446.1 539.9,444.8 541.9,443.6 544.0,442.4 546.0,441.2 548.0,440.0 550.0,438.7 552.0,437.5 554.0,436.3 556.1,435.1 558.1,433.9 560.1,432.7 562.1,431.4 564.1,430.2 566.1,429.0 568.2,427.8 570.2,426.6 572.2,425.4 574.2,424.1 576.2,422.9 578.2,421.7 580.2,420.5 582.3,419.3 584.3,418.1 586.3,416.8 588.3,415.6 590.3,414.4 592.3,413.2 594.4,412.0 596.4,410.8 598.4,409.5 600.4,408.3 602.4,407.1 604.4,405.9 606.5,404.7 608.5,403.4 610.5,402.2 612.5,401.0 614.5,399.8 614.8,400.2 612.8,401.4 610.8,402.6 608.8,403.9 606.8,405.1 604.8,406.3 602.8,407.5 600.8,408.8 598.8,410.0 596.8,411.2 594.8,412.5 592.8,413.7 590.8,414.9 588.7,416.1 586.7,417.4 584.7,418.6 582.7,419.8 580.7,421.1 578.7,422.3 576.7,423.5 574.7,424.7 572.7,426.0 570.7,427.2 568.7,428.4 566.7,429.7 564.7,430.9 562.7,432.1 560.7,433.3 558.6,434.6 556.6,435.8 554.6,437.0 552.6,438.3 550.6,439.5 548.6,440.7 546.6,441.9 544.6,443.2 542.6,444.4 540.6,445.6 538.6,446.9 536.6,448.1 534.6,449.3" fill="#ffffff" fill-opacity="0.42"/>
<polygon points="535.6,450.6 537.6,449.3 539.6,448.1 541.6,446.9 543.6,445.6 545.6,444.4 547.6,443.1 549.6,441.9 551.6,440.6 553.6,439.4 555.5,438.1 557.5,436.9 559.5,435.6 561.5,434.4 563.5,433.2 565.5,431.9 567.5,430.7 569.5,429.4 571.5,428.2 573.5,426.9 575.5,425.7 577.5,424.4 579.5,423.2 581.5,421.9 583.4,420.7 585.4,419.5 587.4,418.2 589.4,417.0 591.4,415.7 593.4,414.5 595.4,413.2 597.4,412.0 599.4,410.7 601.4,409.5 603.4,408.2 605.4,407.0 607.4,405.7 609.3,404.5 611.3,403.3 613.3,402.0 615.3,400.8 615.8,401.3 613.8,402.6 611.8,403.9 609.9,405.1 607.9,406.4 605.9,407.6 603.9,408.9 601.9,410.2 600.0,411.4 598.0,412.7 596.0,414.0 594.0,415.2 592.1,416.5 590.1,417.8 588.1,419.0 586.1,420.3 584.1,421.5 582.2,422.8 580.2,424.1 578.2,425.3 576.2,426.6 574.2,427.9 572.3,429.1 570.3,430.4 568.3,431.6 566.3,432.9 564.4,434.2 562.4,435.4 560.4,436.7 558.4,438.0 556.4,439.2 554.5,440.5 552.5,441.7 550.5,443.0 548.5,444.3 546.6,445.5 544.6,446.8 542.6,448.1 540.6,449.3 538.6,450.6 536.7,451.8" fill="#ffffff" fill-opacity="0.42"/>
<polygon points="538.1,453.6 540.1,452.3 542.0,451.0 544.0,449.7 545.9,448.4 547.9,447.2 549.9,445.9 551.8,444.6 553.8,443.3 555.7,442.0 557.7,440.7 559.7,439.4 561.6,438.2 563.6,436.9 565.5,435.6 567.5,434.3 569.5,433.0 571.4,431.7 573.4,430.4 575.3,429.2 577.3,427.9 579.2,426.6 581.2,425.3 583.2,424.0 585.1,422.7 587.1,421.4 589.0,420.1 591.0,418.9 593.0,417.6 594.9,416.3 596.9,415.0 598.8,413.7 600.8,412.4 602.8,411.1 604.7,409.9 606.7,408.6 608.6,407.3 610.6,406.0 612.5,404.7 614.5,403.4 616.5,402.1 617.1,402.9 615.1,404.2 613.2,405.5 611.3,406.8 609.3,408.1 607.4,409.4 605.4,410.7 603.5,412.0 601.5,413.3 599.6,414.6 597.7,416.0 595.7,417.3 593.8,418.6 591.8,419.9 589.9,421.2 588.0,422.5 586.0,423.8 584.1,425.1 582.1,426.4 580.2,427.7 578.3,429.0 576.3,430.3 574.4,431.7 572.4,433.0 570.5,434.3 568.6,435.6 566.6,436.9 564.7,438.2 562.7,439.5 560.8,440.8 558.8,442.1 556.9,443.4 555.0,444.7 553.0,446.0 551.1,447.3 549.1,448.7 547.2,450.0 545.3,451.3 543.3,452.6 541.4,453.9 539.4,455.2" fill="#ffffff" fill-opacity="0.42"/>
<polygon points="541.2,457.3 543.1,456.0 545.0,454.7 547.0,453.3 548.9,452.0 550.8,450.6 552.7,449.3 554.6,448.0 556.5,446.6 558.5,445.3 560.4,444.0 562.3,442.6 564.2,441.3 566.1,440.0 568.0,438.6 570.0,437.3 571.9,435.9 573.8,434.6 575.7,433.3 577.6,431.9 579.5,430.6 581.5,429.3 583.4,427.9 585.3,426.6 587.2,425.2 589.1,423.9 591.1,422.6 593.0,421.2 594.9,419.9 596.8,418.6 598.7,417.2 600.6,415.9 602.6,414.6 604.5,413.2 606.4,411.9 608.3,410.5 610.2,409.2 612.1,407.9 614.1,406.5 616.0,405.2 617.9,403.9 618.6,404.7 616.7,406.1 614.8,407.4 612.9,408.8 611.0,410.2 609.1,411.5 607.2,412.9 605.3,414.3 603.4,415.6 601.5,417.0 599.6,418.3 597.7,419.7 595.9,421.1 594.0,422.4 592.1,423.8 590.2,425.2 588.3,426.5 586.4,427.9 584.5,429.2 582.6,430.6 580.7,432.0 578.8,433.3 576.9,434.7 575.0,436.1 573.1,437.4 571.2,438.8 569.3,440.1 567.4,441.5 565.5,442.9 563.6,444.2 561.7,445.6 559.8,446.9 557.9,448.3 556.0,449.7 554.1,451.0 552.2,452.4 550.4,453.8 548.5,455.1 546.6,456.5 544.7,457.8 542.8,459.2" fill="#ffffff" fill-opacity="0.42"/>
<polygon points="544.8,461.6 546.6,460.2 548.5,458.8 550.4,457.4 552.2,456.0 554.1,454.7 556.0,453.3 557.9,451.9 559.7,450.5 561.6,449.1 563.5,447.7 565.3,446.3 567.2,444.9 569.1,443.5 570.9,442.1 572.8,440.7 574.7,439.3 576.5,437.9 578.4,436.5 580.3,435.1 582.1,433.7 584.0,432.3 585.9,430.9 587.8,429.5 589.6,428.1 591.5,426.8 593.4,425.4 595.2,424.0 597.1,422.6 599.0,421.2 600.8,419.8 602.7,418.4 604.6,417.0 606.4,415.6 608.3,414.2 610.2,412.8 612.0,411.4 613.9,410.0 615.8,408.6 617.7,407.2 619.5,405.8 620.3,406.8 618.5,408.2 616.6,409.6 614.8,411.0 612.9,412.5 611.1,413.9 609.2,415.3 607.4,416.7 605.5,418.2 603.7,419.6 601.8,421.0 600.0,422.4 598.2,423.8 596.3,425.3 594.5,426.7 592.6,428.1 590.8,429.5 588.9,431.0 587.1,432.4 585.2,433.8 583.4,435.2 581.5,436.7 579.7,438.1 577.9,439.5 576.0,440.9 574.2,442.3 572.3,443.8 570.5,445.2 568.6,446.6 566.8,448.0 564.9,449.5 563.1,450.9 561.2,452.3 559.4,453.7 557.6,455.1 555.7,456.6 553.9,458.0 552.0,459.4 550.2,460.8 548.3,462.3 546.5,463.7" fill="#ffffff" fill-opacity="0.42"/>
<polygon points="548.6,466.3 550.4,464.8 552.2,463.3 554.1,461.9 555.9,460.4 557.7,459.0 559.5,457.5 561.3,456.1 563.2,454.6 565.0,453.1 566.8,451.7 568.6,450.2 570.4,448.8 572.2,447.3 574.1,445.9 575.9,444.4 577.7,442.9 579.5,441.5 581.3,440.0 583.1,438.6 585.0,437.1 586.8,435.7 588.6,434.2 590.4,432.7 592.2,431.3 594.0,429.8 595.9,428.4 597.7,426.9 599.5,425.4 601.3,424.0 603.1,422.5 604.9,421.1 606.8,419.6 608.6,418.2 610.4,416.7 612.2,415.2 614.0,413.8 615.8,412.3 617.7,410.9 619.5,409.4 621.3,408.0 622.1,408.9 620.3,410.4 618.5,411.9 616.7,413.4 614.9,414.9 613.1,416.4 611.3,417.9 609.6,419.3 607.8,420.8 606.0,422.3 604.2,423.8 602.4,425.3 600.6,426.8 598.8,428.3 597.0,429.7 595.2,431.2 593.4,432.7 591.6,434.2 589.8,435.7 588.0,437.2 586.2,438.7 584.5,440.2 582.7,441.6 580.9,443.1 579.1,444.6 577.3,446.1 575.5,447.6 573.7,449.1 571.9,450.6 570.1,452.0 568.3,453.5 566.5,455.0 564.7,456.5 562.9,458.0 561.1,459.5 559.4,461.0 557.6,462.5 555.8,463.9 554.0,465.4 552.2,466.9 550.4,468.4" fill="#ffffff" fill-opacity="0.42"/>
<polygon points="552.5,471.0 554.3,469.5 556.1,468.0 557.8,466.4 559.6,464.9 561.4,463.4 563.1,461.9 564.9,460.4 566.7,458.8 568.4,457.3 570.2,455.8 571.9,454.3 573.7,452.7 575.5,451.2 577.2,449.7 579.0,448.2 580.8,446.7 582.5,445.1 584.3,443.6 586.1,442.1 587.8,440.6 589.6,439.0 591.3,437.5 593.1,436.0 594.9,434.5 596.6,433.0 598.4,431.4 600.2,429.9 601.9,428.4 603.7,426.9 605.5,425.4 607.2,423.8 609.0,422.3 610.7,420.8 612.5,419.3 614.3,417.7 616.0,416.2 617.8,414.7 619.6,413.2 621.3,411.7 623.1,410.1 623.9,411.1 622.2,412.7 620.4,414.2 618.7,415.8 616.9,417.3 615.2,418.9 613.5,420.4 611.7,422.0 610.0,423.5 608.2,425.1 606.5,426.6 604.8,428.2 603.0,429.7 601.3,431.3 599.5,432.8 597.8,434.4 596.1,435.9 594.3,437.5 592.6,439.0 590.8,440.6 589.1,442.1 587.4,443.7 585.6,445.2 583.9,446.8 582.1,448.3 580.4,449.9 578.7,451.4 576.9,453.0 575.2,454.5 573.4,456.1 571.7,457.6 570.0,459.2 568.2,460.7 566.5,462.3 564.7,463.8 563.0,465.4 561.3,466.9 559.5,468.5 557.8,470.0 556.0,471.6 554.3,473.1" fill="#ffffff" fill-opacity="0.42"/>
<polygon points="556.4,475.6 558.1,474.0 559.8,472.4 561.5,470.9 563.2,469.3 564.9,467.7 566.6,466.1 568.4,464.5 570.1,462.9 571.8,461.4 573.5,459.8 575.2,458.2 576.9,456.6 578.6,455.0 580.3,453.4 582.0,451.9 583.8,450.3 585.5,448.7 587.2,447.1 588.9,445.5 590.6,443.9 592.3,442.4 594.0,440.8 595.7,439.2 597.5,437.6 599.2,436.0 600.9,434.4 602.6,432.8 604.3,431.3 606.0,429.7 607.7,428.1 609.4,426.5 611.2,424.9 612.9,423.3 614.6,421.8 616.3,420.2 618.0,418.6 619.7,417.0 621.4,415.4 623.1,413.8 624.8,412.3 625.6,413.2 623.9,414.8 622.2,416.4 620.5,418.0 618.8,419.6 617.1,421.2 615.5,422.8 613.8,424.4 612.1,426.0 610.4,427.7 608.7,429.3 607.0,430.9 605.3,432.5 603.6,434.1 601.9,435.7 600.3,437.3 598.6,438.9 596.9,440.5 595.2,442.2 593.5,443.8 591.8,445.4 590.1,447.0 588.4,448.6 586.7,450.2 585.0,451.8 583.4,453.4 581.7,455.0 580.0,456.6 578.3,458.3 576.6,459.9 574.9,461.5 573.2,463.1 571.5,464.7 569.8,466.3 568.1,467.9 566.5,469.5 564.8,471.1 563.1,472.8 561.4,474.4 559.7,476.0 558.0,477.6" fill="#ffffff" fill-opacity="0.42"/>
<polygon points="559.9,479.9 561.6,478.2 563.2,476.6 564.9,474.9 566.6,473.3 568.2,471.7 569.9,470.0 571.5,468.4 573.2,466.7 574.9,465.1 576.5,463.4 578.2,461.8 579.9,460.2 581.5,458.5 583.2,456.9 584.9,455.2 586.5,453.6 588.2,452.0 589.9,450.3 591.5,448.7 593.2,447.0 594.8,445.4 596.5,443.8 598.2,442.1 599.8,440.5 601.5,438.8 603.2,437.2 604.8,435.5 606.5,433.9 608.2,432.3 609.8,430.6 611.5,429.0 613.2,427.3 614.8,425.7 616.5,424.1 618.1,422.4 619.8,420.8 621.5,419.1 623.1,417.5 624.8,415.8 626.5,414.2 627.1,415.0 625.5,416.7 623.8,418.3 622.2,420.0 620.5,421.7 618.9,423.3 617.3,425.0 615.6,426.7 614.0,428.3 612.3,430.0 610.7,431.7 609.0,433.3 607.4,435.0 605.7,436.6 604.1,438.3 602.5,440.0 600.8,441.6 599.2,443.3 597.5,445.0 595.9,446.6 594.2,448.3 592.6,450.0 590.9,451.6 589.3,453.3 587.7,455.0 586.0,456.6 584.4,458.3 582.7,460.0 581.1,461.6 579.4,463.3 577.8,465.0 576.1,466.6 574.5,468.3 572.8,469.9 571.2,471.6 569.6,473.3 567.9,474.9 566.3,476.6 564.6,478.3 563.0,479.9 561.3,481.6" fill="#ffffff" fill-opacity="0.42"/>
<polygon points="562.9,483.5 564.6,481.8 566.2,480.2 567.8,478.5 569.4,476.8 571.1,475.1 572.7,473.4 574.3,471.7 575.9,470.0 577.5,468.3 579.2,466.6 580.8,464.9 582.4,463.2 584.0,461.6 585.7,459.9 587.3,458.2 588.9,456.5 590.5,454.8 592.2,453.1 593.8,451.4 595.4,449.7 597.0,448.0 598.6,446.3 600.3,444.6 601.9,443.0 603.5,441.3 605.1,439.6 606.8,437.9 608.4,436.2 610.0,434.5 611.6,432.8 613.3,431.1 614.9,429.4 616.5,427.7 618.1,426.0 619.7,424.3 621.4,422.7 623.0,421.0 624.6,419.3 626.2,417.6 627.9,415.9 628.4,416.5 626.8,418.3 625.2,420.0 623.6,421.7 622.0,423.4 620.4,425.1 618.8,426.8 617.2,428.5 615.5,430.2 613.9,431.9 612.3,433.6 610.7,435.4 609.1,437.1 607.5,438.8 605.9,440.5 604.3,442.2 602.7,443.9 601.1,445.6 599.5,447.3 597.9,449.0 596.3,450.7 594.7,452.5 593.0,454.2 591.4,455.9 589.8,457.6 588.2,459.3 586.6,461.0 585.0,462.7 583.4,464.4 581.8,466.1 580.2,467.9 578.6,469.6 577.0,471.3 575.4,473.0 573.8,474.7 572.2,476.4 570.5,478.1 568.9,479.8 567.3,481.5 565.7,483.2 564.1,485.0" fill="#ffffff" fill-opacity="0.42"/>
<polygon points="565.4,486.5 566.9,484.7 568.5,483.0 570.1,481.3 571.7,479.5 573.3,477.8 574.9,476.1 576.5,474.3 578.1,472.6 579.7,470.9 581.3,469.1 582.9,467.4 584.4,465.7 586.0,464.0 587.6,462.2 589.2,460.5 590.8,458.8 592.4,457.0 594.0,455.3 595.6,453.6 597.2,451.8 598.8,450.1 600.3,448.4 601.9,446.6 603.5,444.9 605.1,443.2 606.7,441.5 608.3,439.7 609.9,438.0 611.5,436.3 613.1,434.5 614.7,432.8 616.3,431.1 617.8,429.3 619.4,427.6 621.0,425.9 622.6,424.2 624.2,422.4 625.8,420.7 627.4,419.0 629.0,417.2 629.4,417.7 627.8,419.4 626.2,421.2 624.6,422.9 623.0,424.7 621.5,426.4 619.9,428.2 618.3,429.9 616.7,431.7 615.2,433.4 613.6,435.1 612.0,436.9 610.4,438.6 608.8,440.4 607.3,442.1 605.7,443.9 604.1,445.6 602.5,447.4 600.9,449.1 599.4,450.8 597.8,452.6 596.2,454.3 594.6,456.1 593.0,457.8 591.5,459.6 589.9,461.3 588.3,463.1 586.7,464.8 585.2,466.5 583.6,468.3 582.0,470.0 580.4,471.8 578.8,473.5 577.3,475.3 575.7,477.0 574.1,478.8 572.5,480.5 570.9,482.2 569.4,484.0 567.8,485.7 566.2,487.5" fill="#ffffff" fill-opacity="0.42"/>
<polygon points="567.0,488.5 568.6,486.7 570.2,484.9 571.7,483.2 573.3,481.4 574.9,479.7 576.4,477.9 578.0,476.2 579.6,474.4 581.1,472.6 582.7,470.9 584.3,469.1 585.8,467.4 587.4,465.6 589.0,463.9 590.5,462.1 592.1,460.3 593.7,458.6 595.2,456.8 596.8,455.1 598.4,453.3 599.9,451.5 601.5,449.8 603.1,448.0 604.7,446.3 606.2,444.5 607.8,442.8 609.4,441.0 610.9,439.2 612.5,437.5 614.1,435.7 615.6,434.0 617.2,432.2 618.8,430.5 620.3,428.7 621.9,426.9 623.5,425.2 625.0,423.4 626.6,421.7 628.2,419.9 629.7,418.2 630.0,418.4 628.4,420.2 626.8,421.9 625.3,423.7 623.7,425.5 622.2,427.2 620.6,429.0 619.0,430.8 617.5,432.5 615.9,434.3 614.3,436.1 612.8,437.8 611.2,439.6 609.7,441.4 608.1,443.1 606.5,444.9 605.0,446.7 603.4,448.4 601.9,450.2 600.3,452.0 598.7,453.7 597.2,455.5 595.6,457.3 594.0,459.0 592.5,460.8 590.9,462.6 589.4,464.3 587.8,466.1 586.2,467.9 584.7,469.6 583.1,471.4 581.6,473.2 580.0,474.9 578.4,476.7 576.9,478.5 575.3,480.2 573.8,482.0 572.2,483.7 570.6,485.5 569.1,487.3 567.5,489.0" fill="#ffffff" fill-opacity="0.42"/>
<polygon points="567.9,489.5 569.4,487.7 571.0,485.9 572.5,484.2 574.1,482.4 575.6,480.6 577.2,478.8 578.8,477.1 580.3,475.3 581.9,473.5 583.4,471.8 585.0,470.0 586.5,468.2 588.1,466.4 589.6,464.7 591.2,462.9 592.8,461.1 594.3,459.4 595.9,457.6 597.4,455.8 599.0,454.0 600.5,452.3 602.1,450.5 603.7,448.7 605.2,447.0 606.8,445.2 608.3,443.4 609.9,441.6 611.4,439.9 613.0,438.1 614.6,436.3 616.1,434.6 617.7,432.8 619.2,431.0 620.8,429.2 622.3,427.5 623.9,425.7 625.5,423.9 627.0,422.2 628.6,420.4 630.1,418.6 630.2,418.7 628.6,420.4 627.1,422.2 625.5,424.0 623.9,425.8 622.4,427.5 620.8,429.3 619.3,431.1 617.7,432.8 616.2,434.6 614.6,436.4 613.1,438.2 611.5,439.9 609.9,441.7 608.4,443.5 606.8,445.3 605.3,447.0 603.7,448.8 602.2,450.6 600.6,452.3 599.1,454.1 597.5,455.9 595.9,457.7 594.4,459.4 592.8,461.2 591.3,463.0 589.7,464.8 588.2,466.5 586.6,468.3 585.1,470.1 583.5,471.8 581.9,473.6 580.4,475.4 578.8,477.2 577.3,478.9 575.7,480.7 574.2,482.5 572.6,484.3 571.1,486.0 569.5,487.8 567.9,489.6" fill="#ffffff" fill-opacity="0.42"/>
<polygon points="570.3,484.8 569.3,485.1 568.3,485.2 567.2,485.1 566.1,484.8 564.9,484.4 563.7,483.8 562.4,482.9 561.2,482.0 559.9,480.8 558.6,479.5 557.3,478.0 556.1,476.5 554.9,474.8 553.7,472.9 552.6,471.0 551.5,469.0 550.5,467.0 549.5,464.9 548.7,462.8 547.9,460.6 547.2,458.4 546.6,456.3 546.1,454.2 545.8,452.1 545.5,450.1 545.3,448.2 545.3,446.4 545.3,444.7 545.5,443.1 545.8,441.6 546.2,440.3 546.7,439.1 547.3,438.1 548.0,437.3 548.8,436.6 549.6,436.1 550.6,435.8 551.6,435.7 552.7,435.8 553.8,436.1 555.0,436.5 556.2,437.2 557.5,438.0 558.7,439.0 560.0,440.1 561.3,441.4 562.6,442.9 563.8,444.5 565.0,446.2 566.2,448.0 567.3,449.9 568.4,451.9 569.4,453.9 570.4,456.0 571.2,458.2 572.0,460.3 572.7,462.5 573.3,464.6 573.8,466.7 574.1,468.8 574.4,470.8 574.6,472.7 574.6,474.6 574.6,476.3 574.4,477.9 574.1,479.3 573.7,480.7 573.2,481.8 572.6,482.8 571.9,483.7 571.1,484.3" fill="#ec2c2c" stroke="#f04848" stroke-width="1.5"/>
<ellipse cx="561.4" cy="464.7" rx="4.2" ry="12" fill="#f8f4f4" fill-opacity="0.9" transform="rotate(10 561.4 464.7)"/>
<ellipse cx="562.4" cy="467.7" rx="2.0" ry="8" fill="#1ef0f0" fill-opacity="1.0" transform="rotate(10 562.4 467.7)"/>
</g></g>
<clipPath id="clip_e"><polygon points="93.3,612.6 93.3,610.9 93.5,609.2 93.7,607.6 94.1,606.2 94.6,604.8 95.3,603.6 96.0,602.5 96.8,601.6 97.8,600.9 98.8,600.3 153.9,569.9 154.8,569.5 155.7,569.2 156.7,569.0 157.7,568.9 158.7,568.9 159.7,569.0 160.7,569.3 161.7,569.6 162.6,570.0 163.6,570.5 164.5,571.2 165.4,571.9 166.2,572.7 167.0,573.5 167.7,574.5 168.3,575.4 168.9,576.5 169.4,577.6 169.8,578.7 170.2,579.9 170.4,581.1 170.6,582.3 170.7,583.5 170.7,584.7 170.6,585.9 170.5,587.1 170.2,588.2 169.9,589.3 169.4,590.3 168.9,591.3 168.4,592.2 167.7,593.0 121.9,643.1 121.0,643.8 120.0,644.4 118.9,644.8 117.7,645.1 116.5,645.2 115.2,645.1 113.9,644.8 112.5,644.4 111.1,643.8 109.7,643.0 108.3,642.1 106.9,641.0 105.5,639.8 104.2,638.4 102.9,637.0 101.6,635.4 100.4,633.7 99.3,631.9 98.2,630.1 97.3,628.2 96.4,626.2 95.6,624.3 94.9,622.3 94.4,620.3 93.9,618.3 93.6,616.4 93.4,614.5"/></clipPath>
<filter id="blure" x="-20%" y="-20%" width="140%" height="140%"><feGaussianBlur stdDeviation="1.0"/></filter>
<g clip-path="url(#clip_e)"><g filter="url(#blure)">
<polygon points="93.3,612.6 93.3,610.9 93.5,609.2 93.7,607.6 94.1,606.2 94.6,604.8 95.3,603.6 96.0,602.5 96.8,601.6 97.8,600.9 98.8,600.3 153.9,569.9 154.8,569.5 155.7,569.2 156.7,569.0 157.7,568.9 158.7,568.9 159.7,569.0 160.7,569.3 161.7,569.6 162.6,570.0 163.6,570.5 164.5,571.2 165.4,571.9 166.2,572.7 167.0,573.5 167.7,574.5 168.3,575.4 168.9,576.5 169.4,577.6 169.8,578.7 170.2,579.9 170.4,581.1 170.6,582.3 170.7,583.5 170.7,584.7 170.6,585.9 170.5,587.1 170.2,588.2 169.9,589.3 169.4,590.3 168.9,591.3 168.4,592.2 167.7,593.0 121.9,643.1 121.0,643.8 120.0,644.4 118.9,644.8 117.7,645.1 116.5,645.2 115.2,645.1 113.9,644.8 112.5,644.4 111.1,643.8 109.7,643.0 108.3,642.1 106.9,641.0 105.5,639.8 104.2,638.4 102.9,637.0 101.6,635.4 100.4,633.7 99.3,631.9 98.2,630.1 97.3,628.2 96.4,626.2 95.6,624.3 94.9,622.3 94.4,620.3 93.9,618.3 93.6,616.4 93.4,614.5" fill="#fff"/>
<polygon points="93.3,612.6 93.3,610.9 93.5,609.2 93.7,607.6 94.1,606.2 94.6,604.8 95.3,603.6 96.0,602.5 96.8,601.6 97.8,600.9 98.8,600.3 153.9,569.9 154.8,569.5 155.7,569.2 156.7,569.0 157.7,568.9 158.7,568.9 159.7,569.0 160.7,569.3 161.7,569.6 162.6,570.0 163.6,570.5 164.5,571.2 165.4,571.9 166.2,572.7 167.0,573.5 167.7,574.5 168.3,575.4 168.9,576.5 169.4,577.6 169.8,578.7 170.2,579.9 170.4,581.1 170.6,582.3 170.7,583.5 170.7,584.7 170.6,585.9 170.5,587.1 170.2,588.2 169.9,589.3 169.4,590.3 168.9,591.3 168.4,592.2 167.7,593.0 121.9,643.1 121.0,643.8 120.0,644.4 118.9,644.8 117.7,645.1 116.5,645.2 115.2,645.1 113.9,644.8 112.5,644.4 111.1,643.8 109.7,643.0 108.3,642.1 106.9,641.0 105.5,639.8 104.2,638.4 102.9,637.0 101.6,635.4 100.4,633.7 99.3,631.9 98.2,630.1 97.3,628.2 96.4,626.2 95.6,624.3 94.9,622.3 94.4,620.3 93.9,618.3 93.6,616.4 93.4,614.5" fill="#1ef0f0"/>
<polygon points="115.7,650.8 116.8,649.6 117.8,648.4 118.9,647.2 118.9,647.1 117.6,648.0 116.1,648.7 114.4,649.1" fill="#1ef0f0"/>
<polygon points="114.4,649.1 116.1,648.7 117.6,648.0 118.9,647.1 120.0,646.0 121.1,644.8 122.2,643.6 122.1,643.5 120.9,644.5 119.4,645.2 117.8,645.7 115.9,645.9 113.9,645.9 111.7,645.7" fill="#f8f4f4"/>
<polygon points="111.7,645.7 113.9,645.9 115.9,645.9 117.8,645.7 119.4,645.2 120.9,644.5 122.1,643.5 123.3,642.4 124.3,641.2 125.4,640.0 126.5,638.8 126.5,638.8 125.3,639.8 123.9,640.6 122.3,641.2 120.5,641.5 118.6,641.6 116.5,641.5 114.2,641.2 111.7,640.7 109.2,640.0 106.4,639.1" fill="#ee1111"/>
<polygon points="106.4,639.1 109.2,640.0 111.7,640.7 114.2,641.2 116.5,641.5 118.6,641.6 120.5,641.5 122.3,641.2 123.9,640.6 125.3,639.8 126.5,638.8 127.6,637.6 128.7,636.4 129.8,635.2 129.7,635.2 128.5,636.2 127.1,636.9 125.5,637.5 123.7,637.8 121.8,637.9 119.6,637.8 117.4,637.5 114.9,637.0 112.4,636.4 109.7,635.6 106.9,634.6 104.0,633.5 101.0,632.3" fill="#f8f4f4"/>
<polygon points="101.0,632.3 104.0,633.5 106.9,634.6 109.7,635.6 112.4,636.4 114.9,637.0 117.4,637.5 119.6,637.8 121.8,637.9 123.7,637.8 125.5,637.5 127.1,636.9 128.5,636.2 129.7,635.2 130.8,634.0 131.9,632.8 133.0,631.6 134.1,630.4 135.2,629.2 135.2,629.2 134.0,630.3 132.7,631.2 131.2,631.8 129.5,632.3 127.6,632.5 125.6,632.6 123.5,632.4 121.2,632.1 118.7,631.6 116.2,630.9 113.5,630.1 110.7,629.2 107.9,628.1 104.9,627.0 102.0,625.8 99.0,624.6 96.0,623.4 93.0,622.3" fill="#1ef0f0"/>
<polygon points="93.0,622.3 96.0,623.4 99.0,624.6 102.0,625.8 104.9,627.0 107.9,628.1 110.7,629.2 113.5,630.1 116.2,630.9 118.7,631.6 121.2,632.1 123.5,632.4 125.6,632.6 127.6,632.5 129.5,632.3 131.2,631.8 132.7,631.2 134.0,630.3 135.2,629.2 136.3,628.0 137.3,626.8 137.3,626.8 136.0,627.7 134.5,628.4 132.8,628.9 131.1,629.2 129.1,629.3 127.0,629.2 124.7,628.9 122.4,628.5 119.9,627.9 117.2,627.1 114.5,626.3 111.7,625.3 108.9,624.3 105.9,623.2 103.0,622.0 100.1,620.9 97.2,619.8 94.3,618.7 91.5,617.7 88.7,616.8" fill="#f8f4f4"/>
<polygon points="88.7,616.8 91.5,617.7 94.3,618.7 97.2,619.8 100.1,620.9 103.0,622.0 105.9,623.2 108.9,624.3 111.7,625.3 114.5,626.3 117.2,627.1 119.9,627.9 122.4,628.5 124.7,628.9 127.0,629.2 129.1,629.3 131.1,629.2 132.8,628.9 134.5,628.4 136.0,627.7 137.3,626.8 138.4,625.6 139.5,624.5 140.6,623.3 141.7,622.1 141.6,622.0 140.4,623.0 139.0,623.8 137.4,624.3 135.7,624.7 133.8,624.9 131.8,624.9 129.6,624.8 127.3,624.4 124.9,624.0 122.3,623.3 119.7,622.6 117.0,621.7 114.2,620.8 111.4,619.8 108.5,618.7 105.7,617.7 102.8,616.6 100.0,615.6 97.2,614.7 94.5,613.8 91.9,613.1 89.3,612.5 87.0,612.1 84.7,611.8" fill="#ee1111"/>
<polygon points="84.7,611.8 87.0,612.1 89.3,612.5 91.9,613.1 94.5,613.8 97.2,614.7 100.0,615.6 102.8,616.6 105.7,617.7 108.5,618.7 111.4,619.8 114.2,620.8 117.0,621.7 119.7,622.6 122.3,623.3 124.9,624.0 127.3,624.4 129.6,624.8 131.8,624.9 133.8,624.9 135.7,624.7 137.4,624.3 139.0,623.8 140.4,623.0 141.6,622.0 142.8,620.9 143.8,619.7 144.9,618.5 144.9,618.4 143.6,619.4 142.2,620.1 140.6,620.7 138.9,621.1 137.0,621.3 135.0,621.3 132.8,621.2 130.6,620.9 128.2,620.4 125.7,619.8 123.1,619.1 120.4,618.3 117.7,617.4 114.9,616.5 112.1,615.5 109.3,614.5 106.5,613.6 103.7,612.6 101.0,611.8 98.3,611.0 95.7,610.3 93.3,609.8 91.0,609.4 88.8,609.2 86.8,609.3 84.9,609.5 83.2,609.9" fill="#f8f4f4"/>
<polygon points="83.2,609.9 84.9,609.5 86.8,609.3 88.8,609.2 91.0,609.4 93.3,609.8 95.7,610.3 98.3,611.0 101.0,611.8 103.7,612.6 106.5,613.6 109.3,614.5 112.1,615.5 114.9,616.5 117.7,617.4 120.4,618.3 123.1,619.1 125.7,619.8 128.2,620.4 130.6,620.9 132.8,621.2 135.0,621.3 137.0,621.3 138.9,621.1 140.6,620.7 142.2,620.1 143.6,619.4 144.9,618.4 146.0,617.3 147.1,616.1 148.2,614.9 149.3,613.7 150.3,612.5 150.3,612.5 149.1,613.5 147.8,614.4 146.3,615.0 144.6,615.6 142.9,615.9 141.0,616.0 138.9,616.0 136.7,615.9 134.5,615.6 132.1,615.1 129.6,614.5 127.0,613.9 124.4,613.1 121.7,612.3 119.0,611.4 116.3,610.6 113.5,609.7 110.8,608.8 108.2,608.0 105.5,607.3 103.0,606.7 100.6,606.2 98.2,605.8 96.0,605.6 94.0,605.5 92.1,605.7 90.3,606.1 88.8,606.7 87.4,607.5 85.9,608.2 84.5,609.0 83.1,609.8" fill="#1ef0f0"/>
<polygon points="88.8,606.7 90.3,606.1 92.1,605.7 94.0,605.5 96.0,605.6 98.2,605.8 100.6,606.2 103.0,606.7 105.5,607.3 108.2,608.0 110.8,608.8 113.5,609.7 116.3,610.6 119.0,611.4 121.7,612.3 124.4,613.1 127.0,613.9 129.6,614.5 132.1,615.1 134.5,615.6 136.7,615.9 138.9,616.0 141.0,616.0 142.9,615.9 144.6,615.6 146.3,615.0 147.8,614.4 149.1,613.5 150.3,612.5 151.4,611.3 152.5,610.1 153.6,608.9 153.6,608.9 152.4,610.0 151.1,610.8 149.6,611.6 148.0,612.1 146.3,612.5 144.4,612.7 142.4,612.8 140.3,612.7 138.1,612.4 135.8,612.1 133.3,611.6 130.8,611.0 128.3,610.3 125.6,609.6 123.0,608.8 120.3,607.9 117.6,607.1 114.9,606.3 112.3,605.6 109.7,604.9 107.2,604.3 104.8,603.8 102.5,603.5 100.3,603.3 98.2,603.2 96.3,603.4 94.6,603.8 93.0,604.3 91.6,605.1 90.2,605.9 88.8,606.7" fill="#f8f4f4"/>
<polygon points="93.0,604.3 94.6,603.8 96.3,603.4 98.2,603.2 100.3,603.3 102.5,603.5 104.8,603.8 107.2,604.3 109.7,604.9 112.3,605.6 114.9,606.3 117.6,607.1 120.3,607.9 123.0,608.8 125.6,609.6 128.3,610.3 130.8,611.0 133.3,611.6 135.8,612.1 138.1,612.4 140.3,612.7 142.4,612.8 144.4,612.7 146.3,612.5 148.0,612.1 149.6,611.6 151.1,610.8 152.4,610.0 153.6,608.9 154.7,607.7 155.8,606.5 156.8,605.3 157.9,604.1 157.9,604.1 156.8,605.2 155.5,606.2 154.1,607.0 152.5,607.6 150.9,608.1 149.1,608.4 147.2,608.5 145.1,608.5 143.0,608.4 140.8,608.1 138.4,607.7 136.0,607.2 133.5,606.7 131.0,606.0 128.4,605.3 125.7,604.6 123.1,603.9 120.5,603.1 117.9,602.4 115.4,601.8 112.9,601.2 110.5,600.8 108.2,600.5 106.0,600.3 104.0,600.2 102.1,600.4 100.3,600.7 98.7,601.2 97.2,602.0 95.8,602.7 94.4,603.5 93.0,604.3" fill="#ee1111"/>
<polygon points="98.7,601.2 100.3,600.7 102.1,600.4 104.0,600.2 106.0,600.3 108.2,600.5 110.5,600.8 112.9,601.2 115.4,601.8 117.9,602.4 120.5,603.1 123.1,603.9 125.7,604.6 128.4,605.3 131.0,606.0 133.5,606.7 136.0,607.2 138.4,607.7 140.8,608.1 143.0,608.4 145.1,608.5 147.2,608.5 149.1,608.4 150.9,608.1 152.5,607.6 154.1,607.0 155.5,606.2 156.8,605.2 157.9,604.1 159.0,602.9 160.1,601.7 161.2,600.5 161.2,600.5 160.0,601.6 158.7,602.6 157.3,603.3 155.8,604.0 154.1,604.4 152.3,604.8 150.4,604.9 148.4,605.0 146.3,604.9 144.1,604.6 141.8,604.3 139.4,603.9 137.0,603.3 134.5,602.8 131.9,602.1 129.4,601.5 126.8,600.8 124.2,600.1 121.7,599.5 119.2,599.0 116.8,598.5 114.5,598.1 112.2,597.8 110.1,597.7 108.1,597.7 106.2,597.9 104.5,598.3 102.9,598.8 101.4,599.6 100.0,600.4 98.6,601.2" fill="#f8f4f4"/>
<polygon points="102.9,598.8 104.5,598.3 106.2,597.9 108.1,597.7 110.1,597.7 112.2,597.8 114.5,598.1 116.8,598.5 119.2,599.0 121.7,599.5 124.2,600.1 126.8,600.8 129.4,601.5 131.9,602.1 134.5,602.8 137.0,603.3 139.4,603.9 141.8,604.3 144.1,604.6 146.3,604.9 148.4,605.0 150.4,604.9 152.3,604.8 154.1,604.4 155.8,604.0 157.3,603.3 158.7,602.6 160.0,601.6 161.2,600.5 162.2,599.3 163.3,598.1 164.4,597.0 165.5,595.8 165.5,595.7 164.2,596.7 162.9,597.6 161.4,598.3 159.9,598.9 158.2,599.3 156.4,599.6 154.5,599.8 152.5,599.8 150.4,599.7 148.2,599.5 145.9,599.2 143.5,598.8 141.1,598.4 138.7,597.9 136.2,597.3 133.7,596.7 131.3,596.2 128.8,595.6 126.4,595.1 124.0,594.7 121.7,594.3 119.4,594.1 117.3,594.0 115.3,594.0 113.4,594.1 111.6,594.5 110.0,595.0 108.5,595.7 107.1,596.5 105.7,597.2 104.3,598.0 102.9,598.8" fill="#1ef0f0"/>
<polygon points="110.0,595.0 111.6,594.5 113.4,594.1 115.3,594.0 117.3,594.0 119.4,594.1 121.7,594.3 124.0,594.7 126.4,595.1 128.8,595.6 131.3,596.2 133.7,596.7 136.2,597.3 138.7,597.9 141.1,598.4 143.5,598.8 145.9,599.2 148.2,599.5 150.4,599.7 152.5,599.8 154.5,599.8 156.4,599.6 158.2,599.3 159.9,598.9 161.4,598.3 162.9,597.6 164.2,596.7 165.5,595.7 166.6,594.6 167.7,593.4 168.7,592.2 168.7,592.1 167.5,593.2 166.2,594.1 164.8,594.8 163.2,595.5 161.6,596.0 159.8,596.3 158.0,596.5 156.0,596.6 154.0,596.6 151.8,596.5 149.6,596.2 147.3,595.9 145.0,595.5 142.6,595.1 140.2,594.6 137.8,594.1 135.3,593.6 132.9,593.1 130.5,592.7 128.2,592.3 125.9,592.0 123.7,591.7 121.5,591.6 119.5,591.6 117.6,591.8 115.8,592.1 114.2,592.6 112.7,593.3 111.3,594.1 109.9,594.9" fill="#f8f4f4"/>
<polygon points="112.7,593.3 114.2,592.6 115.8,592.1 117.6,591.8 119.5,591.6 121.5,591.6 123.7,591.7 125.9,592.0 128.2,592.3 130.5,592.7 132.9,593.1 135.3,593.6 137.8,594.1 140.2,594.6 142.6,595.1 145.0,595.5 147.3,595.9 149.6,596.2 151.8,596.5 154.0,596.6 156.0,596.6 158.0,596.5 159.8,596.3 161.6,596.0 163.2,595.5 164.8,594.8 166.2,594.1 167.5,593.2 168.7,592.1 169.8,591.0 170.9,589.8 172.0,588.6 173.1,587.4 173.1,587.4 171.9,588.5 170.6,589.4 169.2,590.2 167.8,590.9 166.2,591.5 164.5,591.9 162.7,592.3 160.8,592.5 158.9,592.5 156.8,592.5 154.7,592.4 152.5,592.1 150.2,591.9 147.9,591.5 145.5,591.1 143.2,590.7 140.8,590.3 138.4,589.9 136.1,589.5 133.8,589.1 131.5,588.9 129.4,588.7 127.3,588.6 125.2,588.6 123.3,588.8 121.5,589.1 119.9,589.5 118.4,590.2 116.9,591.0 115.5,591.7 114.1,592.5 112.7,593.3" fill="#ee1111"/>
<polygon points="118.4,590.2 119.9,589.5 121.5,589.1 123.3,588.8 125.2,588.6 127.3,588.6 129.4,588.7 131.5,588.9 133.8,589.1 136.1,589.5 138.4,589.9 140.8,590.3 143.2,590.7 145.5,591.1 147.9,591.5 150.2,591.9 152.5,592.1 154.7,592.4 156.8,592.5 158.9,592.5 160.8,592.5 162.7,592.3 164.5,591.9 166.2,591.5 167.8,590.9 169.2,590.2 170.6,589.4 171.9,588.5 173.1,587.4 174.2,586.2 175.2,585.0 176.3,583.8 176.3,583.8 175.1,584.8 173.8,585.8 172.5,586.6 171.0,587.3 169.4,587.9 167.8,588.4 166.0,588.7 164.2,589.0 162.2,589.1 160.2,589.1 158.1,589.0 155.9,588.8 153.7,588.6 151.5,588.3 149.2,588.0 146.9,587.7 144.5,587.3 142.2,586.9 139.9,586.6 137.7,586.4 135.5,586.1 133.4,586.0 131.3,586.0 129.3,586.1 127.5,586.3 125.7,586.6 124.1,587.1 122.6,587.8 121.2,588.6 119.8,589.4 118.4,590.2" fill="#f8f4f4"/>
<polygon points="122.6,587.8 124.1,587.1 125.7,586.6 127.5,586.3 129.3,586.1 131.3,586.0 133.4,586.0 135.5,586.1 137.7,586.4 139.9,586.6 142.2,586.9 144.5,587.3 146.9,587.7 149.2,588.0 151.5,588.3 153.7,588.6 155.9,588.8 158.1,589.0 160.2,589.1 162.2,589.1 164.2,589.0 166.0,588.7 167.8,588.4 169.4,587.9 171.0,587.3 172.5,586.6 173.8,585.8 175.1,584.8 176.3,583.8 177.4,582.6 178.5,581.4 179.6,580.2 180.7,579.0 180.6,578.9 179.4,580.0 178.1,580.9 176.7,581.7 175.2,582.4 173.6,582.9 171.9,583.4 170.2,583.7 168.3,584.0 166.4,584.1 164.4,584.2 162.4,584.1 160.2,584.0 158.1,583.9 155.9,583.7 153.7,583.4 151.4,583.2 149.2,582.9 147.0,582.7 144.8,582.5 142.6,582.3 140.5,582.2 138.4,582.2 136.5,582.3 134.6,582.5 132.8,582.8 131.2,583.3 129.6,583.9 128.2,584.7 126.8,585.5 125.4,586.2 124.0,587.0 122.6,587.8" fill="#1ef0f0"/>
<polygon points="129.6,583.9 131.2,583.3 132.8,582.8 134.6,582.5 136.5,582.3 138.4,582.2 140.5,582.2 142.6,582.3 144.8,582.5 147.0,582.7 149.2,582.9 151.4,583.2 153.7,583.4 155.9,583.7 158.1,583.9 160.2,584.0 162.4,584.1 164.4,584.2 166.4,584.1 168.3,584.0 170.2,583.7 171.9,583.4 173.6,582.9 175.2,582.4 176.7,581.7 178.1,580.9 179.4,580.0 180.6,578.9 180.0,578.2 178.6,578.9 177.0,579.5 175.4,580.1 173.7,580.5 171.9,580.8 170.0,581.0 168.1,581.1 166.1,581.1 164.0,581.1 161.9,581.0 159.8,580.9 157.6,580.7 155.4,580.5 153.2,580.3 151.0,580.1 148.9,580.0 146.8,579.9 144.7,579.8 142.7,579.8 140.7,579.9 138.9,580.1 137.1,580.5 135.4,581.0 133.9,581.6 132.5,582.3 131.0,583.1 129.6,583.9" fill="#f8f4f4"/>
<polygon points="133.9,581.6 135.4,581.0 137.1,580.5 138.9,580.1 140.7,579.9 142.7,579.8 144.7,579.8 146.8,579.9 148.9,580.0 151.0,580.1 153.2,580.3 155.4,580.5 157.6,580.7 159.8,580.9 161.9,581.0 164.0,581.1 166.1,581.1 168.1,581.1 170.0,581.0 171.9,580.8 173.7,580.5 175.4,580.1 177.0,579.5 178.6,578.9 180.0,578.2 178.4,576.2 176.7,576.6 174.9,576.9 173.0,577.1 171.1,577.2 169.1,577.3 167.1,577.3 165.0,577.3 162.9,577.2 160.8,577.1 158.7,576.9 156.6,576.8 154.4,576.7 152.4,576.7 150.3,576.7 148.3,576.7 146.4,576.8 144.5,577.1 142.8,577.4 141.1,577.9 139.5,578.5 138.1,579.2 136.7,580.0 135.3,580.7 133.9,581.5" fill="#ee1111"/>
<polygon points="139.5,578.5 141.1,577.9 142.8,577.4 144.5,577.1 146.4,576.8 148.3,576.7 150.3,576.7 152.4,576.7 154.4,576.7 156.6,576.8 158.7,576.9 160.8,577.1 162.9,577.2 165.0,577.3 167.1,577.3 169.1,577.3 171.1,577.2 173.0,577.1 174.9,576.9 176.7,576.6 178.4,576.2 176.5,573.8 174.6,573.9 172.7,574.1 170.7,574.1 168.7,574.2 166.6,574.1 164.5,574.1 162.5,574.0 160.4,574.0 158.3,574.0 156.3,574.0 154.3,574.0 152.4,574.1 150.5,574.3 148.7,574.6 146.9,575.0 145.3,575.5 143.8,576.1 142.3,576.8 140.9,577.6 139.5,578.4" fill="#f8f4f4"/>
<polygon points="143.8,576.1 145.3,575.5 146.9,575.0 148.7,574.6 150.5,574.3 152.4,574.1 154.3,574.0 156.3,574.0 158.3,574.0 160.4,574.0 162.5,574.0 164.5,574.1 166.6,574.1 168.7,574.2 170.7,574.1 172.7,574.1 174.6,573.9 176.5,573.8 173.3,569.7 171.3,569.8 169.3,569.8 167.3,569.9 165.3,569.9 163.3,570.0 161.4,570.1 159.5,570.2 157.6,570.5 155.8,570.7 154.1,571.1 152.4,571.6 150.8,572.2 149.4,572.9 148.0,573.7 146.5,574.5 145.1,575.3 143.7,576.0" fill="#1ef0f0"/>
<polygon points="149.4,572.9 150.8,572.2 152.4,571.6 154.1,571.1 155.8,570.7 157.6,570.5 159.5,570.2 161.4,570.1 163.3,570.0 165.3,569.9 167.3,569.9 169.3,569.8 171.3,569.8 173.3,569.7 171.3,567.3 169.4,567.4 167.4,567.5 165.5,567.6 163.6,567.8 161.8,568.1 160.0,568.4 158.3,568.8 156.6,569.3 155.1,569.8 153.6,570.5 152.2,571.3 150.8,572.1 149.4,572.9" fill="#f8f4f4"/>
<polygon points="153.6,570.5 155.1,569.8 156.6,569.3 158.3,568.8 160.0,568.4 161.8,568.1 163.6,567.8 165.5,567.6 167.4,567.5 169.4,567.4 171.3,567.3 169.2,564.7 167.4,564.9 165.7,565.3 164.0,565.7 162.3,566.2 160.7,566.7 159.2,567.4 157.8,568.2 156.4,569.0 155.0,569.8 153.6,570.5" fill="#ee1111"/>
<polygon points="159.2,567.4 160.7,566.7 162.3,566.2 164.0,565.7 165.7,565.3 167.4,564.9 169.2,564.7 168.1,563.2 166.5,563.7 164.9,564.3 163.5,565.0 162.0,565.8 160.6,566.6 159.2,567.4" fill="#f8f4f4"/>
<polygon points="163.5,565.0 164.9,564.3 166.5,563.7 168.1,563.2 167.7,562.7 166.3,563.5 164.9,564.3 163.5,565.0" fill="#1ef0f0"/>
<polygon points="83.1,609.8 85.2,608.6 87.4,607.5 89.5,606.3 91.6,605.1 93.7,603.9 93.7,603.9 91.6,605.1 89.5,606.3 87.4,607.5 85.2,608.6 83.1,609.8" fill="#ffffff" fill-opacity="0.35"/>
<polygon points="83.3,610.0 85.4,608.8 87.5,607.6 89.6,606.4 91.7,605.2 93.8,604.1 95.9,602.9 98.0,601.7 100.1,600.5 102.3,599.3 104.4,598.2 106.5,597.0 108.6,595.8 110.7,594.6 112.8,593.4 114.9,592.3 117.0,591.1 119.2,589.9 121.3,588.7 123.4,587.5 125.5,586.4 127.6,585.2 129.7,584.0 131.8,582.8 133.9,581.6 136.1,580.5 138.2,579.3 140.3,578.1 142.4,576.9 144.5,575.7 146.6,574.6 148.7,573.4 150.8,572.2 152.9,571.0 155.1,569.8 157.2,568.7 159.3,567.5 161.4,566.3 163.5,565.1 165.6,563.9 167.7,562.7 167.8,562.9 165.7,564.1 163.6,565.3 161.5,566.4 159.4,567.6 157.3,568.8 155.2,570.0 153.1,571.2 151.0,572.4 148.9,573.6 146.8,574.7 144.7,575.9 142.6,577.1 140.4,578.3 138.3,579.5 136.2,580.7 134.1,581.9 132.0,583.0 129.9,584.2 127.8,585.4 125.7,586.6 123.6,587.8 121.5,589.0 119.4,590.2 117.3,591.3 115.2,592.5 113.0,593.7 110.9,594.9 108.8,596.1 106.7,597.3 104.6,598.5 102.5,599.6 100.4,600.8 98.3,602.0 96.2,603.2 94.1,604.4 92.0,605.6 89.9,606.8 87.8,607.9 85.6,609.1 83.5,610.3" fill="#ffffff" fill-opacity="0.35"/>
<polygon points="84.1,611.0 86.2,609.8 88.3,608.6 90.4,607.4 92.5,606.2 94.6,605.1 96.7,603.9 98.8,602.7 100.9,601.5 103.0,600.3 105.1,599.1 107.2,597.9 109.3,596.7 111.4,595.5 113.5,594.3 115.6,593.1 117.7,591.9 119.8,590.7 121.9,589.5 124.0,588.3 126.1,587.1 128.2,585.9 130.3,584.7 132.4,583.5 134.5,582.3 136.6,581.1 138.7,579.9 140.8,578.7 142.9,577.5 145.0,576.3 147.1,575.1 149.2,573.9 151.3,572.7 153.4,571.6 155.5,570.4 157.6,569.2 159.7,568.0 161.8,566.8 163.9,565.6 166.0,564.4 168.1,563.2 168.3,563.5 166.2,564.7 164.1,565.9 162.1,567.1 160.0,568.3 157.9,569.5 155.8,570.7 153.7,572.0 151.6,573.2 149.5,574.4 147.4,575.6 145.3,576.8 143.2,578.0 141.2,579.2 139.1,580.4 137.0,581.6 134.9,582.8 132.8,584.0 130.7,585.2 128.6,586.5 126.5,587.7 124.4,588.9 122.4,590.1 120.3,591.3 118.2,592.5 116.1,593.7 114.0,594.9 111.9,596.1 109.8,597.3 107.7,598.5 105.6,599.8 103.5,601.0 101.5,602.2 99.4,603.4 97.3,604.6 95.2,605.8 93.1,607.0 91.0,608.2 88.9,609.4 86.8,610.6 84.7,611.8" fill="#ffffff" fill-opacity="0.35"/>
<polygon points="85.7,613.1 87.8,611.8 89.9,610.6 91.9,609.4 94.0,608.2 96.1,606.9 98.2,605.7 100.2,604.5 102.3,603.3 104.4,602.0 106.5,600.8 108.5,599.6 110.6,598.3 112.7,597.1 114.8,595.9 116.8,594.7 118.9,593.4 121.0,592.2 123.1,591.0 125.1,589.8 127.2,588.5 129.3,587.3 131.4,586.1 133.4,584.8 135.5,583.6 137.6,582.4 139.7,581.2 141.7,579.9 143.8,578.7 145.9,577.5 148.0,576.3 150.0,575.0 152.1,573.8 154.2,572.6 156.3,571.3 158.3,570.1 160.4,568.9 162.5,567.7 164.6,566.4 166.6,565.2 168.7,564.0 169.1,564.5 167.0,565.7 165.0,567.0 162.9,568.2 160.9,569.4 158.8,570.7 156.7,571.9 154.7,573.2 152.6,574.4 150.6,575.7 148.5,576.9 146.4,578.2 144.4,579.4 142.3,580.7 140.2,581.9 138.2,583.1 136.1,584.4 134.1,585.6 132.0,586.9 129.9,588.1 127.9,589.4 125.8,590.6 123.8,591.9 121.7,593.1 119.6,594.4 117.6,595.6 115.5,596.8 113.5,598.1 111.4,599.3 109.3,600.6 107.3,601.8 105.2,603.1 103.2,604.3 101.1,605.6 99.0,606.8 97.0,608.0 94.9,609.3 92.9,610.5 90.8,611.8 88.7,613.0 86.7,614.3" fill="#ffffff" fill-opacity="0.35"/>
<polygon points="88.0,616.0 90.1,614.7 92.1,613.4 94.1,612.2 96.2,610.9 98.2,609.6 100.3,608.3 102.3,607.1 104.3,605.8 106.4,604.5 108.4,603.3 110.5,602.0 112.5,600.7 114.5,599.4 116.6,598.2 118.6,596.9 120.7,595.6 122.7,594.4 124.7,593.1 126.8,591.8 128.8,590.6 130.9,589.3 132.9,588.0 134.9,586.7 137.0,585.5 139.0,584.2 141.1,582.9 143.1,581.7 145.1,580.4 147.2,579.1 149.2,577.8 151.3,576.6 153.3,575.3 155.4,574.0 157.4,572.8 159.4,571.5 161.5,570.2 163.5,569.0 165.6,567.7 167.6,566.4 169.6,565.1 170.1,565.8 168.1,567.1 166.1,568.3 164.1,569.6 162.0,570.9 160.0,572.2 158.0,573.5 156.0,574.8 153.9,576.1 151.9,577.4 149.9,578.7 147.9,580.0 145.9,581.3 143.8,582.6 141.8,583.9 139.8,585.2 137.8,586.5 135.8,587.8 133.7,589.1 131.7,590.3 129.7,591.6 127.7,592.9 125.6,594.2 123.6,595.5 121.6,596.8 119.6,598.1 117.6,599.4 115.5,600.7 113.5,602.0 111.5,603.3 109.5,604.6 107.5,605.9 105.4,607.2 103.4,608.5 101.4,609.8 99.4,611.0 97.3,612.3 95.3,613.6 93.3,614.9 91.3,616.2 89.3,617.5" fill="#ffffff" fill-opacity="0.35"/>
<polygon points="90.9,619.6 92.9,618.3 94.9,616.9 96.9,615.6 98.9,614.3 100.9,613.0 102.9,611.6 104.9,610.3 106.9,609.0 108.9,607.7 110.9,606.3 112.9,605.0 114.9,603.7 116.9,602.4 118.9,601.0 120.9,599.7 122.9,598.4 124.8,597.1 126.8,595.7 128.8,594.4 130.8,593.1 132.8,591.8 134.8,590.4 136.8,589.1 138.8,587.8 140.8,586.5 142.8,585.1 144.8,583.8 146.8,582.5 148.8,581.2 150.8,579.8 152.8,578.5 154.8,577.2 156.8,575.9 158.8,574.5 160.8,573.2 162.8,571.9 164.8,570.6 166.8,569.2 168.8,567.9 170.8,566.6 171.4,567.3 169.4,568.7 167.4,570.0 165.4,571.4 163.5,572.7 161.5,574.1 159.5,575.4 157.5,576.8 155.6,578.1 153.6,579.5 151.6,580.8 149.6,582.2 147.6,583.5 145.7,584.9 143.7,586.2 141.7,587.6 139.7,588.9 137.8,590.3 135.8,591.6 133.8,593.0 131.8,594.4 129.9,595.7 127.9,597.1 125.9,598.4 123.9,599.8 122.0,601.1 120.0,602.5 118.0,603.8 116.0,605.2 114.1,606.5 112.1,607.9 110.1,609.2 108.1,610.6 106.2,611.9 104.2,613.3 102.2,614.6 100.2,616.0 98.3,617.3 96.3,618.7 94.3,620.0 92.3,621.4" fill="#ffffff" fill-opacity="0.35"/>
<polygon points="94.2,623.7 96.1,622.3 98.1,621.0 100.0,619.6 102.0,618.2 103.9,616.8 105.9,615.4 107.8,614.0 109.8,612.6 111.7,611.3 113.7,609.9 115.6,608.5 117.6,607.1 119.5,605.7 121.5,604.3 123.4,602.9 125.4,601.5 127.3,600.2 129.3,598.8 131.2,597.4 133.1,596.0 135.1,594.6 137.0,593.2 139.0,591.8 140.9,590.4 142.9,589.1 144.8,587.7 146.8,586.3 148.7,584.9 150.7,583.5 152.6,582.1 154.6,580.7 156.5,579.3 158.5,578.0 160.4,576.6 162.4,575.2 164.3,573.8 166.3,572.4 168.2,571.0 170.1,569.6 172.1,568.2 172.7,569.0 170.8,570.5 168.9,571.9 167.0,573.3 165.0,574.7 163.1,576.1 161.2,577.5 159.3,579.0 157.3,580.4 155.4,581.8 153.5,583.2 151.6,584.6 149.6,586.0 147.7,587.5 145.8,588.9 143.9,590.3 141.9,591.7 140.0,593.1 138.1,594.5 136.2,596.0 134.3,597.4 132.3,598.8 130.4,600.2 128.5,601.6 126.6,603.0 124.6,604.5 122.7,605.9 120.8,607.3 118.9,608.7 116.9,610.1 115.0,611.6 113.1,613.0 111.2,614.4 109.2,615.8 107.3,617.2 105.4,618.6 103.5,620.1 101.6,621.5 99.6,622.9 97.7,624.3 95.8,625.7" fill="#ffffff" fill-opacity="0.35"/>
<polygon points="97.8,628.2 99.7,626.8 101.6,625.3 103.4,623.9 105.3,622.4 107.2,620.9 109.1,619.5 111.0,618.0 112.9,616.6 114.8,615.1 116.7,613.7 118.6,612.2 120.5,610.8 122.4,609.3 124.3,607.9 126.2,606.4 128.1,604.9 130.0,603.5 131.9,602.0 133.7,600.6 135.6,599.1 137.5,597.7 139.4,596.2 141.3,594.8 143.2,593.3 145.1,591.8 147.0,590.4 148.9,588.9 150.8,587.5 152.7,586.0 154.6,584.6 156.5,583.1 158.4,581.7 160.3,580.2 162.2,578.8 164.0,577.3 165.9,575.8 167.8,574.4 169.7,572.9 171.6,571.5 173.5,570.0 174.2,570.9 172.3,572.3 170.4,573.8 168.6,575.3 166.7,576.8 164.8,578.3 163.0,579.8 161.1,581.3 159.2,582.7 157.3,584.2 155.5,585.7 153.6,587.2 151.7,588.7 149.9,590.2 148.0,591.7 146.1,593.1 144.3,594.6 142.4,596.1 140.5,597.6 138.7,599.1 136.8,600.6 134.9,602.1 133.0,603.5 131.2,605.0 129.3,606.5 127.4,608.0 125.6,609.5 123.7,611.0 121.8,612.5 120.0,613.9 118.1,615.4 116.2,616.9 114.4,618.4 112.5,619.9 110.6,621.4 108.8,622.9 106.9,624.3 105.0,625.8 103.1,627.3 101.3,628.8 99.4,630.3" fill="#ffffff" fill-opacity="0.35"/>
<polygon points="101.4,632.8 103.2,631.3 105.1,629.8 106.9,628.2 108.8,626.7 110.6,625.2 112.4,623.7 114.3,622.1 116.1,620.6 118.0,619.1 119.8,617.6 121.6,616.0 123.5,614.5 125.3,613.0 127.2,611.5 129.0,609.9 130.8,608.4 132.7,606.9 134.5,605.4 136.3,603.9 138.2,602.3 140.0,600.8 141.9,599.3 143.7,597.8 145.5,596.2 147.4,594.7 149.2,593.2 151.1,591.7 152.9,590.1 154.7,588.6 156.6,587.1 158.4,585.6 160.3,584.0 162.1,582.5 163.9,581.0 165.8,579.5 167.6,578.0 169.5,576.4 171.3,574.9 173.1,573.4 175.0,571.9 175.6,572.7 173.8,574.2 172.0,575.8 170.2,577.3 168.4,578.9 166.5,580.4 164.7,582.0 162.9,583.5 161.1,585.1 159.3,586.7 157.5,588.2 155.7,589.8 153.8,591.3 152.0,592.9 150.2,594.4 148.4,596.0 146.6,597.5 144.8,599.1 142.9,600.6 141.1,602.2 139.3,603.8 137.5,605.3 135.7,606.9 133.9,608.4 132.1,610.0 130.2,611.5 128.4,613.1 126.6,614.6 124.8,616.2 123.0,617.7 121.2,619.3 119.4,620.8 117.5,622.4 115.7,624.0 113.9,625.5 112.1,627.1 110.3,628.6 108.5,630.2 106.7,631.7 104.8,633.3 103.0,634.8" fill="#ffffff" fill-opacity="0.35"/>
<polygon points="105.0,637.3 106.7,635.7 108.5,634.1 110.3,632.5 112.1,630.9 113.9,629.3 115.7,627.7 117.5,626.1 119.2,624.5 121.0,622.9 122.8,621.4 124.6,619.8 126.4,618.2 128.2,616.6 130.0,615.0 131.7,613.4 133.5,611.8 135.3,610.2 137.1,608.6 138.9,607.0 140.7,605.4 142.5,603.9 144.2,602.3 146.0,600.7 147.8,599.1 149.6,597.5 151.4,595.9 153.2,594.3 155.0,592.7 156.7,591.1 158.5,589.5 160.3,588.0 162.1,586.4 163.9,584.8 165.7,583.2 167.5,581.6 169.2,580.0 171.0,578.4 172.8,576.8 174.6,575.2 176.4,573.6 177.0,574.4 175.2,576.0 173.5,577.6 171.7,579.3 169.9,580.9 168.2,582.5 166.4,584.1 164.6,585.7 162.9,587.3 161.1,589.0 159.4,590.6 157.6,592.2 155.8,593.8 154.1,595.4 152.3,597.1 150.5,598.7 148.8,600.3 147.0,601.9 145.3,603.5 143.5,605.2 141.7,606.8 140.0,608.4 138.2,610.0 136.4,611.6 134.7,613.3 132.9,614.9 131.1,616.5 129.4,618.1 127.6,619.7 125.9,621.4 124.1,623.0 122.3,624.6 120.6,626.2 118.8,627.8 117.0,629.4 115.3,631.1 113.5,632.7 111.8,634.3 110.0,635.9 108.2,637.5 106.5,639.2" fill="#ffffff" fill-opacity="0.35"/>
<polygon points="108.2,641.4 110.0,639.7 111.7,638.1 113.4,636.4 115.2,634.8 116.9,633.1 118.6,631.5 120.4,629.8 122.1,628.1 123.8,626.5 125.6,624.8 127.3,623.2 129.1,621.5 130.8,619.9 132.5,618.2 134.3,616.6 136.0,614.9 137.7,613.3 139.5,611.6 141.2,610.0 143.0,608.3 144.7,606.7 146.4,605.0 148.2,603.4 149.9,601.7 151.6,600.1 153.4,598.4 155.1,596.8 156.8,595.1 158.6,593.5 160.3,591.8 162.1,590.1 163.8,588.5 165.5,586.8 167.3,585.2 169.0,583.5 170.7,581.9 172.5,580.2 174.2,578.6 175.9,576.9 177.7,575.3 178.2,575.9 176.5,577.6 174.8,579.3 173.1,581.0 171.3,582.7 169.6,584.3 167.9,586.0 166.2,587.7 164.5,589.4 162.8,591.0 161.1,592.7 159.3,594.4 157.6,596.1 155.9,597.8 154.2,599.4 152.5,601.1 150.8,602.8 149.0,604.5 147.3,606.1 145.6,607.8 143.9,609.5 142.2,611.2 140.5,612.9 138.7,614.5 137.0,616.2 135.3,617.9 133.6,619.6 131.9,621.2 130.2,622.9 128.4,624.6 126.7,626.3 125.0,627.9 123.3,629.6 121.6,631.3 119.9,633.0 118.1,634.7 116.4,636.3 114.7,638.0 113.0,639.7 111.3,641.4 109.6,643.0" fill="#ffffff" fill-opacity="0.35"/>
<polygon points="111.0,644.9 112.7,643.2 114.4,641.5 116.1,639.8 117.8,638.1 119.5,636.4 121.2,634.7 122.9,633.0 124.6,631.3 126.3,629.6 128.0,627.9 129.7,626.2 131.4,624.5 133.1,622.7 134.8,621.0 136.5,619.3 138.1,617.6 139.8,615.9 141.5,614.2 143.2,612.5 144.9,610.8 146.6,609.1 148.3,607.4 150.0,605.7 151.7,604.0 153.4,602.3 155.1,600.6 156.8,598.9 158.5,597.2 160.2,595.5 161.9,593.7 163.6,592.0 165.3,590.3 167.0,588.6 168.6,586.9 170.3,585.2 172.0,583.5 173.7,581.8 175.4,580.1 177.1,578.4 178.8,576.7 179.2,577.2 177.6,579.0 175.9,580.7 174.2,582.4 172.5,584.1 170.9,585.9 169.2,587.6 167.5,589.3 165.8,591.0 164.1,592.8 162.5,594.5 160.8,596.2 159.1,598.0 157.4,599.7 155.8,601.4 154.1,603.1 152.4,604.9 150.7,606.6 149.0,608.3 147.4,610.0 145.7,611.8 144.0,613.5 142.3,615.2 140.7,616.9 139.0,618.7 137.3,620.4 135.6,622.1 133.9,623.8 132.3,625.6 130.6,627.3 128.9,629.0 127.2,630.8 125.6,632.5 123.9,634.2 122.2,635.9 120.5,637.7 118.8,639.4 117.2,641.1 115.5,642.8 113.8,644.6 112.1,646.3" fill="#ffffff" fill-opacity="0.35"/>
<polygon points="113.3,647.7 114.9,646.0 116.6,644.2 118.3,642.5 119.9,640.7 121.6,639.0 123.2,637.2 124.9,635.5 126.6,633.8 128.2,632.0 129.9,630.3 131.5,628.5 133.2,626.8 134.9,625.0 136.5,623.3 138.2,621.5 139.8,619.8 141.5,618.0 143.2,616.3 144.8,614.5 146.5,612.8 148.2,611.0 149.8,609.3 151.5,607.5 153.1,605.8 154.8,604.0 156.5,602.3 158.1,600.5 159.8,598.8 161.4,597.0 163.1,595.3 164.8,593.5 166.4,591.8 168.1,590.1 169.7,588.3 171.4,586.6 173.1,584.8 174.7,583.1 176.4,581.3 178.0,579.6 179.7,577.8 180.0,578.2 178.4,580.0 176.7,581.7 175.1,583.5 173.4,585.3 171.8,587.0 170.1,588.8 168.5,590.6 166.8,592.3 165.2,594.1 163.5,595.8 161.9,597.6 160.2,599.4 158.6,601.1 156.9,602.9 155.3,604.7 153.6,606.4 152.0,608.2 150.3,609.9 148.7,611.7 147.0,613.5 145.4,615.2 143.7,617.0 142.1,618.8 140.4,620.5 138.8,622.3 137.1,624.0 135.5,625.8 133.9,627.6 132.2,629.3 130.6,631.1 128.9,632.9 127.3,634.6 125.6,636.4 124.0,638.1 122.3,639.9 120.7,641.7 119.0,643.4 117.4,645.2 115.7,647.0 114.1,648.7" fill="#ffffff" fill-opacity="0.35"/>
<polygon points="114.8,649.7 116.5,647.9 118.1,646.1 119.7,644.3 121.4,642.6 123.0,640.8 124.6,639.0 126.3,637.2 127.9,635.5 129.6,633.7 131.2,631.9 132.8,630.1 134.5,628.4 136.1,626.6 137.7,624.8 139.4,623.0 141.0,621.2 142.7,619.5 144.3,617.7 145.9,615.9 147.6,614.1 149.2,612.4 150.8,610.6 152.5,608.8 154.1,607.0 155.8,605.2 157.4,603.5 159.0,601.7 160.7,599.9 162.3,598.1 163.9,596.4 165.6,594.6 167.2,592.8 168.9,591.0 170.5,589.3 172.1,587.5 173.8,585.7 175.4,583.9 177.0,582.1 178.7,580.4 180.3,578.6 180.5,578.8 178.9,580.6 177.2,582.4 175.6,584.2 174.0,586.0 172.3,587.7 170.7,589.5 169.1,591.3 167.5,593.1 165.8,594.9 164.2,596.7 162.6,598.5 160.9,600.2 159.3,602.0 157.7,603.8 156.0,605.6 154.4,607.4 152.8,609.2 151.1,611.0 149.5,612.7 147.9,614.5 146.3,616.3 144.6,618.1 143.0,619.9 141.4,621.7 139.7,623.5 138.1,625.2 136.5,627.0 134.8,628.8 133.2,630.6 131.6,632.4 129.9,634.2 128.3,636.0 126.7,637.7 125.1,639.5 123.4,641.3 121.8,643.1 120.2,644.9 118.5,646.7 116.9,648.5 115.3,650.2" fill="#ffffff" fill-opacity="0.35"/>
<polygon points="115.6,650.6 117.2,648.9 118.8,647.1 120.5,645.3 122.1,643.5 123.7,641.7 125.4,639.9 127.0,638.1 128.6,636.3 130.2,634.5 131.9,632.7 133.5,630.9 135.1,629.1 136.7,627.4 138.4,625.6 140.0,623.8 141.6,622.0 143.2,620.2 144.9,618.4 146.5,616.6 148.1,614.8 149.7,613.0 151.4,611.2 153.0,609.4 154.6,607.6 156.2,605.9 157.9,604.1 159.5,602.3 161.1,600.5 162.7,598.7 164.4,596.9 166.0,595.1 167.6,593.3 169.2,591.5 170.9,589.7 172.5,587.9 174.1,586.1 175.8,584.4 177.4,582.6 179.0,580.8 180.6,579.0 180.7,579.0 179.0,580.8 177.4,582.6 175.8,584.4 174.2,586.2 172.5,588.0 170.9,589.8 169.3,591.6 167.7,593.4 166.0,595.2 164.4,597.0 162.8,598.7 161.2,600.5 159.5,602.3 157.9,604.1 156.3,605.9 154.7,607.7 153.0,609.5 151.4,611.3 149.8,613.1 148.2,614.9 146.5,616.7 144.9,618.5 143.3,620.3 141.7,622.1 140.0,623.9 138.4,625.6 136.8,627.4 135.2,629.2 133.5,631.0 131.9,632.8 130.3,634.6 128.7,636.4 127.1,638.2 125.4,640.0 123.8,641.8 122.2,643.6 120.6,645.4 118.9,647.2 117.3,649.0 115.7,650.8" fill="#ffffff" fill-opacity="0.35"/>
<polygon points="120.0,644.4 118.9,644.8 117.7,645.1 116.5,645.2 115.2,645.1 113.9,644.8 112.5,644.4 111.1,643.8 109.7,643.0 108.3,642.1 106.9,641.0 105.5,639.8 104.2,638.4 102.9,637.0 101.6,635.4 100.4,633.7 99.3,631.9 98.2,630.1 97.3,628.2 96.4,626.2 95.6,624.3 94.9,622.3 94.4,620.3 93.9,618.3 93.6,616.4 93.4,614.5 93.3,612.6 93.3,610.9 93.5,609.2 93.7,607.6 94.1,606.2 94.6,604.8 95.3,603.6 96.0,602.5 96.8,601.6 97.8,600.9 98.8,600.3 99.9,599.9 101.0,599.6 102.3,599.5 103.6,599.6 104.9,599.9 106.2,600.3 107.6,600.9 109.0,601.7 110.4,602.6 111.8,603.7 113.2,604.9 114.6,606.3 115.9,607.8 117.1,609.3 118.3,611.0 119.5,612.8 120.5,614.6 121.5,616.5 122.4,618.5 123.1,620.5 123.8,622.4 124.4,624.4 124.8,626.4 125.2,628.4 125.4,630.2 125.5,632.1 125.4,633.8 125.3,635.5 125.0,637.1 124.6,638.6 124.1,639.9 123.5,641.1 122.7,642.2 121.9,643.1 121.0,643.8" fill="#1ef0f0" stroke="#f0f0f0" stroke-width="1.5"/>
<ellipse cx="103.2" cy="621.8" rx="2.6" ry="13" fill="#ee1111" fill-opacity="1.0" transform="rotate(12 103.2 621.8)"/>
<ellipse cx="113.2" cy="637.8" rx="3.5" ry="4.5" fill="#ee1111" fill-opacity="1.0" transform="rotate(0 113.2 637.8)"/>
<ellipse cx="95.2" cy="611.8" rx="2.5" ry="5" fill="#ee1111" fill-opacity="1.0" transform="rotate(20 95.2 611.8)"/>
<ellipse cx="110.2" cy="623.8" rx="3" ry="9" fill="#f8f4f4" fill-opacity="1.0" transform="rotate(12 110.2 623.8)"/>
</g></g>
<clipPath id="clip_f"><polygon points="238.7,610.2 238.7,608.5 238.9,606.9 239.1,605.5 239.5,604.2 239.9,603.0 240.5,602.0 241.2,601.2 241.9,600.6 242.7,600.1 301.4,569.5 302.4,569.0 303.5,568.6 304.5,568.4 305.6,568.2 306.6,568.2 307.7,568.4 308.7,568.6 309.7,569.0 310.7,569.5 311.7,570.2 312.6,570.9 313.4,571.8 314.2,572.8 314.9,573.8 315.5,575.0 316.1,576.2 316.6,577.5 317.0,578.9 317.3,580.3 317.6,581.8 317.7,583.3 317.8,584.8 317.7,586.3 317.6,587.8 317.3,589.3 317.0,590.7 316.6,592.1 316.1,593.5 315.6,594.8 314.9,596.1 314.2,597.2 313.4,598.3 312.6,599.3 264.8,647.2 264.0,647.8 263.2,648.3 262.3,648.5 261.3,648.6 260.3,648.5 259.2,648.3 258.0,647.8 256.8,647.2 255.6,646.4 254.4,645.4 253.2,644.2 251.9,642.9 250.7,641.5 249.4,639.9 248.3,638.2 247.1,636.4 246.0,634.5 244.9,632.6 243.9,630.5 243.0,628.4 242.1,626.3 241.4,624.2 240.7,622.1 240.1,620.0 239.6,617.9 239.2,615.8 238.9,613.9 238.7,612.0"/></clipPath>
<filter id="blurf" x="-20%" y="-20%" width="140%" height="140%"><feGaussianBlur stdDeviation="1.6"/></filter>
<g clip-path="url(#clip_f)"><g filter="url(#blurf)">
<polygon points="238.7,610.2 238.7,608.5 238.9,606.9 239.1,605.5 239.5,604.2 239.9,603.0 240.5,602.0 241.2,601.2 241.9,600.6 242.7,600.1 301.4,569.5 302.4,569.0 303.5,568.6 304.5,568.4 305.6,568.2 306.6,568.2 307.7,568.4 308.7,568.6 309.7,569.0 310.7,569.5 311.7,570.2 312.6,570.9 313.4,571.8 314.2,572.8 314.9,573.8 315.5,575.0 316.1,576.2 316.6,577.5 317.0,578.9 317.3,580.3 317.6,581.8 317.7,583.3 317.8,584.8 317.7,586.3 317.6,587.8 317.3,589.3 317.0,590.7 316.6,592.1 316.1,593.5 315.6,594.8 314.9,596.1 314.2,597.2 313.4,598.3 312.6,599.3 264.8,647.2 264.0,647.8 263.2,648.3 262.3,648.5 261.3,648.6 260.3,648.5 259.2,648.3 258.0,647.8 256.8,647.2 255.6,646.4 254.4,645.4 253.2,644.2 251.9,642.9 250.7,641.5 249.4,639.9 248.3,638.2 247.1,636.4 246.0,634.5 244.9,632.6 243.9,630.5 243.0,628.4 242.1,626.3 241.4,624.2 240.7,622.1 240.1,620.0 239.6,617.9 239.2,615.8 238.9,613.9 238.7,612.0" fill="#fff"/>
<polygon points="238.7,610.2 238.7,608.5 238.9,606.9 239.1,605.5 239.5,604.2 239.9,603.0 240.5,602.0 241.2,601.2 241.9,600.6 242.7,600.1 301.4,569.5 302.4,569.0 303.5,568.6 304.5,568.4 305.6,568.2 306.6,568.2 307.7,568.4 308.7,568.6 309.7,569.0 310.7,569.5 311.7,570.2 312.6,570.9 313.4,571.8 314.2,572.8 314.9,573.8 315.5,575.0 316.1,576.2 316.6,577.5 317.0,578.9 317.3,580.3 317.6,581.8 317.7,583.3 317.8,584.8 317.7,586.3 317.6,587.8 317.3,589.3 317.0,590.7 316.6,592.1 316.1,593.5 315.6,594.8 314.9,596.1 314.2,597.2 313.4,598.3 312.6,599.3 264.8,647.2 264.0,647.8 263.2,648.3 262.3,648.5 261.3,648.6 260.3,648.5 259.2,648.3 258.0,647.8 256.8,647.2 255.6,646.4 254.4,645.4 253.2,644.2 251.9,642.9 250.7,641.5 249.4,639.9 248.3,638.2 247.1,636.4 246.0,634.5 244.9,632.6 243.9,630.5 243.0,628.4 242.1,626.3 241.4,624.2 240.7,622.1 240.1,620.0 239.6,617.9 239.2,615.8 238.9,613.9 238.7,612.0" fill="#1ef0f0"/>
<polygon points="242.5,631.9 243.8,631.0 245.1,630.0 246.4,629.0 245.1,627.3 241.9,625.7 238.7,624.0 235.5,622.4" fill="#e8fafa"/>
<polygon points="235.5,622.4 238.7,624.0 241.9,625.7 245.1,627.3 247.7,628.1 249.0,627.1 250.3,626.1 250.1,625.8 246.9,624.2 243.7,622.6 240.5,621.0 237.4,619.5 234.3,618.2 231.4,616.9" fill="#1ef0f0"/>
<polygon points="231.4,616.9 234.3,618.2 237.4,619.5 240.5,621.0 243.7,622.6 246.9,624.2 250.1,625.8 251.7,625.2 253.0,624.2 254.3,623.2 255.6,622.3 256.9,621.3 255.6,619.6 252.5,618.1 249.5,616.7 246.4,615.3 243.4,613.9 240.5,612.8 237.7,611.7 235.1,610.9 232.6,610.2 230.3,609.9 228.2,609.8 226.3,610.0" fill="#1ef0f0"/>
<polygon points="226.3,610.0 228.2,609.8 230.3,609.9 232.6,610.2 235.1,610.9 237.7,611.7 240.5,612.8 243.4,613.9 246.4,615.3 249.5,616.7 252.5,618.1 255.6,619.6 258.2,620.3 259.5,619.4 260.9,618.4 262.2,617.4 263.5,616.5 263.4,616.3 260.4,615.0 257.4,613.6 254.3,612.3 251.4,611.0 248.5,609.8 245.7,608.8 243.0,607.9 240.5,607.2 238.1,606.7 235.9,606.4 233.9,606.5 232.1,606.8 230.5,607.4 229.0,608.2 227.6,608.9 226.1,609.7" fill="#e8fafa"/>
<polygon points="232.1,606.8 233.9,606.5 235.9,606.4 238.1,606.7 240.5,607.2 243.0,607.9 245.7,608.8 248.5,609.8 251.4,611.0 254.3,612.3 257.4,613.6 260.4,615.0 263.4,616.3 264.8,615.5 266.1,614.5 265.2,613.3 262.3,612.0 259.3,610.7 256.3,609.5 253.4,608.3 250.6,607.2 247.9,606.3 245.3,605.5 242.9,604.9 240.6,604.6 238.5,604.5 236.6,604.7 234.9,605.1 233.4,605.9 232.0,606.6" fill="#1ef0f0"/>
<polygon points="234.9,605.1 236.6,604.7 238.5,604.5 240.6,604.6 242.9,604.9 245.3,605.5 247.9,606.3 250.6,607.2 253.4,608.3 256.3,609.5 259.3,610.7 262.3,612.0 265.2,613.3 267.4,613.6 268.8,612.6 270.1,611.6 271.4,610.7 272.7,609.7 274.0,608.7 273.8,608.5 271.0,607.3 268.1,606.2 265.2,605.0 262.4,603.9 259.6,602.9 256.9,602.0 254.4,601.3 251.9,600.7 249.6,600.3 247.5,600.2 245.5,600.3 243.8,600.7 242.2,601.3 240.7,602.1 239.3,602.8 237.8,603.6 236.4,604.4 234.9,605.1" fill="#1ef0f0"/>
<polygon points="243.8,600.7 245.5,600.3 247.5,600.2 249.6,600.3 251.9,600.7 254.4,601.3 256.9,602.0 259.6,602.9 262.4,603.9 265.2,605.0 268.1,606.2 271.0,607.3 273.8,608.5 275.3,607.8 276.6,606.8 278.0,605.8 279.3,604.9 278.6,603.9 275.8,602.9 273.0,601.8 270.2,600.8 267.5,599.8 264.8,599.0 262.2,598.2 259.7,597.6 257.4,597.1 255.2,596.9 253.1,596.8 251.3,597.1 249.6,597.5 248.1,598.3 246.6,599.0 245.1,599.8 243.7,600.5" fill="#e8fafa"/>
<polygon points="249.6,597.5 251.3,597.1 253.1,596.8 255.2,596.9 257.4,597.1 259.7,597.6 262.2,598.2 264.8,599.0 267.5,599.8 270.2,600.8 273.0,601.8 275.8,602.9 278.6,603.9 280.6,603.9 281.9,602.9 280.6,601.1 277.8,600.1 275.1,599.1 272.3,598.2 269.7,597.3 267.1,596.5 264.5,595.9 262.1,595.3 259.9,595.0 257.8,594.9 255.8,595.0 254.1,595.4 252.5,596.0 251.0,596.7 249.5,597.5" fill="#1ef0f0"/>
<polygon points="252.5,596.0 254.1,595.4 255.8,595.0 257.8,594.9 259.9,595.0 262.1,595.3 264.5,595.9 267.1,596.5 269.7,597.3 272.3,598.2 275.1,599.1 277.8,600.1 280.6,601.1 283.2,602.0 284.5,601.0 285.8,600.0 287.2,599.1 288.5,598.1 289.8,597.1 289.1,596.2 286.5,595.3 283.8,594.5 281.2,593.6 278.5,592.9 276.0,592.1 273.5,591.5 271.1,591.0 268.9,590.7 266.7,590.6 264.8,590.6 262.9,590.9 261.3,591.4 259.8,592.2 258.3,592.9 256.9,593.7 255.4,594.4 253.9,595.2 252.5,596.0" fill="#1ef0f0"/>
<polygon points="261.3,591.4 262.9,590.9 264.8,590.6 266.7,590.6 268.9,590.7 271.1,591.0 273.5,591.5 276.0,592.1 278.5,592.9 281.2,593.6 283.8,594.5 286.5,595.3 289.1,596.2 291.1,596.2 292.4,595.2 293.7,594.2 295.0,593.3 294.0,591.8 291.4,591.1 288.8,590.3 286.3,589.6 283.7,588.9 281.3,588.3 278.9,587.8 276.6,587.4 274.4,587.2 272.4,587.2 270.5,587.4 268.7,587.7 267.1,588.3 265.7,589.1 264.2,589.9 262.7,590.6 261.3,591.4" fill="#e8fafa"/>
<polygon points="267.1,588.3 268.7,587.7 270.5,587.4 272.4,587.2 274.4,587.2 276.6,587.4 278.9,587.8 281.3,588.3 283.7,588.9 286.3,589.6 288.8,590.3 291.4,591.1 294.0,591.8 296.4,592.3 297.7,591.3 299.0,590.4 298.6,589.8 296.1,589.1 293.5,588.4 291.0,587.7 288.5,587.1 286.0,586.5 283.6,586.0 281.3,585.6 279.1,585.4 277.0,585.3 275.0,585.3 273.2,585.6 271.6,586.1 270.1,586.8 268.6,587.6 267.1,588.3" fill="#1ef0f0"/>
<polygon points="271.6,586.1 273.2,585.6 275.0,585.3 277.0,585.3 279.1,585.4 281.3,585.6 283.6,586.0 286.0,586.5 288.5,587.1 291.0,587.7 293.5,588.4 296.1,589.1 298.6,589.8 300.3,589.4 301.6,588.4 302.9,587.5 304.3,586.5 305.6,585.5 304.6,584.2 302.1,583.6 299.7,583.0 297.3,582.5 294.9,582.0 292.5,581.6 290.2,581.2 288.0,581.0 286.0,580.9 284.0,580.9 282.1,581.2 280.4,581.6 278.9,582.3 277.4,583.0 275.9,583.8 274.5,584.5 273.0,585.3 271.5,586.1" fill="#1ef0f0"/>
<polygon points="278.9,582.3 280.4,581.6 282.1,581.2 284.0,580.9 286.0,580.9 288.0,581.0 290.2,581.2 292.5,581.6 294.9,582.0 297.3,582.5 299.7,583.0 302.1,583.6 304.6,584.2 306.9,584.6 308.2,583.6 309.5,582.6 310.8,581.7 312.1,580.7 311.9,580.3 309.5,579.9 307.2,579.4 304.8,579.0 302.5,578.6 300.2,578.2 297.9,577.8 295.7,577.6 293.6,577.5 291.6,577.5 289.7,577.7 287.9,578.0 286.2,578.5 284.7,579.2 283.2,580.0 281.8,580.7 280.3,581.5 278.8,582.2" fill="#e8fafa"/>
<polygon points="286.2,578.5 287.9,578.0 289.7,577.7 291.6,577.5 293.6,577.5 295.7,577.6 297.9,577.8 300.2,578.2 302.5,578.6 304.8,579.0 307.2,579.4 309.5,579.9 311.9,580.3 313.5,579.7 314.8,578.8 314.1,577.8 311.7,577.4 309.4,577.0 307.1,576.6 304.8,576.2 302.6,575.9 300.4,575.7 298.2,575.5 296.2,575.5 294.2,575.6 292.4,575.9 290.7,576.3 289.1,576.9 287.6,577.7 286.2,578.4" fill="#1ef0f0"/>
<polygon points="289.1,576.9 290.7,576.3 292.4,575.9 294.2,575.6 296.2,575.5 298.2,575.5 300.4,575.7 302.6,575.9 304.8,576.2 307.1,576.6 309.4,577.0 311.7,577.4 314.1,577.8 316.1,577.8 317.4,576.8 318.7,575.9 320.0,574.9 321.3,573.9 320.2,572.3 318.0,572.1 315.7,571.8 313.5,571.6 311.3,571.3 309.2,571.2 307.1,571.1 305.1,571.1 303.1,571.2 301.3,571.4 299.6,571.8 297.9,572.4 296.4,573.1 295.0,573.9 293.5,574.6 292.0,575.4 290.6,576.2 289.1,576.9" fill="#1ef0f0"/>
<polygon points="297.9,572.4 299.6,571.8 301.3,571.4 303.1,571.2 305.1,571.1 307.1,571.1 309.2,571.2 311.3,571.3 313.5,571.6 315.7,571.8 318.0,572.1 320.2,572.3 316.7,567.6 314.6,567.6 312.6,567.6 310.7,567.7 308.8,567.9 307.0,568.2 305.3,568.7 303.8,569.3 302.3,570.1 300.8,570.8 299.4,571.6 297.9,572.3" fill="#e8fafa"/>
<polygon points="303.8,569.3 305.3,568.7 307.0,568.2 308.8,567.9 310.7,567.7 312.6,567.6 314.6,567.6 316.7,567.6 315.3,565.6 313.4,565.8 311.5,566.1 309.8,566.5 308.2,567.1 306.7,567.8 305.2,568.5 303.8,569.3" fill="#1ef0f0"/>
<polygon points="308.2,567.1 309.8,566.5 311.5,566.1 313.4,565.8 315.3,565.6 314.0,564.0 312.6,564.7 311.1,565.5 309.6,566.2 308.2,567.0" fill="#1ef0f0"/>
<polygon points="226.1,609.7 228.3,608.5 230.5,607.4 232.7,606.3 234.9,605.1 237.1,604.0 237.1,604.0 234.9,605.1 232.7,606.3 230.5,607.4 228.3,608.5 226.1,609.7" fill="#ffffff" fill-opacity="0.4"/>
<polygon points="226.2,609.8 228.4,608.7 230.6,607.5 232.8,606.4 235.0,605.2 237.2,604.1 239.4,602.9 241.6,601.8 243.8,600.7 246.0,599.5 248.2,598.4 250.4,597.2 252.6,596.1 254.7,594.9 256.9,593.8 259.1,592.6 261.3,591.5 263.5,590.4 265.7,589.2 267.9,588.1 270.1,586.9 272.3,585.8 274.5,584.6 276.7,583.5 278.9,582.3 281.1,581.2 283.3,580.0 285.5,578.9 287.7,577.8 289.9,576.6 292.1,575.5 294.3,574.3 296.5,573.2 298.7,572.0 300.9,570.9 303.1,569.7 305.3,568.6 307.5,567.5 309.7,566.3 311.9,565.2 314.1,564.0 314.2,564.1 312.0,565.3 309.8,566.4 307.6,567.6 305.4,568.7 303.2,569.9 301.0,571.0 298.8,572.2 296.6,573.3 294.4,574.5 292.2,575.6 290.0,576.8 287.8,577.9 285.6,579.1 283.4,580.2 281.3,581.4 279.1,582.5 276.9,583.7 274.7,584.8 272.5,586.0 270.3,587.1 268.1,588.3 265.9,589.4 263.7,590.6 261.5,591.7 259.3,592.9 257.1,594.0 254.9,595.2 252.7,596.3 250.5,597.5 248.3,598.6 246.2,599.8 244.0,600.9 241.8,602.1 239.6,603.2 237.4,604.4 235.2,605.5 233.0,606.7 230.8,607.8 228.6,609.0 226.4,610.1" fill="#ffffff" fill-opacity="0.4"/>
<polygon points="226.8,610.7 229.0,609.6 231.2,608.4 233.4,607.2 235.6,606.1 237.8,604.9 240.0,603.8 242.2,602.6 244.3,601.4 246.5,600.3 248.7,599.1 250.9,598.0 253.1,596.8 255.3,595.7 257.5,594.5 259.7,593.3 261.9,592.2 264.0,591.0 266.2,589.9 268.4,588.7 270.6,587.6 272.8,586.4 275.0,585.2 277.2,584.1 279.4,582.9 281.5,581.8 283.7,580.6 285.9,579.5 288.1,578.3 290.3,577.1 292.5,576.0 294.7,574.8 296.9,573.7 299.0,572.5 301.2,571.4 303.4,570.2 305.6,569.0 307.8,567.9 310.0,566.7 312.2,565.6 314.4,564.4 314.6,564.7 312.4,565.9 310.2,567.1 308.0,568.2 305.9,569.4 303.7,570.5 301.5,571.7 299.3,572.9 297.1,574.0 294.9,575.2 292.8,576.4 290.6,577.5 288.4,578.7 286.2,579.9 284.0,581.0 281.9,582.2 279.7,583.4 277.5,584.5 275.3,585.7 273.1,586.9 271.0,588.0 268.8,589.2 266.6,590.4 264.4,591.5 262.2,592.7 260.1,593.9 257.9,595.0 255.7,596.2 253.5,597.4 251.3,598.5 249.1,599.7 247.0,600.9 244.8,602.0 242.6,603.2 240.4,604.4 238.2,605.5 236.1,606.7 233.9,607.9 231.7,609.0 229.5,610.2 227.3,611.4" fill="#ffffff" fill-opacity="0.4"/>
<polygon points="228.1,612.4 230.3,611.2 232.4,610.1 234.6,608.9 236.8,607.7 239.0,606.5 241.1,605.3 243.3,604.2 245.5,603.0 247.6,601.8 249.8,600.6 252.0,599.4 254.1,598.2 256.3,597.1 258.5,595.9 260.7,594.7 262.8,593.5 265.0,592.3 267.2,591.2 269.3,590.0 271.5,588.8 273.7,587.6 275.9,586.4 278.0,585.3 280.2,584.1 282.4,582.9 284.5,581.7 286.7,580.5 288.9,579.4 291.0,578.2 293.2,577.0 295.4,575.8 297.6,574.6 299.7,573.4 301.9,572.3 304.1,571.1 306.2,569.9 308.4,568.7 310.6,567.5 312.7,566.4 314.9,565.2 315.3,565.6 313.1,566.8 310.9,568.0 308.8,569.2 306.6,570.4 304.5,571.6 302.3,572.8 300.1,574.0 298.0,575.2 295.8,576.4 293.7,577.6 291.5,578.8 289.3,580.0 287.2,581.2 285.0,582.4 282.9,583.6 280.7,584.8 278.5,586.0 276.4,587.1 274.2,588.3 272.1,589.5 269.9,590.7 267.7,591.9 265.6,593.1 263.4,594.3 261.3,595.5 259.1,596.7 256.9,597.9 254.8,599.1 252.6,600.3 250.5,601.5 248.3,602.7 246.1,603.9 244.0,605.1 241.8,606.3 239.7,607.5 237.5,608.7 235.3,609.9 233.2,611.0 231.0,612.2 228.9,613.4" fill="#ffffff" fill-opacity="0.4"/>
<polygon points="229.9,614.9 232.1,613.7 234.2,612.4 236.3,611.2 238.5,610.0 240.6,608.8 242.8,607.6 244.9,606.4 247.1,605.2 249.2,603.9 251.4,602.7 253.5,601.5 255.7,600.3 257.8,599.1 259.9,597.9 262.1,596.7 264.2,595.4 266.4,594.2 268.5,593.0 270.7,591.8 272.8,590.6 275.0,589.4 277.1,588.1 279.3,586.9 281.4,585.7 283.5,584.5 285.7,583.3 287.8,582.1 290.0,580.9 292.1,579.6 294.3,578.4 296.4,577.2 298.6,576.0 300.7,574.8 302.9,573.6 305.0,572.4 307.1,571.1 309.3,569.9 311.4,568.7 313.6,567.5 315.7,566.3 316.2,566.9 314.0,568.1 311.9,569.3 309.8,570.6 307.6,571.8 305.5,573.0 303.4,574.3 301.2,575.5 299.1,576.7 297.0,578.0 294.8,579.2 292.7,580.4 290.6,581.7 288.5,582.9 286.3,584.1 284.2,585.4 282.1,586.6 279.9,587.8 277.8,589.1 275.7,590.3 273.5,591.5 271.4,592.8 269.3,594.0 267.1,595.2 265.0,596.5 262.9,597.7 260.7,598.9 258.6,600.2 256.5,601.4 254.3,602.6 252.2,603.9 250.1,605.1 247.9,606.3 245.8,607.6 243.7,608.8 241.5,610.0 239.4,611.3 237.3,612.5 235.2,613.7 233.0,615.0 230.9,616.2" fill="#ffffff" fill-opacity="0.4"/>
<polygon points="232.2,618.0 234.3,616.7 236.4,615.5 238.5,614.2 240.7,613.0 242.8,611.7 244.9,610.4 247.0,609.2 249.1,607.9 251.2,606.7 253.3,605.4 255.5,604.2 257.6,602.9 259.7,601.6 261.8,600.4 263.9,599.1 266.0,597.9 268.1,596.6 270.2,595.3 272.4,594.1 274.5,592.8 276.6,591.6 278.7,590.3 280.8,589.1 282.9,587.8 285.0,586.5 287.2,585.3 289.3,584.0 291.4,582.8 293.5,581.5 295.6,580.3 297.7,579.0 299.8,577.7 302.0,576.5 304.1,575.2 306.2,574.0 308.3,572.7 310.4,571.5 312.5,570.2 314.6,568.9 316.8,567.7 317.3,568.4 315.2,569.7 313.1,570.9 311.0,572.2 308.9,573.5 306.8,574.8 304.7,576.1 302.6,577.3 300.5,578.6 298.4,579.9 296.3,581.2 294.2,582.5 292.1,583.7 290.0,585.0 287.9,586.3 285.8,587.6 283.7,588.9 281.6,590.1 279.5,591.4 277.4,592.7 275.3,594.0 273.2,595.3 271.1,596.5 269.0,597.8 266.9,599.1 264.8,600.4 262.7,601.7 260.6,602.9 258.5,604.2 256.4,605.5 254.3,606.8 252.2,608.1 250.1,609.3 248.0,610.6 246.0,611.9 243.9,613.2 241.8,614.5 239.7,615.7 237.6,617.0 235.5,618.3 233.4,619.6" fill="#ffffff" fill-opacity="0.4"/>
<polygon points="234.9,621.6 237.0,620.3 239.0,619.0 241.1,617.7 243.2,616.4 245.3,615.1 247.3,613.8 249.4,612.5 251.5,611.2 253.6,609.9 255.7,608.6 257.7,607.2 259.8,605.9 261.9,604.6 264.0,603.3 266.0,602.0 268.1,600.7 270.2,599.4 272.3,598.1 274.3,596.8 276.4,595.5 278.5,594.2 280.6,592.9 282.7,591.6 284.7,590.2 286.8,588.9 288.9,587.6 291.0,586.3 293.0,585.0 295.1,583.7 297.2,582.4 299.3,581.1 301.3,579.8 303.4,578.5 305.5,577.2 307.6,575.9 309.6,574.5 311.7,573.2 313.8,571.9 315.9,570.6 318.0,569.3 318.5,570.1 316.5,571.4 314.4,572.8 312.4,574.1 310.3,575.4 308.2,576.8 306.2,578.1 304.1,579.4 302.1,580.8 300.0,582.1 298.0,583.4 295.9,584.8 293.8,586.1 291.8,587.4 289.7,588.8 287.7,590.1 285.6,591.4 283.5,592.8 281.5,594.1 279.4,595.4 277.4,596.8 275.3,598.1 273.3,599.4 271.2,600.8 269.1,602.1 267.1,603.4 265.0,604.8 263.0,606.1 260.9,607.4 258.8,608.8 256.8,610.1 254.7,611.4 252.7,612.8 250.6,614.1 248.5,615.4 246.5,616.8 244.4,618.1 242.4,619.4 240.3,620.8 238.3,622.1 236.2,623.4" fill="#ffffff" fill-opacity="0.4"/>
<polygon points="237.9,625.7 239.9,624.3 241.9,623.0 244.0,621.6 246.0,620.2 248.0,618.9 250.1,617.5 252.1,616.1 254.1,614.8 256.2,613.4 258.2,612.0 260.3,610.7 262.3,609.3 264.3,608.0 266.4,606.6 268.4,605.2 270.4,603.9 272.5,602.5 274.5,601.1 276.5,599.8 278.6,598.4 280.6,597.0 282.6,595.7 284.7,594.3 286.7,593.0 288.8,591.6 290.8,590.2 292.8,588.9 294.9,587.5 296.9,586.1 298.9,584.8 301.0,583.4 303.0,582.0 305.0,580.7 307.1,579.3 309.1,577.9 311.1,576.6 313.2,575.2 315.2,573.9 317.3,572.5 319.3,571.1 319.9,572.0 317.9,573.4 315.9,574.8 313.9,576.2 311.9,577.5 309.8,578.9 307.8,580.3 305.8,581.7 303.8,583.1 301.8,584.5 299.8,585.9 297.7,587.3 295.7,588.7 293.7,590.1 291.7,591.4 289.7,592.8 287.7,594.2 285.6,595.6 283.6,597.0 281.6,598.4 279.6,599.8 277.6,601.2 275.6,602.6 273.5,604.0 271.5,605.3 269.5,606.7 267.5,608.1 265.5,609.5 263.5,610.9 261.4,612.3 259.4,613.7 257.4,615.1 255.4,616.5 253.4,617.9 251.4,619.3 249.3,620.6 247.3,622.0 245.3,623.4 243.3,624.8 241.3,626.2 239.3,627.6" fill="#ffffff" fill-opacity="0.4"/>
<polygon points="241.0,630.0 243.0,628.5 245.0,627.1 247.0,625.7 249.0,624.3 251.0,622.9 253.0,621.4 255.0,620.0 256.9,618.6 258.9,617.2 260.9,615.7 262.9,614.3 264.9,612.9 266.9,611.5 268.9,610.0 270.9,608.6 272.9,607.2 274.9,605.8 276.9,604.4 278.9,602.9 280.9,601.5 282.8,600.1 284.8,598.7 286.8,597.2 288.8,595.8 290.8,594.4 292.8,593.0 294.8,591.5 296.8,590.1 298.8,588.7 300.8,587.3 302.8,585.9 304.8,584.4 306.8,583.0 308.7,581.6 310.7,580.2 312.7,578.7 314.7,577.3 316.7,575.9 318.7,574.5 320.7,573.0 321.3,573.9 319.4,575.4 317.4,576.8 315.4,578.3 313.5,579.7 311.5,581.2 309.5,582.6 307.5,584.1 305.6,585.5 303.6,587.0 301.6,588.4 299.7,589.9 297.7,591.3 295.7,592.8 293.7,594.2 291.8,595.7 289.8,597.1 287.8,598.6 285.8,600.0 283.9,601.5 281.9,602.9 279.9,604.4 278.0,605.8 276.0,607.3 274.0,608.7 272.0,610.2 270.1,611.6 268.1,613.1 266.1,614.5 264.1,616.0 262.2,617.4 260.2,618.9 258.2,620.3 256.3,621.8 254.3,623.2 252.3,624.7 250.3,626.1 248.4,627.6 246.4,629.0 244.4,630.5 242.5,631.9" fill="#ffffff" fill-opacity="0.4"/>
<polygon points="244.2,634.3 246.2,632.8 248.1,631.4 250.1,629.9 252.0,628.4 254.0,626.9 255.9,625.4 257.9,623.9 259.8,622.5 261.7,621.0 263.7,619.5 265.6,618.0 267.6,616.5 269.5,615.0 271.5,613.6 273.4,612.1 275.4,610.6 277.3,609.1 279.3,607.6 281.2,606.1 283.2,604.7 285.1,603.2 287.1,601.7 289.0,600.2 291.0,598.7 292.9,597.3 294.9,595.8 296.8,594.3 298.8,592.8 300.7,591.3 302.7,589.8 304.6,588.4 306.6,586.9 308.5,585.4 310.5,583.9 312.4,582.4 314.3,580.9 316.3,579.5 318.2,578.0 320.2,576.5 322.1,575.0 322.8,575.9 320.9,577.4 318.9,578.9 317.0,580.4 315.1,581.9 313.1,583.4 311.2,584.9 309.3,586.4 307.4,588.0 305.4,589.5 303.5,591.0 301.6,592.5 299.6,594.0 297.7,595.5 295.8,597.0 293.9,598.5 291.9,600.0 290.0,601.5 288.1,603.1 286.1,604.6 284.2,606.1 282.3,607.6 280.4,609.1 278.4,610.6 276.5,612.1 274.6,613.6 272.6,615.1 270.7,616.6 268.8,618.2 266.9,619.7 264.9,621.2 263.0,622.7 261.1,624.2 259.1,625.7 257.2,627.2 255.3,628.7 253.4,630.2 251.4,631.7 249.5,633.3 247.6,634.8 245.6,636.3" fill="#ffffff" fill-opacity="0.4"/>
<polygon points="247.4,638.6 249.3,637.1 251.2,635.5 253.1,634.0 255.0,632.4 256.9,630.9 258.8,629.3 260.7,627.8 262.6,626.3 264.5,624.7 266.4,623.2 268.3,621.6 270.2,620.1 272.1,618.6 274.0,617.0 275.9,615.5 277.8,613.9 279.7,612.4 281.6,610.8 283.5,609.3 285.4,607.8 287.4,606.2 289.3,604.7 291.2,603.1 293.1,601.6 295.0,600.0 296.9,598.5 298.8,597.0 300.7,595.4 302.6,593.9 304.5,592.3 306.4,590.8 308.3,589.3 310.2,587.7 312.1,586.2 314.0,584.6 315.9,583.1 317.8,581.5 319.7,580.0 321.6,578.5 323.5,576.9 324.2,577.7 322.3,579.3 320.4,580.9 318.5,582.4 316.6,584.0 314.7,585.6 312.8,587.1 311.0,588.7 309.1,590.3 307.2,591.9 305.3,593.4 303.4,595.0 301.5,596.6 299.6,598.1 297.7,599.7 295.9,601.3 294.0,602.8 292.1,604.4 290.2,606.0 288.3,607.5 286.4,609.1 284.5,610.7 282.7,612.2 280.8,613.8 278.9,615.4 277.0,616.9 275.1,618.5 273.2,620.1 271.3,621.6 269.5,623.2 267.6,624.8 265.7,626.3 263.8,627.9 261.9,629.5 260.0,631.0 258.1,632.6 256.3,634.2 254.4,635.7 252.5,637.3 250.6,638.9 248.7,640.4" fill="#ffffff" fill-opacity="0.4"/>
<polygon points="250.3,642.6 252.2,641.0 254.0,639.4 255.9,637.8 257.8,636.2 259.6,634.6 261.5,633.0 263.4,631.4 265.2,629.8 267.1,628.2 268.9,626.6 270.8,625.0 272.7,623.4 274.5,621.8 276.4,620.2 278.3,618.7 280.1,617.1 282.0,615.5 283.9,613.9 285.7,612.3 287.6,610.7 289.4,609.1 291.3,607.5 293.2,605.9 295.0,604.3 296.9,602.7 298.8,601.1 300.6,599.5 302.5,597.9 304.4,596.3 306.2,594.7 308.1,593.1 310.0,591.5 311.8,589.9 313.7,588.3 315.5,586.7 317.4,585.1 319.3,583.5 321.1,581.9 323.0,580.3 324.9,578.7 325.4,579.5 323.6,581.1 321.7,582.7 319.9,584.3 318.0,585.9 316.2,587.6 314.3,589.2 312.5,590.8 310.6,592.4 308.8,594.1 307.0,595.7 305.1,597.3 303.3,598.9 301.4,600.5 299.6,602.2 297.7,603.8 295.9,605.4 294.0,607.0 292.2,608.6 290.3,610.3 288.5,611.9 286.6,613.5 284.8,615.1 282.9,616.7 281.1,618.4 279.2,620.0 277.4,621.6 275.6,623.2 273.7,624.8 271.9,626.5 270.0,628.1 268.2,629.7 266.3,631.3 264.5,632.9 262.6,634.6 260.8,636.2 258.9,637.8 257.1,639.4 255.2,641.1 253.4,642.7 251.5,644.3" fill="#ffffff" fill-opacity="0.4"/>
<polygon points="253.0,646.2 254.8,644.6 256.6,642.9 258.4,641.3 260.3,639.6 262.1,638.0 263.9,636.3 265.7,634.7 267.6,633.0 269.4,631.4 271.2,629.7 273.1,628.1 274.9,626.4 276.7,624.8 278.5,623.2 280.4,621.5 282.2,619.9 284.0,618.2 285.8,616.6 287.7,614.9 289.5,613.3 291.3,611.6 293.2,610.0 295.0,608.3 296.8,606.7 298.6,605.0 300.5,603.4 302.3,601.7 304.1,600.1 306.0,598.4 307.8,596.8 309.6,595.2 311.4,593.5 313.3,591.9 315.1,590.2 316.9,588.6 318.7,586.9 320.6,585.3 322.4,583.6 324.2,582.0 326.1,580.3 326.5,581.0 324.7,582.6 322.9,584.3 321.1,586.0 319.3,587.6 317.5,589.3 315.7,591.0 313.8,592.6 312.0,594.3 310.2,596.0 308.4,597.6 306.6,599.3 304.8,601.0 303.0,602.7 301.2,604.3 299.3,606.0 297.5,607.7 295.7,609.3 293.9,611.0 292.1,612.7 290.3,614.3 288.5,616.0 286.6,617.7 284.8,619.3 283.0,621.0 281.2,622.7 279.4,624.3 277.6,626.0 275.8,627.7 274.0,629.3 272.1,631.0 270.3,632.7 268.5,634.3 266.7,636.0 264.9,637.7 263.1,639.3 261.3,641.0 259.5,642.7 257.6,644.3 255.8,646.0 254.0,647.7" fill="#ffffff" fill-opacity="0.4"/>
<polygon points="255.2,649.3 257.0,647.6 258.8,645.9 260.6,644.2 262.4,642.5 264.2,640.8 266.0,639.1 267.8,637.4 269.6,635.8 271.4,634.1 273.2,632.4 275.0,630.7 276.8,629.0 278.6,627.3 280.3,625.6 282.1,623.9 283.9,622.2 285.7,620.5 287.5,618.9 289.3,617.2 291.1,615.5 292.9,613.8 294.7,612.1 296.5,610.4 298.3,608.7 300.1,607.0 301.9,605.3 303.7,603.7 305.5,602.0 307.3,600.3 309.1,598.6 310.9,596.9 312.7,595.2 314.5,593.5 316.3,591.8 318.1,590.1 319.9,588.5 321.7,586.8 323.5,585.1 325.3,583.4 327.1,581.7 327.4,582.2 325.7,583.9 323.9,585.6 322.1,587.3 320.3,589.0 318.5,590.7 316.7,592.4 314.9,594.2 313.2,595.9 311.4,597.6 309.6,599.3 307.8,601.0 306.0,602.7 304.2,604.4 302.5,606.1 300.7,607.8 298.9,609.5 297.1,611.2 295.3,612.9 293.5,614.6 291.7,616.3 290.0,618.0 288.2,619.7 286.4,621.4 284.6,623.1 282.8,624.9 281.0,626.6 279.3,628.3 277.5,630.0 275.7,631.7 273.9,633.4 272.1,635.1 270.3,636.8 268.5,638.5 266.8,640.2 265.0,641.9 263.2,643.6 261.4,645.3 259.6,647.0 257.8,648.7 256.1,650.4" fill="#ffffff" fill-opacity="0.4"/>
<polygon points="257.0,651.7 258.7,649.9 260.5,648.2 262.3,646.5 264.0,644.8 265.8,643.0 267.6,641.3 269.4,639.6 271.1,637.9 272.9,636.2 274.7,634.4 276.4,632.7 278.2,631.0 280.0,629.3 281.8,627.5 283.5,625.8 285.3,624.1 287.1,622.4 288.9,620.7 290.6,618.9 292.4,617.2 294.2,615.5 295.9,613.8 297.7,612.0 299.5,610.3 301.3,608.6 303.0,606.9 304.8,605.2 306.6,603.4 308.4,601.7 310.1,600.0 311.9,598.3 313.7,596.5 315.4,594.8 317.2,593.1 319.0,591.4 320.8,589.7 322.5,587.9 324.3,586.2 326.1,584.5 327.8,582.8 328.1,583.1 326.4,584.9 324.6,586.6 322.8,588.3 321.1,590.1 319.3,591.8 317.5,593.5 315.8,595.3 314.0,597.0 312.2,598.7 310.5,600.5 308.7,602.2 307.0,603.9 305.2,605.7 303.4,607.4 301.7,609.1 299.9,610.9 298.1,612.6 296.4,614.3 294.6,616.1 292.8,617.8 291.1,619.5 289.3,621.3 287.5,623.0 285.8,624.7 284.0,626.5 282.3,628.2 280.5,629.9 278.7,631.7 277.0,633.4 275.2,635.1 273.4,636.9 271.7,638.6 269.9,640.4 268.1,642.1 266.4,643.8 264.6,645.6 262.9,647.3 261.1,649.0 259.3,650.8 257.6,652.5" fill="#ffffff" fill-opacity="0.4"/>
<polygon points="258.1,653.3 259.9,651.5 261.7,649.8 263.4,648.1 265.2,646.3 266.9,644.6 268.7,642.8 270.4,641.1 272.2,639.3 274.0,637.6 275.7,635.8 277.5,634.1 279.2,632.3 281.0,630.6 282.7,628.9 284.5,627.1 286.2,625.4 288.0,623.6 289.8,621.9 291.5,620.1 293.3,618.4 295.0,616.6 296.8,614.9 298.5,613.2 300.3,611.4 302.0,609.7 303.8,607.9 305.6,606.2 307.3,604.4 309.1,602.7 310.8,600.9 312.6,599.2 314.3,597.5 316.1,595.7 317.8,594.0 319.6,592.2 321.4,590.5 323.1,588.7 324.9,587.0 326.6,585.2 328.4,583.5 328.5,583.7 326.8,585.5 325.0,587.2 323.3,589.0 321.5,590.7 319.8,592.5 318.0,594.2 316.3,596.0 314.5,597.7 312.8,599.5 311.0,601.2 309.3,603.0 307.5,604.7 305.8,606.5 304.0,608.2 302.3,610.0 300.5,611.7 298.8,613.5 297.0,615.2 295.3,617.0 293.5,618.7 291.8,620.5 290.0,622.2 288.3,624.0 286.5,625.7 284.8,627.5 283.0,629.2 281.3,631.0 279.5,632.7 277.8,634.5 276.0,636.2 274.3,638.0 272.5,639.7 270.8,641.5 269.0,643.2 267.2,645.0 265.5,646.7 263.7,648.5 262.0,650.2 260.2,652.0 258.5,653.8" fill="#ffffff" fill-opacity="0.4"/>
<polygon points="258.7,654.1 260.5,652.3 262.2,650.6 264.0,648.8 265.7,647.1 267.5,645.3 269.2,643.6 271.0,641.8 272.7,640.0 274.5,638.3 276.2,636.5 278.0,634.8 279.7,633.0 281.5,631.3 283.2,629.5 285.0,627.8 286.7,626.0 288.5,624.2 290.2,622.5 291.9,620.7 293.7,619.0 295.4,617.2 297.2,615.5 298.9,613.7 300.7,612.0 302.4,610.2 304.2,608.4 305.9,606.7 307.7,604.9 309.4,603.2 311.2,601.4 312.9,599.7 314.7,597.9 316.4,596.1 318.2,594.4 319.9,592.6 321.7,590.9 323.4,589.1 325.2,587.4 326.9,585.6 328.6,583.9 328.7,583.9 326.9,585.7 325.2,587.4 323.4,589.2 321.7,590.9 319.9,592.7 318.2,594.4 316.5,596.2 314.7,598.0 313.0,599.7 311.2,601.5 309.5,603.2 307.7,605.0 306.0,606.7 304.2,608.5 302.5,610.3 300.7,612.0 299.0,613.8 297.2,615.5 295.5,617.3 293.7,619.0 292.0,620.8 290.2,622.6 288.5,624.3 286.8,626.1 285.0,627.8 283.3,629.6 281.5,631.3 279.8,633.1 278.0,634.9 276.3,636.6 274.5,638.4 272.8,640.1 271.0,641.9 269.3,643.6 267.5,645.4 265.8,647.2 264.0,648.9 262.3,650.7 260.6,652.4 258.8,654.2" fill="#ffffff" fill-opacity="0.4"/>
<ellipse cx="265.7" cy="602.7" rx="6.5" ry="1.8" fill="#ee1111" fill-opacity="1.0" transform="rotate(-10 265.7 602.7)"/>
<ellipse cx="284.7" cy="590.7" rx="5.5" ry="1.6" fill="#ee1111" fill-opacity="1.0" transform="rotate(-8 284.7 590.7)"/>
<ellipse cx="300.7" cy="581.2" rx="4.5" ry="1.4" fill="#ee1111" fill-opacity="1.0" transform="rotate(-6 300.7 581.2)"/>
<polygon points="263.2,648.3 262.3,648.5 261.3,648.6 260.3,648.5 259.2,648.3 258.0,647.8 256.8,647.2 255.6,646.4 254.4,645.4 253.2,644.2 251.9,642.9 250.7,641.5 249.4,639.9 248.3,638.2 247.1,636.4 246.0,634.5 244.9,632.6 243.9,630.5 243.0,628.4 242.1,626.3 241.4,624.2 240.7,622.1 240.1,620.0 239.6,617.9 239.2,615.8 238.9,613.9 238.7,612.0 238.7,610.2 238.7,608.5 238.9,606.9 239.1,605.5 239.5,604.2 239.9,603.0 240.5,602.0 241.2,601.2 241.9,600.6 242.7,600.1 243.6,599.8 244.6,599.8 245.7,599.8 246.8,600.1 247.9,600.6 249.1,601.2 250.3,602.0 251.5,603.0 252.8,604.2 254.0,605.5 255.3,606.9 256.5,608.5 257.7,610.2 258.8,612.0 260.0,613.9 261.0,615.8 262.0,617.9 263.0,620.0 263.8,622.1 264.6,624.2 265.3,626.3 265.9,628.4 266.3,630.5 266.7,632.6 267.0,634.5 267.2,636.4 267.3,638.2 267.2,639.9 267.1,641.5 266.8,642.9 266.5,644.2 266.0,645.4 265.4,646.4 264.8,647.2 264.0,647.8" fill="#48e8e8" stroke="#1ef0f0" stroke-width="1.5"/>
<ellipse cx="247.7" cy="623.7" rx="4.5" ry="13" fill="#f0fafa" fill-opacity="0.9" transform="rotate(14 247.7 623.7)"/>
<ellipse cx="245.7" cy="633.7" rx="1.2" ry="5" fill="#f07070" fill-opacity="0.6" transform="rotate(20 245.7 633.7)"/>
</g></g>
<path d="M67.00,519.60 C75.33,519.72 94.83,520.10 117.00,520.30 C139.17,520.50 175.22,520.47 200.00,520.80 C224.78,521.13 249.03,521.90 265.70,522.30 C282.37,522.70 289.42,522.93 300.00,523.20 C310.58,523.47 323.62,524.00 329.20,523.90 C334.78,523.80 332.17,523.22 333.50,522.60 C334.83,521.98 336.08,521.17 337.20,520.20 C338.32,519.23 339.37,518.03 340.20,516.80 C341.03,515.57 341.87,513.47 342.20,512.80" fill="none" stroke="#000" stroke-width="2.8" stroke-linecap="round"/>
<path d="M117.30,401.20 C117.58,400.77 118.13,399.55 119.00,398.60 C119.87,397.65 120.93,396.60 122.50,395.50 C124.07,394.40 126.45,393.03 128.40,392.00 C130.35,390.97 132.27,390.07 134.20,389.30 C136.13,388.53 137.37,388.17 140.00,387.40 C142.63,386.63 146.67,385.52 150.00,384.70 C153.33,383.88 155.00,383.45 160.00,382.50 C165.00,381.55 173.33,379.95 180.00,379.00 C186.67,378.05 194.50,377.32 200.00,376.80 C205.50,376.28 209.33,376.22 213.00,375.90 C216.67,375.58 219.17,375.15 222.00,374.90 C224.83,374.65 225.33,374.57 230.00,374.40 C234.67,374.23 241.45,374.05 250.00,373.90 C258.55,373.75 271.30,373.68 281.30,373.50 C291.30,373.32 303.22,373.02 310.00,372.80 C316.78,372.58 318.67,372.43 322.00,372.20 C325.33,371.97 327.83,371.63 330.00,371.40 C332.17,371.17 333.58,370.80 335.00,370.80 C336.42,370.80 337.57,371.03 338.50,371.40 C339.43,371.77 340.25,372.73 340.60,373.00" fill="none" stroke="#000" stroke-width="3.0" stroke-linecap="round"/>
<path d="M672.00,514.30 C663.90,514.13 645.40,513.68 623.40,513.30 C601.40,512.92 563.90,512.33 540.00,512.00 C516.10,511.67 496.67,511.58 480.00,511.30 C463.33,511.02 450.00,510.55 440.00,510.30 C430.00,510.05 425.00,509.90 420.00,509.80 C415.00,509.70 412.42,509.63 410.00,509.70 C407.58,509.77 406.75,509.88 405.50,510.20 C404.25,510.52 403.38,511.00 402.50,511.60 C401.62,512.20 400.87,512.98 400.20,513.80 C399.53,514.62 398.98,515.55 398.50,516.50 C398.02,517.45 397.50,519.00 397.30,519.50" fill="none" stroke="#000" stroke-width="3.0" stroke-linecap="round"/>
<path d="M399.30,661.80 C399.60,662.00 400.33,662.73 401.10,663.00 C401.87,663.27 402.50,663.55 403.90,663.40 C405.30,663.25 406.82,662.50 409.50,662.10 C412.18,661.70 413.25,661.28 420.00,661.00 C426.75,660.72 439.30,660.65 450.00,660.40 C460.70,660.15 473.37,659.82 484.20,659.50 C495.03,659.18 505.63,658.93 515.00,658.50 C524.37,658.07 532.90,657.52 540.40,656.90 C547.90,656.28 553.30,655.70 560.00,654.80 C566.70,653.90 574.93,652.53 580.60,651.50 C586.27,650.47 590.27,649.57 594.00,648.60 C597.73,647.63 600.33,646.70 603.00,645.70 C605.67,644.70 607.85,643.67 610.00,642.60 C612.15,641.53 614.32,640.40 615.90,639.30 C617.48,638.20 618.53,637.08 619.50,636.00 C620.47,634.92 621.33,633.33 621.70,632.80" fill="none" stroke="#000" stroke-width="2.8" stroke-linecap="round"/>
<line x1="115.60" y1="520.50" x2="117.10" y2="401.00" stroke="#000" stroke-width="1.0"/>
<line x1="343.40" y1="508.60" x2="347.00" y2="354.90" stroke="#000" stroke-width="1.0"/>
<line x1="395.30" y1="525.40" x2="391.50" y2="679.00" stroke="#000" stroke-width="1.0"/>
<line x1="621.70" y1="632.80" x2="623.50" y2="513.50" stroke="#000" stroke-width="1.0"/>
<polyline points="340.60,372.40 341.10,373.50 343.50,380.30 345.40,387.20 347.20,395.40 349.30,405.30 351.40,417.50 353.50,429.30 355.10,436.20 357.40,438.30 359.50,442.50 361.50,453.10 363.50,467.70 365.60,484.60 367.60,505.70 369.60,527.60 371.30,549.20 373.50,569.30 375.50,586.40 377.40,602.00 379.30,614.60 381.30,628.50 383.50,639.60 385.50,650.10 387.40,660.00 389.50,669.40 391.50,679.00" fill="none" stroke="#000" stroke-width="1.0" stroke-linejoin="round" stroke-linecap="round" />
<polyline points="347.00,354.90 348.90,364.30 351.50,373.80 353.50,383.60 355.40,394.20 357.40,405.50 359.40,418.00 361.50,432.10 363.50,447.50 365.40,464.60 367.30,484.40 368.80,505.90 370.70,528.00 373.20,549.00 375.20,566.50 377.40,580.60 379.50,591.30 381.50,595.50 383.50,597.40 385.40,604.80 387.60,616.40 389.30,628.70 391.50,638.60 393.50,646.60 395.40,653.10 397.50,660.30 399.30,661.80" fill="none" stroke="#000" stroke-width="1.0" stroke-linejoin="round" stroke-linecap="round" />
<rect x="339.75" y="372.15" width="2.7" height="2.7" fill="#000"/>
<rect x="342.15" y="378.95" width="2.7" height="2.7" fill="#000"/>
<rect x="344.05" y="385.85" width="2.7" height="2.7" fill="#000"/>
<rect x="345.85" y="394.05" width="2.7" height="2.7" fill="#000"/>
<rect x="347.95" y="403.95" width="2.7" height="2.7" fill="#000"/>
<rect x="350.05" y="416.15" width="2.7" height="2.7" fill="#000"/>
<rect x="352.15" y="427.95" width="2.7" height="2.7" fill="#000"/>
<rect x="353.75" y="434.85" width="2.7" height="2.7" fill="#000"/>
<rect x="356.05" y="436.95" width="2.7" height="2.7" fill="#000"/>
<rect x="358.15" y="441.15" width="2.7" height="2.7" fill="#000"/>
<rect x="360.15" y="451.75" width="2.7" height="2.7" fill="#000"/>
<rect x="362.15" y="466.35" width="2.7" height="2.7" fill="#000"/>
<rect x="364.25" y="483.25" width="2.7" height="2.7" fill="#000"/>
<rect x="366.25" y="504.35" width="2.7" height="2.7" fill="#000"/>
<rect x="368.25" y="526.25" width="2.7" height="2.7" fill="#000"/>
<rect x="369.95" y="547.85" width="2.7" height="2.7" fill="#000"/>
<rect x="372.15" y="567.95" width="2.7" height="2.7" fill="#000"/>
<rect x="374.15" y="585.05" width="2.7" height="2.7" fill="#000"/>
<rect x="376.05" y="600.65" width="2.7" height="2.7" fill="#000"/>
<rect x="377.95" y="613.25" width="2.7" height="2.7" fill="#000"/>
<rect x="379.95" y="627.15" width="2.7" height="2.7" fill="#000"/>
<rect x="382.15" y="638.25" width="2.7" height="2.7" fill="#000"/>
<rect x="384.15" y="648.75" width="2.7" height="2.7" fill="#000"/>
<rect x="386.05" y="658.65" width="2.7" height="2.7" fill="#000"/>
<rect x="388.15" y="668.05" width="2.7" height="2.7" fill="#000"/>
<rect x="390.15" y="677.65" width="2.7" height="2.7" fill="#000"/>
<rect x="345.65" y="353.55" width="2.7" height="2.7" fill="#000"/>
<rect x="347.55" y="362.95" width="2.7" height="2.7" fill="#000"/>
<rect x="350.15" y="372.45" width="2.7" height="2.7" fill="#000"/>
<rect x="352.15" y="382.25" width="2.7" height="2.7" fill="#000"/>
<rect x="354.05" y="392.85" width="2.7" height="2.7" fill="#000"/>
<rect x="356.05" y="404.15" width="2.7" height="2.7" fill="#000"/>
<rect x="358.05" y="416.65" width="2.7" height="2.7" fill="#000"/>
<rect x="360.15" y="430.75" width="2.7" height="2.7" fill="#000"/>
<rect x="362.15" y="446.15" width="2.7" height="2.7" fill="#000"/>
<rect x="364.05" y="463.25" width="2.7" height="2.7" fill="#000"/>
<rect x="365.95" y="483.05" width="2.7" height="2.7" fill="#000"/>
<rect x="367.45" y="504.55" width="2.7" height="2.7" fill="#000"/>
<rect x="369.35" y="526.65" width="2.7" height="2.7" fill="#000"/>
<rect x="371.85" y="547.65" width="2.7" height="2.7" fill="#000"/>
<rect x="373.85" y="565.15" width="2.7" height="2.7" fill="#000"/>
<rect x="376.05" y="579.25" width="2.7" height="2.7" fill="#000"/>
<rect x="378.15" y="589.95" width="2.7" height="2.7" fill="#000"/>
<rect x="380.15" y="594.15" width="2.7" height="2.7" fill="#000"/>
<rect x="382.15" y="596.05" width="2.7" height="2.7" fill="#000"/>
<rect x="384.05" y="603.45" width="2.7" height="2.7" fill="#000"/>
<rect x="386.25" y="615.05" width="2.7" height="2.7" fill="#000"/>
<rect x="387.95" y="627.35" width="2.7" height="2.7" fill="#000"/>
<rect x="390.15" y="637.25" width="2.7" height="2.7" fill="#000"/>
<rect x="392.15" y="645.25" width="2.7" height="2.7" fill="#000"/>
<rect x="394.05" y="651.75" width="2.7" height="2.7" fill="#000"/>
<rect x="396.15" y="658.95" width="2.7" height="2.7" fill="#000"/>
<rect x="397.95" y="660.45" width="2.7" height="2.7" fill="#000"/>
<rect x="342.05" y="507.25" width="2.7" height="2.7" fill="#000"/>
<rect x="344.05" y="436.55" width="2.7" height="2.7" fill="#000"/>
<rect x="393.95" y="524.05" width="2.7" height="2.7" fill="#000"/>
<rect x="392.25" y="594.45" width="2.7" height="2.7" fill="#000"/>
<rect x="396.25" y="517.45" width="2.7" height="2.7" fill="#000"/>
<rect x="395.05" y="520.85" width="2.7" height="2.7" fill="#000"/>
<rect x="340.85" y="511.25" width="2.7" height="2.7" fill="#000"/>
<rect x="339.15" y="515.15" width="2.7" height="2.7" fill="#000"/>
<rect x="115.85" y="399.85" width="2.7" height="2.7" fill="#000"/>
<line x1="257.40" y1="367.70" x2="236.20" y2="367.70" stroke="#ff0000" stroke-width="1.2"/>
<polygon points="230.20,367.70 236.70,365.50 236.70,369.90" fill="#ff0000"/>
<line x1="229.60" y1="516.20" x2="249.82" y2="514.73" stroke="#ff0000" stroke-width="1.2"/>
<polygon points="255.80,514.30 249.48,516.96 249.16,512.58" fill="#ff0000"/>
<line x1="506.60" y1="518.40" x2="486.40" y2="518.40" stroke="#ff0000" stroke-width="1.2"/>
<polygon points="480.40,518.40 486.90,516.20 486.90,520.60" fill="#ff0000"/>
<line x1="490.60" y1="668.20" x2="510.31" y2="666.97" stroke="#ff0000" stroke-width="1.2"/>
<polygon points="516.30,666.60 509.95,669.20 509.68,664.81" fill="#ff0000"/>
<rect x="539.4" y="654.6" width="2" height="4.4" fill="#ff0000"/>
<line x1="95.00" y1="505.00" x2="89.16" y2="514.27" stroke="#000" stroke-width="1.0"/>
<polygon points="86.50,518.50 87.74,512.78 91.12,514.91" fill="#000"/>
<line x1="320.50" y1="498.00" x2="336.97" y2="505.69" stroke="#000" stroke-width="1.0"/>
<polygon points="341.50,507.80 335.67,507.29 337.36,503.66" fill="#000"/>
<line x1="327.50" y1="437.50" x2="339.01" y2="436.80" stroke="#000" stroke-width="1.0"/>
<polygon points="344.00,436.50 338.63,438.83 338.39,434.84" fill="#000"/>
<line x1="359.50" y1="359.00" x2="353.33" y2="356.91" stroke="#000" stroke-width="1.0"/>
<polygon points="348.60,355.30 354.45,355.17 353.17,358.96" fill="#000"/>
<line x1="357.50" y1="528.00" x2="365.31" y2="511.99" stroke="#000" stroke-width="1.0"/>
<polygon points="367.50,507.50 366.89,513.32 363.29,511.57" fill="#000"/>
<line x1="417.60" y1="676.50" x2="404.57" y2="668.59" stroke="#000" stroke-width="1.0"/>
<polygon points="400.30,666.00 406.04,667.14 403.96,670.56" fill="#000"/>
<line x1="414.30" y1="634.60" x2="403.91" y2="654.20" stroke="#000" stroke-width="1.0"/>
<polygon points="401.10,659.50 402.02,652.63 406.26,654.88" fill="#000"/>
<line x1="637.50" y1="493.70" x2="626.85" y2="507.54" stroke="#000" stroke-width="1.0"/>
<polygon points="623.80,511.50 625.57,505.92 628.74,508.36" fill="#000"/>
<line x1="636.80" y1="530.50" x2="637.23" y2="522.49" stroke="#000" stroke-width="1.0"/>
<polygon points="637.50,517.50 639.20,523.10 635.21,522.88" fill="#000"/>
<text x="95.00" y="503.30" font-size="15.5" text-anchor="start" fill="#000" >a</text>
<text x="310.20" y="501.00" font-size="15.5" text-anchor="start" fill="#000" >b</text>
<text x="316.50" y="442.50" font-size="15.5" text-anchor="start" fill="#000" >c</text>
<text x="360.50" y="368.40" font-size="15.5" text-anchor="start" fill="#000" >d</text>
<text x="350.60" y="536.50" font-size="15.5" text-anchor="start" fill="#000" >e</text>
<text x="417.50" y="678.80" font-size="15.5" text-anchor="start" fill="#000" >f</text>
<text x="634.00" y="543.50" font-size="15.5" text-anchor="start" fill="#000" >g</text>
<text x="148.20" y="420.50" font-size="21" text-anchor="start" fill="#000" >a</text>
<text x="255.20" y="421.30" font-size="21" text-anchor="start" fill="#000" >b</text>
<text x="425.30" y="413.40" font-size="21" text-anchor="start" fill="#000" >c</text>
<text x="563.10" y="412.60" font-size="21" text-anchor="start" fill="#000" >d</text>
<text x="110.30" y="578.10" font-size="21" text-anchor="start" fill="#000" >e</text>
<text x="260.80" y="580.10" font-size="21" text-anchor="start" fill="#000" >f</text>
<text x="494.40" y="570.30" font-size="21" text-anchor="start" fill="#000" >g</text>
<text x="407.00" y="619.30" font-size="19" text-anchor="start" fill="#000" ><tspan font-style="italic">H</tspan><tspan font-size="13" dy="5.5">n</tspan></text>
<text x="629.00" y="477.60" font-size="19.5" text-anchor="start" fill="#000" ><tspan font-style="italic">H</tspan><tspan font-size="14" dy="5.3">an</tspan></text>
</svg></body></html>
